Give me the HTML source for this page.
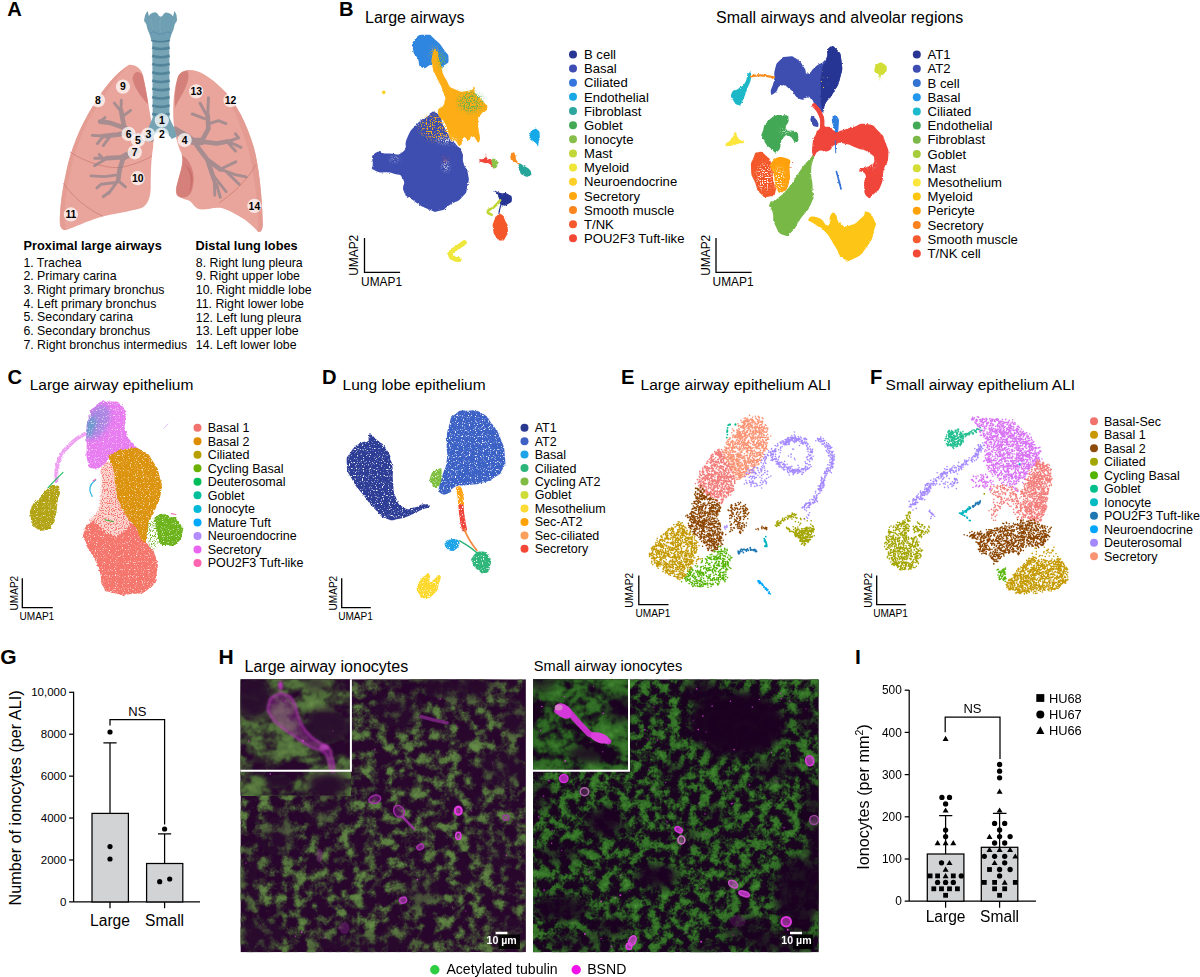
<!DOCTYPE html>
<html><head><meta charset="utf-8"><title>Figure</title>
<style>
html,body{margin:0;padding:0;background:#fff;}
body{width:1200px;height:977px;overflow:hidden;font-family:"Liberation Sans",sans-serif;}
svg{display:block;position:absolute;left:0;top:0;}
text{font-family:"Liberation Sans",sans-serif;fill:#000;}
.b{font-weight:bold;}
</style></head><body>
<svg width="1200" height="977" viewBox="0 0 1200 977">
<defs>

<filter id="roughB" x="350" y="20" width="570" height="265" filterUnits="userSpaceOnUse">
<feTurbulence type="fractalNoise" baseFrequency="0.45" numOctaves="2" seed="7" result="n"/>
<feDisplacementMap in="SourceGraphic" in2="n" scale="2.4" xChannelSelector="R" yChannelSelector="G"/>
</filter>
<filter id="roughS" x="350" y="20" width="570" height="265" filterUnits="userSpaceOnUse">
<feTurbulence type="fractalNoise" baseFrequency="0.45" numOctaves="2" seed="17" result="n"/>
<feDisplacementMap in="SourceGraphic" in2="n" scale="1.4" xChannelSelector="R" yChannelSelector="G"/>
</filter>
<filter id="speckA" x="350" y="20" width="570" height="265" filterUnits="userSpaceOnUse">
<feTurbulence type="fractalNoise" baseFrequency="0.75" numOctaves="1" seed="11" result="n"/>
<feColorMatrix in="n" type="matrix" values="0 0 0 0 0 0 0 0 0 0 0 0 0 0 0 0 0 0 12 -5.8" result="m"/>
<feGaussianBlur in="SourceGraphic" stdDeviation="2" result="b"/>
<feComposite in="b" in2="m" operator="in"/>
</filter>
<filter id="speckB" x="350" y="20" width="570" height="265" filterUnits="userSpaceOnUse">
<feTurbulence type="fractalNoise" baseFrequency="0.8" numOctaves="1" seed="23" result="n"/>
<feColorMatrix in="n" type="matrix" values="0 0 0 0 0 0 0 0 0 0 0 0 0 0 0 0 0 0 12 -6.4" result="m"/>
<feGaussianBlur in="SourceGraphic" stdDeviation="2.5" result="b"/>
<feComposite in="b" in2="m" operator="in"/>
</filter>
<filter id="blurT" x="-50%" y="-50%" width="200%" height="200%"><feGaussianBlur stdDeviation="12"/></filter>
<filter id="speckC" x="350" y="20" width="570" height="265" filterUnits="userSpaceOnUse">
<feTurbulence type="fractalNoise" baseFrequency="0.8" numOctaves="1" seed="41" result="n"/>
<feColorMatrix in="n" type="matrix" values="0 0 0 0 0 0 0 0 0 0 0 0 0 0 0 0 0 0 12 -8.2" result="m"/>
<feComposite in="SourceGraphic" in2="m" operator="in"/>
</filter>
<filter id="grainC" x="0" y="380" width="330" height="260" filterUnits="userSpaceOnUse">
<feTurbulence type="fractalNoise" baseFrequency="0.4" numOctaves="2" seed="5" result="n0"/>
<feDisplacementMap in="SourceGraphic" in2="n0" scale="3.2" xChannelSelector="R" yChannelSelector="G" result="d"/>
<feTurbulence type="fractalNoise" baseFrequency="0.85" numOctaves="1" seed="3" result="n"/>
<feColorMatrix in="n" type="matrix" values="0 0 0 0 0 0 0 0 0 0 0 0 0 0 0 0 0 0 -4.5 3.65" result="m"/>
<feComposite in="d" in2="m" operator="in"/>
</filter>
<filter id="sparseC" x="0" y="380" width="330" height="260" filterUnits="userSpaceOnUse">
<feTurbulence type="fractalNoise" baseFrequency="0.85" numOctaves="1" seed="13" result="n"/>
<feColorMatrix in="n" type="matrix" values="0 0 0 0 0 0 0 0 0 0 0 0 0 0 0 0 0 0 9 -4.6" result="m"/>
<feGaussianBlur in="SourceGraphic" stdDeviation="1.6" result="b"/>
<feComposite in="b" in2="m" operator="in"/>
</filter>
<filter id="grainD" x="320" y="380" width="300" height="260" filterUnits="userSpaceOnUse">
<feTurbulence type="fractalNoise" baseFrequency="0.4" numOctaves="2" seed="9" result="n0"/>
<feDisplacementMap in="SourceGraphic" in2="n0" scale="2.5" xChannelSelector="R" yChannelSelector="G" result="d"/>
<feTurbulence type="fractalNoise" baseFrequency="0.85" numOctaves="1" seed="8" result="n"/>
<feColorMatrix in="n" type="matrix" values="0 0 0 0 0 0 0 0 0 0 0 0 0 0 0 0 0 0 -6 4.5" result="m"/>
<feComposite in="d" in2="m" operator="in"/>
</filter>

<clipPath id="clipL"><rect x="240.5" y="679.3" width="285.4" height="272.9"/></clipPath>
<clipPath id="clipR"><rect x="533" y="679.3" width="285.8" height="272.9"/></clipPath>
<filter id="blur07"><feGaussianBlur stdDeviation="0.6"/></filter>
<filter id="blur1" x="-20%" y="-20%" width="140%" height="140%"><feGaussianBlur stdDeviation="0.9"/></filter>
<filter id="blur2" x="-50%" y="-50%" width="200%" height="200%"><feGaussianBlur stdDeviation="3.5"/></filter>
<filter id="blur3" x="-50%" y="-50%" width="200%" height="200%"><feGaussianBlur stdDeviation="4.5"/></filter>
<filter id="blur4" x="-50%" y="-50%" width="200%" height="200%"><feGaussianBlur stdDeviation="7"/></filter>
<filter id="micL" x="0" y="0" width="100%" height="100%" color-interpolation-filters="sRGB">
<feTurbulence type="fractalNoise" baseFrequency="0.085" numOctaves="2" seed="2" result="n1"/>
<feTurbulence type="fractalNoise" baseFrequency="0.4" numOctaves="2" seed="5" result="n2"/>
<feComposite in="n1" in2="n2" operator="arithmetic" k1="0" k2="1" k3="0.25" k4="-0.125" result="n"/>
<feColorMatrix in="n" type="matrix" values="0 0 0 0.4 0.06  0 0 0 0.55 0.08  0 0 0 0.25 0.07  0 0 0 3.8 -1.58"/>
</filter>
<filter id="micLi" x="0" y="0" width="100%" height="100%" color-interpolation-filters="sRGB">
<feTurbulence type="fractalNoise" baseFrequency="0.03 0.05" numOctaves="3" seed="14" result="n1"/>
<feTurbulence type="fractalNoise" baseFrequency="0.15" numOctaves="2" seed="5" result="n2"/>
<feComposite in="n1" in2="n2" operator="arithmetic" k1="0" k2="1" k3="0.3" k4="-0.15" result="n"/>
<feColorMatrix in="n" type="matrix" values="0 0 0 0.4 0.06  0 0 0 0.55 0.08  0 0 0 0.25 0.07  0 0 0 3.6 -1.2"/>
</filter>
<filter id="micR" x="0" y="0" width="100%" height="100%" color-interpolation-filters="sRGB">
<feTurbulence type="fractalNoise" baseFrequency="0.1" numOctaves="3" seed="31" result="n1"/>
<feTurbulence type="fractalNoise" baseFrequency="0.45" numOctaves="2" seed="6" result="n2"/>
<feComposite in="n1" in2="n2" operator="arithmetic" k1="0" k2="1" k3="0.28" k4="-0.14" result="n"/>
<feColorMatrix in="n" type="matrix" values="0 0 0 0.3 0.0  0 0 0 0.5 0.1  0 0 0 0.2 0.02  0 0 0 4.2 -1.6"/>
</filter>
<filter id="micRi" x="0" y="0" width="100%" height="100%" color-interpolation-filters="sRGB">
<feTurbulence type="fractalNoise" baseFrequency="0.035 0.05" numOctaves="3" seed="37" result="n1"/>
<feTurbulence type="fractalNoise" baseFrequency="0.18" numOctaves="2" seed="6" result="n2"/>
<feComposite in="n1" in2="n2" operator="arithmetic" k1="0" k2="1" k3="0.35" k4="-0.175" result="n"/>
<feColorMatrix in="n" type="matrix" values="0 0 0 0.3 0.0  0 0 0 0.5 0.1  0 0 0 0.2 0.02  0 0 0 4 -1.25"/>
</filter>
</defs>
<text x="7.3" y="15.7" font-size="20.2" class="b">A</text>
<text x="339" y="15.7" font-size="20.2" class="b">B</text>
<text x="7.5" y="384.3" font-size="20.2" class="b">C</text>
<text x="322" y="384.3" font-size="20.2" class="b">D</text>
<text x="621" y="384.3" font-size="20.2" class="b">E</text>
<text x="870" y="384.3" font-size="20.2" class="b">F</text>
<text x="0.3" y="664" font-size="21" class="b">G</text>
<text x="218.6" y="664" font-size="21" class="b">H</text>
<text x="855" y="664" font-size="21" class="b">I</text>
<text x="23.6" y="250" font-size="12.75" class="b">Proximal large airways</text>
<text x="23.4" y="266.5" font-size="12.33">1. Trachea</text>
<text x="23.4" y="280.23" font-size="12.33">2. Primary carina</text>
<text x="23.4" y="293.96" font-size="12.33">3. Right primary bronchus</text>
<text x="23.4" y="307.69" font-size="12.33">4. Left primary bronchus</text>
<text x="23.4" y="321.42" font-size="12.33">5. Secondary carina</text>
<text x="23.4" y="335.15" font-size="12.33">6. Secondary bronchus</text>
<text x="23.4" y="348.88" font-size="12.33">7. Right bronchus intermedius</text>
<text x="195.6" y="250" font-size="12.75" class="b">Distal lung lobes</text>
<text x="195.8" y="266.6" font-size="12.33">8. Right lung pleura</text>
<text x="195.8" y="280.33" font-size="12.33">9. Right upper lobe</text>
<text x="195.8" y="294.06" font-size="12.33">10. Right middle lobe</text>
<text x="195.8" y="307.79" font-size="12.33">11. Right lower lobe</text>
<text x="195.8" y="321.52" font-size="12.33">12. Left lung pleura</text>
<text x="195.8" y="335.25" font-size="12.33">13. Left upper lobe</text>
<text x="195.8" y="348.98" font-size="12.33">14. Left lower lobe</text>
<g transform="translate(50 0) scale(0.24565)">
<path d="M322 264 C350 262 372 280 380 310 C392 370 402 430 410 480 C416 520 424 560 420 600 C412 640 410 700 410 760 C410 800 400 835 370 848 C320 862 260 870 200 885 C150 900 100 925 66 936 C48 940 40 925 40 900 C40 850 48 780 66 700 C84 610 120 520 175 430 C215 365 265 300 322 264Z" fill="#E9A59B"/>
<path d="M322 264 C265 300 215 365 175 430 C120 520 84 610 66 700 C48 780 40 850 40 900 C40 925 48 940 66 936 C55 900 58 820 78 720 C98 620 135 520 190 435 C230 372 275 310 322 264Z" fill="#E39A90" opacity="0.8"/>
<path d="M336 322 C338 292 362 284 376 306 C388 345 394 385 400 425 C378 404 345 365 336 322Z" fill="#D5807A"/>
<path d="M82 619 C150 665 250 692 300 679 C350 668 390 650 415 635" fill="none" stroke="#CF8078" stroke-width="3.5"/>
<path d="M55 745 C90 800 150 850 215 880" fill="none" stroke="#CF8078" stroke-width="3.5"/>
<path d="M560 285 C600 280 650 310 700 360 C760 420 800 500 830 600 C850 680 862 780 866 900 C868 935 858 950 846 942 C825 920 800 896 780 886 C750 870 720 850 692 846 C660 842 630 860 602 850 C585 840 580 824 565 816 C548 810 530 806 520 798 C508 785 512 765 520 740 C530 700 545 660 535 625 C520 590 505 540 502 480 C500 420 505 360 520 315 C528 295 545 287 560 285Z" fill="#E9A59B"/>
<path d="M700 360 C760 420 800 500 830 600 C850 680 862 780 866 900 C868 935 858 950 846 942 C850 880 840 760 815 640 C790 540 750 440 700 360Z" fill="#E39A90" opacity="0.85"/>
<path d="M520 315 C528 295 545 287 560 290 C570 310 560 340 545 370 C530 400 515 420 510 440 C505 400 510 350 520 315Z" fill="#D5817B"/>
<path d="M538 632 C578 655 596 720 578 775 C568 800 548 808 530 803 C512 798 510 775 520 740 C530 700 545 670 538 632Z" fill="#D5807A"/>
<path d="M548 670 C575 700 580 745 565 790 C585 750 592 700 548 670Z" fill="#C96E6A"/>
<path d="M690 825 C740 790 800 740 838 670" fill="none" stroke="#CF8078" stroke-width="3.5"/>
<g stroke="#8A828C" opacity="0.68" fill="none" stroke-linecap="round" stroke-linejoin="round"><path d="M410 565 L373 561 L335 554M350 614 L298 640" stroke-width="27"/><path d="M335 554 L301 513 L289 449M320 539 L275 548 L217 554M301 520 L245 500 L204 495M298 640 L232 644M299 640 L284 689 L277 735" stroke-width="19"/><path d="M289 449 L290 408M289 453 L262 420M295 475 L328 449M217 554 L172 551M217 554 L193 585M245 554 L217 593M204 495 L224 479M232 644 L182 644M232 644 L181 675M212 642 L200 629M277 735 L238 788M277 735 L307 761M283 711 L223 719 L167 716M268 743 L208 750 L191 765M245 779 L217 801" stroke-width="12"/></g>
<g stroke="#8A828C" opacity="0.68" fill="none" stroke-linecap="round" stroke-linejoin="round"><path d="M509 530 L551 554 L581 575 L618 576" stroke-width="30"/><path d="M618 573 L645 524 L642 471M618 576 L678 584 L723 576M596 591 L641 651 L693 689M641 651 L669 734" stroke-width="19"/><path d="M642 471 L645 398M639 471 L611 420M629 483 L579 464M648 503 L686 491 L716 503M723 576 L768 561 L755 545M723 579 L755 615M727 576 L777 600M693 689 L753 711 L798 720M693 689 L756 659M723 704 L770 750M669 734 L671 795M662 711 L717 780M678 749 L693 803" stroke-width="12"/></g>
<path d="M416 150 L486 150 L486 478 C494 500 510 522 516 556 L496 566 C482 545 466 534 452 534 C438 534 424 548 410 572 L388 560 C398 520 410 500 418 478Z" fill="#76A4B4"/>
<path d="M416 193.5 C435 201.5 467 201.5 487 193.5" fill="none" stroke="#52849A" stroke-width="10.5"/>
<path d="M416 227.0 C435 235.0 467 235.0 487 227.0" fill="none" stroke="#52849A" stroke-width="10.5"/>
<path d="M416 260.0 C435 268.0 467 268.0 487 260.0" fill="none" stroke="#52849A" stroke-width="10.5"/>
<path d="M416 294.0 C435 302.0 467 302.0 487 294.0" fill="none" stroke="#52849A" stroke-width="10.5"/>
<path d="M416 327.5 C435 335.5 467 335.5 487 327.5" fill="none" stroke="#52849A" stroke-width="10.5"/>
<path d="M416 361.0 C435 369.0 467 369.0 487 361.0" fill="none" stroke="#52849A" stroke-width="10.5"/>
<path d="M416 395.0 C435 403.0 467 403.0 487 395.0" fill="none" stroke="#52849A" stroke-width="10.5"/>
<path d="M416 429.0 C435 437.0 467 437.0 487 429.0" fill="none" stroke="#52849A" stroke-width="10.5"/>
<path d="M416 463.0 C435 471.0 467 471.0 487 463.0" fill="none" stroke="#52849A" stroke-width="10.5"/>
<path d="M397 45 C400 52 402 60 402 66 C405 60 412 52 428 50 C436 52 440 58 442 62 C445 68 454 70 458 64 C462 56 468 50 474 51 C486 52 496 58 501 67 C503 60 504 52 506 45 C512 52 517 62 516 72 C518 80 517 88 512 92 C508 98 506 105 505 112 C503 122 498 132 494 140 C492 148 490 155 488 161 C470 168 430 168 412 161 C410 155 408 148 406 140 C402 132 397 122 395 112 C394 105 392 98 388 92 C382 88 382 80 385 72 C386 62 392 52 397 45Z" fill="#6F9FB2"/>
<path d="M406 140 C414 128 424 128 432 134 C442 141 458 141 468 134 C476 128 486 128 494 140" fill="none" stroke="#4F7FA8" stroke-width="2.2"/>
<path d="M411 160 C430 168 470 168 489 160 L488 168 C470 175 430 175 412 168Z" fill="#4F8098"/>
<path d="M450 72 C447 90 446 110 450 130" fill="none" stroke="#7FAABA" stroke-width="3"/>
<path d="M412 75 C408 90 412 105 420 118" fill="none" stroke="#7CA9B9" stroke-width="4" opacity="0.8"/>
<circle cx="455" cy="490" r="29" fill="#fff" fill-opacity="0.72"/><circle cx="455" cy="548" r="29" fill="#fff" fill-opacity="0.72"/><circle cx="400" cy="548" r="29" fill="#fff" fill-opacity="0.72"/><circle cx="548" cy="570" r="29" fill="#fff" fill-opacity="0.72"/><circle cx="358" cy="570" r="29" fill="#fff" fill-opacity="0.72"/><circle cx="320" cy="545" r="29" fill="#fff" fill-opacity="0.72"/><circle cx="345" cy="620" r="29" fill="#fff" fill-opacity="0.72"/><circle cx="195" cy="408" r="29" fill="#fff" fill-opacity="0.72"/><circle cx="297" cy="353" r="29" fill="#fff" fill-opacity="0.72"/><circle cx="357" cy="725" r="29" fill="#fff" fill-opacity="0.72"/><circle cx="85" cy="873" r="29" fill="#fff" fill-opacity="0.72"/><circle cx="735" cy="408" r="29" fill="#fff" fill-opacity="0.72"/><circle cx="595" cy="372" r="29" fill="#fff" fill-opacity="0.72"/><circle cx="832" cy="838" r="29" fill="#fff" fill-opacity="0.72"/></g>
<text x="161.8" y="124.1" font-size="10.4" class="b" text-anchor="middle">1</text><text x="161.8" y="138.3" font-size="10.4" class="b" text-anchor="middle">2</text><text x="148.3" y="138.3" font-size="10.4" class="b" text-anchor="middle">3</text><text x="184.6" y="143.7" font-size="10.4" class="b" text-anchor="middle">4</text><text x="137.9" y="143.7" font-size="10.4" class="b" text-anchor="middle">5</text><text x="128.6" y="137.6" font-size="10.4" class="b" text-anchor="middle">6</text><text x="134.7" y="156.0" font-size="10.4" class="b" text-anchor="middle">7</text><text x="97.9" y="103.9" font-size="10.4" class="b" text-anchor="middle">8</text><text x="123.0" y="90.4" font-size="10.4" class="b" text-anchor="middle">9</text><text x="137.7" y="181.8" font-size="10.4" class="b" text-anchor="middle">10</text><text x="70.9" y="218.2" font-size="10.4" class="b" text-anchor="middle">11</text><text x="230.6" y="103.9" font-size="10.4" class="b" text-anchor="middle">12</text><text x="196.2" y="95.1" font-size="10.4" class="b" text-anchor="middle">13</text><text x="254.4" y="209.6" font-size="10.4" class="b" text-anchor="middle">14</text>
<text x="365" y="23.1" font-size="16">Large airways</text>
<text x="716" y="23.1" font-size="16">Small airways and alveolar regions</text>
<circle cx="573" cy="54.40" r="4.0" fill="#283593"/><text x="584" y="59.05" font-size="13.1">B cell</text>
<circle cx="573" cy="68.55" r="4.0" fill="#3F4DB3"/><text x="584" y="73.2" font-size="13.1">Basal</text>
<circle cx="573" cy="82.70" r="4.0" fill="#3576DE"/><text x="584" y="87.35" font-size="13.1">Ciliated</text>
<circle cx="573" cy="96.85" r="4.0" fill="#18A8E6"/><text x="584" y="101.5" font-size="13.1">Endothelial</text>
<circle cx="573" cy="111.00" r="4.0" fill="#2EA6A0"/><text x="584" y="115.65" font-size="13.1">Fibroblast</text>
<circle cx="573" cy="125.15" r="4.0" fill="#43A955"/><text x="584" y="129.8" font-size="13.1">Goblet</text>
<circle cx="573" cy="139.30" r="4.0" fill="#88BE4B"/><text x="584" y="143.95" font-size="13.1">Ionocyte</text>
<circle cx="573" cy="153.45" r="4.0" fill="#C2D738"/><text x="584" y="158.1" font-size="13.1">Mast</text>
<circle cx="573" cy="167.60" r="4.0" fill="#F0E637"/><text x="584" y="172.25" font-size="13.1">Myeloid</text>
<circle cx="573" cy="181.75" r="4.0" fill="#FDD029"/><text x="584" y="186.4" font-size="13.1">Neuroendocrine</text>
<circle cx="573" cy="195.90" r="4.0" fill="#FFA70C"/><text x="584" y="200.55" font-size="13.1">Secretory</text>
<circle cx="573" cy="210.05" r="4.0" fill="#FB8620"/><text x="584" y="214.7" font-size="13.1">Smooth muscle</text>
<circle cx="573" cy="224.20" r="4.0" fill="#F5592E"/><text x="584" y="228.85" font-size="13.1">T/NK</text>
<circle cx="573" cy="238.35" r="4.0" fill="#F44837"/><text x="584" y="243.0" font-size="13.1">POU2F3 Tuft-like</text>
<circle cx="916.8" cy="54.60" r="4.0" fill="#283593"/><text x="927.6" y="59.25" font-size="13.1">AT1</text>
<circle cx="916.8" cy="68.80" r="4.0" fill="#3F4DB3"/><text x="927.6" y="73.45" font-size="13.1">AT2</text>
<circle cx="916.8" cy="83.00" r="4.0" fill="#3373D2"/><text x="927.6" y="87.65" font-size="13.1">B cell</text>
<circle cx="916.8" cy="97.20" r="4.0" fill="#2297EC"/><text x="927.6" y="101.85" font-size="13.1">Basal</text>
<circle cx="916.8" cy="111.40" r="4.0" fill="#1DB9CD"/><text x="927.6" y="116.05" font-size="13.1">Ciliated</text>
<circle cx="916.8" cy="125.60" r="4.0" fill="#43A955"/><text x="927.6" y="130.25" font-size="13.1">Endothelial</text>
<circle cx="916.8" cy="139.80" r="4.0" fill="#7CB74A"/><text x="927.6" y="144.45" font-size="13.1">Fibroblast</text>
<circle cx="916.8" cy="154.00" r="4.0" fill="#A6CC3B"/><text x="927.6" y="158.65" font-size="13.1">Goblet</text>
<circle cx="916.8" cy="168.20" r="4.0" fill="#D3DD36"/><text x="927.6" y="172.85" font-size="13.1">Mast</text>
<circle cx="916.8" cy="182.40" r="4.0" fill="#FCE63D"/><text x="927.6" y="187.05" font-size="13.1">Mesothelium</text>
<circle cx="916.8" cy="196.60" r="4.0" fill="#FEC611"/><text x="927.6" y="201.25" font-size="13.1">Myeloid</text>
<circle cx="916.8" cy="210.80" r="4.0" fill="#FFA20A"/><text x="927.6" y="215.45" font-size="13.1">Pericyte</text>
<circle cx="916.8" cy="225.00" r="4.0" fill="#FB811F"/><text x="927.6" y="229.65" font-size="13.1">Secretory</text>
<circle cx="916.8" cy="239.20" r="4.0" fill="#F5592E"/><text x="927.6" y="243.85" font-size="13.1">Smooth muscle</text>
<circle cx="916.8" cy="253.40" r="4.0" fill="#F44837"/><text x="927.6" y="258.05" font-size="13.1">T/NK cell</text>
<path d="M364.5 238V272.35H400.1" fill="none" stroke="#000" stroke-width="1.3"/>
<text x="381.55" y="286.2" font-size="11.9" text-anchor="middle">UMAP1</text>
<text x="358.2" y="255.28" font-size="11.9" text-anchor="middle" transform="rotate(-90 358.2 255.28)">UMAP2</text>
<path d="M716 238V272.35H751.6" fill="none" stroke="#000" stroke-width="1.3"/>
<text x="733.05" y="286.2" font-size="11.9" text-anchor="middle">UMAP1</text>
<text x="709.7" y="255.28" font-size="11.9" text-anchor="middle" transform="rotate(-90 709.7 255.28)">UMAP2</text>
<g filter="url(#roughB)"><g transform="translate(360 20) scale(0.25575)">
<path d="M300.0 365.0C325.0 381.7 311.0 391.0 335.0 430.0C359.0 469.0 351.0 453.7 372.0 482.0C393.0 510.3 387.0 489.0 398.0 515.0C409.0 541.0 397.0 531.7 405.0 560.0C413.0 588.3 417.0 570.0 422.0 600.0C427.0 630.0 427.3 619.3 420.0 650.0C412.7 680.7 422.7 668.0 400.0 692.0C377.3 716.0 381.3 704.0 352.0 722.0C322.7 740.0 340.0 740.0 312.0 746.0C284.0 752.0 303.7 754.3 268.0 740.0C232.3 725.7 237.0 725.7 205.0 703.0C173.0 680.3 184.3 699.0 172.0 672.0C159.7 645.0 182.0 646.0 168.0 622.0C154.0 598.0 165.3 610.7 130.0 600.0C94.7 589.3 88.7 603.3 62.0 590.0C35.3 576.7 50.7 583.3 50.0 560.0C49.3 536.7 40.0 532.7 60.0 520.0C80.0 507.3 74.0 523.7 110.0 522.0C146.0 520.3 143.0 535.7 168.0 515.0C193.0 494.3 167.7 495.0 185.0 460.0C202.3 425.0 195.0 436.7 220.0 410.0C245.0 383.3 233.3 395.0 260.0 380.0C286.7 365.0 275.0 348.3 300.0 365.0Z" fill="#3D4DB0"/>
<path d="M215.0 75.0C231.7 55.0 232.3 58.0 258.0 58.0C283.7 58.0 268.0 55.0 292.0 75.0C316.0 95.0 312.0 93.0 330.0 118.0C348.0 143.0 345.3 130.7 346.0 150.0C346.7 169.3 346.7 165.3 332.0 176.0C317.3 186.7 319.3 182.0 302.0 182.0C284.7 182.0 300.0 174.7 280.0 176.0C260.0 177.3 260.3 194.7 242.0 186.0C223.7 177.3 236.3 172.7 225.0 150.0C213.7 127.3 211.3 143.0 208.0 118.0C204.7 93.0 198.3 95.0 215.0 75.0Z" fill="#2D86E0"/>
<path d="M284.0 135.0C289.3 112.7 290.0 106.3 300.0 118.0C310.0 129.7 302.0 132.0 314.0 170.0C326.0 208.0 316.7 198.0 336.0 232.0C355.3 266.0 341.3 257.3 372.0 272.0C402.7 286.7 403.3 279.3 428.0 276.0C452.7 272.7 438.0 257.3 446.0 262.0C454.0 266.7 440.0 270.7 452.0 290.0C464.0 309.3 467.0 301.3 482.0 320.0C497.0 338.7 500.3 329.3 497.0 346.0C493.7 362.7 483.7 352.0 472.0 370.0C460.3 388.0 463.7 365.3 462.0 400.0C460.3 434.7 474.3 455.7 467.0 474.0C459.7 492.3 454.0 456.3 440.0 455.0C426.0 453.7 436.7 468.3 425.0 470.0C413.3 471.7 416.0 452.7 405.0 460.0C394.0 467.3 403.0 488.0 392.0 492.0C381.0 496.0 384.3 479.3 372.0 472.0C359.7 464.7 367.3 490.7 355.0 470.0C342.7 449.3 351.7 446.0 335.0 410.0C318.3 374.0 306.7 390.3 305.0 362.0C303.3 333.7 323.3 352.3 330.0 325.0C336.7 297.7 335.0 313.3 325.0 280.0C315.0 246.7 313.7 256.7 300.0 225.0C286.3 193.3 289.3 215.0 284.0 185.0C278.7 155.0 278.7 157.3 284.0 135.0Z" fill="#FDAE12"/>
</g></g>
<g filter="url(#speckA)"><g transform="translate(360 20) scale(0.25575)">
<ellipse cx="432" cy="322" rx="50" ry="40" fill="#6FB045"/>
<ellipse cx="318" cy="160" rx="12" ry="34" fill="#6FB045"/>
</g></g>
<g filter="url(#speckB)"><g transform="translate(360 20) scale(0.25575)">
<ellipse cx="300" cy="420" rx="65" ry="50" fill="#FDAE12"/>
<ellipse cx="292" cy="140" rx="14" ry="36" fill="#FDAE12"/>
</g></g>
<g filter="url(#speckA)"><g transform="translate(360 20) scale(0.25575)">
<ellipse cx="336" cy="574" rx="10" ry="16" fill="#fff"/>
<ellipse cx="135" cy="543" rx="18" ry="6" fill="#fff"/>
<ellipse cx="340" cy="470" rx="40" ry="10" fill="#fff"/>
<ellipse cx="332" cy="548" rx="8" ry="12" fill="#E0503A"/>
</g></g>
<g filter="url(#roughB)"><g transform="translate(360 20) scale(0.25575)">
<circle cx="93" cy="283" r="7" fill="#FDD227"/>
<path d="M665.0 445.0C669.0 435.0 665.0 435.0 675.0 430.0C685.0 425.0 685.7 421.7 695.0 430.0C704.3 438.3 702.0 438.3 703.0 455.0C704.0 471.7 700.3 467.0 698.0 480.0C695.7 493.0 699.3 493.3 696.0 494.0C692.7 494.7 696.0 489.3 688.0 482.0C680.0 474.7 680.3 479.3 672.0 472.0C663.7 464.7 665.3 469.0 663.0 460.0C660.7 451.0 661.0 455.0 665.0 445.0Z" fill="#19A9E8"/>
<path d="M465.0 548.0C466.0 542.0 479.0 548.7 488.0 540.0C497.0 531.3 488.7 521.3 492.0 522.0C495.3 522.7 490.3 533.3 498.0 542.0C505.7 550.7 507.7 537.0 515.0 548.0C522.3 559.0 523.3 570.3 520.0 575.0C516.7 579.7 516.7 567.7 505.0 562.0C493.3 556.3 498.3 562.7 485.0 558.0C471.7 553.3 464.0 554.0 465.0 548.0Z" fill="#F04438"/>
<path d="M515.0 548.0C519.0 539.0 522.3 540.3 530.0 545.0C537.7 549.7 538.7 550.3 538.0 562.0C537.3 573.7 534.7 576.7 528.0 580.0C521.3 583.3 522.3 582.7 518.0 572.0C513.7 561.3 511.0 557.0 515.0 548.0Z" fill="#8BC34A"/>
<path d="M588.0 540.0C587.3 528.7 591.3 521.3 598.0 518.0C604.7 514.7 603.3 520.0 608.0 530.0C612.7 540.0 605.3 536.3 612.0 548.0C618.7 559.7 627.0 560.3 628.0 565.0C629.0 569.7 624.3 566.3 615.0 562.0C605.7 557.7 609.0 559.3 600.0 552.0C591.0 544.7 588.7 551.3 588.0 540.0Z" fill="#FB8C1E"/>
<path d="M622.0 565.0C627.0 557.7 624.7 561.0 640.0 570.0C655.3 579.0 661.3 578.7 668.0 592.0C674.7 605.3 669.3 604.7 660.0 610.0C650.7 615.3 651.7 614.0 640.0 608.0C628.3 602.0 631.0 606.3 625.0 592.0C619.0 577.7 617.0 572.3 622.0 565.0Z" fill="#26A69A"/>
<path d="M526.0 668.0C530.0 666.0 532.7 672.0 550.0 676.0C567.3 680.0 563.3 672.0 578.0 680.0C592.7 688.0 594.0 686.7 594.0 700.0C594.0 713.3 592.0 712.7 578.0 720.0C564.0 727.3 563.3 728.7 552.0 722.0C540.7 715.3 548.7 713.3 544.0 700.0C539.3 686.7 544.0 692.7 538.0 682.0C532.0 671.3 522.0 670.0 526.0 668.0Z" fill="#283593"/>
<path d="M548.0 705.0C540.3 713.3 541.0 715.7 525.0 730.0C509.0 744.3 503.3 737.3 500.0 748.0C496.7 758.7 510.0 757.3 515.0 762.0" fill="none" stroke="#C0D636" stroke-width="10" stroke-linecap="round"/>
<path d="M552.0 720.0C549.7 728.3 548.3 730.0 545.0 745.0C541.7 760.0 543.0 758.3 542.0 765.0" fill="none" stroke="#283593" stroke-width="5" stroke-linecap="round"/>
<path d="M535.0 765.0C544.3 756.7 541.0 753.3 552.0 760.0C563.0 766.7 559.3 766.7 568.0 785.0C576.7 803.3 577.3 794.0 578.0 815.0C578.7 836.0 578.7 832.3 570.0 848.0C561.3 863.7 564.7 862.0 552.0 862.0C539.3 862.0 542.7 863.7 532.0 848.0C521.3 832.3 522.7 836.0 520.0 815.0C517.3 794.0 519.0 801.7 524.0 785.0C529.0 768.3 525.7 773.3 535.0 765.0Z" fill="#F4592B"/>
<path d="M408.0 870.0C400.0 876.0 400.0 876.7 384.0 888.0C368.0 899.3 370.0 893.3 360.0 904.0C350.0 914.7 351.3 910.3 354.0 920.0C356.7 929.7 356.7 927.3 368.0 933.0C379.3 938.7 381.3 935.7 388.0 937.0" fill="none" stroke="#EFE73A" stroke-width="19" stroke-linecap="round"/>
</g></g>
<g filter="url(#roughB)"><g transform="translate(715 35) scale(0.24051)">
<path d="M232.0 238.0C230.3 221.3 239.0 222.7 245.0 190.0C251.0 157.3 241.7 168.3 250.0 140.0C258.3 111.7 253.3 121.7 270.0 105.0C286.7 88.3 276.7 91.7 300.0 90.0C323.3 88.3 316.7 85.0 340.0 100.0C363.3 115.0 354.7 115.0 370.0 135.0C385.3 155.0 369.3 161.7 386.0 160.0C402.7 158.3 395.3 150.0 420.0 130.0C444.7 110.0 442.0 125.0 460.0 100.0C478.0 75.0 458.7 68.3 474.0 55.0C489.3 41.7 488.7 41.7 506.0 60.0C523.3 78.3 521.3 70.0 526.0 110.0C530.7 150.0 531.3 136.7 520.0 180.0C508.7 223.3 511.3 206.7 492.0 240.0C472.7 273.3 477.3 252.7 462.0 280.0C446.7 307.3 460.0 317.0 446.0 322.0C432.0 327.0 438.0 315.0 420.0 295.0C402.0 275.0 414.7 271.7 392.0 262.0C369.3 252.3 378.7 278.0 352.0 266.0C325.3 254.0 337.3 244.7 312.0 226.0C286.7 207.3 296.7 205.3 276.0 210.0C255.3 214.7 264.7 230.7 250.0 240.0C235.3 249.3 233.7 254.7 232.0 238.0Z" fill="#3D4DB0"/>
<path d="M472.0 55.0C486.0 41.7 488.0 41.7 506.0 60.0C524.0 78.3 521.3 70.0 526.0 110.0C530.7 150.0 531.3 136.7 520.0 180.0C508.7 223.3 511.3 206.7 492.0 240.0C472.7 273.3 477.3 258.3 462.0 280.0C446.7 301.7 453.3 321.7 446.0 305.0C438.7 288.3 440.7 281.7 440.0 230.0C439.3 178.3 436.0 193.3 444.0 150.0C452.0 106.7 454.7 131.7 464.0 100.0C473.3 68.3 458.0 68.3 472.0 55.0Z" fill="#283593"/>
<path d="M430.0 395.0C446.7 385.0 446.7 380.3 470.0 382.0C493.3 383.7 480.0 395.3 500.0 400.0C520.0 404.7 506.7 401.3 530.0 396.0C553.3 390.7 536.7 392.7 570.0 384.0C603.3 375.3 593.3 364.7 630.0 370.0C666.7 375.3 653.3 373.3 680.0 400.0C706.7 426.7 696.7 413.3 710.0 450.0C723.3 486.7 722.7 473.3 720.0 510.0C717.3 546.7 711.3 523.3 702.0 560.0C692.7 596.7 705.3 586.7 692.0 620.0C678.7 653.3 682.0 642.7 662.0 660.0C642.0 677.3 646.0 684.7 632.0 672.0C618.0 659.3 622.0 652.0 620.0 622.0C618.0 592.0 632.7 602.7 626.0 582.0C619.3 561.3 595.3 572.3 600.0 560.0C604.7 547.7 619.3 558.3 640.0 545.0C660.7 531.7 662.0 538.3 662.0 520.0C662.0 501.7 664.0 506.7 640.0 490.0C616.0 473.3 623.3 482.7 590.0 470.0C556.7 457.3 570.0 456.7 540.0 452.0C510.0 447.3 523.3 446.0 500.0 456.0C476.7 466.0 492.7 473.3 470.0 482.0C447.3 490.7 452.0 475.3 432.0 482.0C412.0 488.7 418.7 512.7 410.0 502.0C401.3 491.3 402.7 480.0 406.0 450.0C409.3 420.0 412.0 430.3 420.0 412.0C428.0 393.7 413.3 405.0 430.0 395.0Z" fill="#F0443A"/>
<path d="M412.0 292.0C420.7 304.0 426.7 301.3 438.0 328.0C449.3 354.7 445.3 348.0 446.0 372.0C446.7 396.0 442.0 390.7 440.0 400.0" fill="none" stroke="#F0443A" stroke-width="18" stroke-linecap="round"/>
<path d="M415.0 492.0C407.3 504.7 407.7 506.7 392.0 530.0C376.3 553.3 376.0 551.3 368.0 562.0" fill="none" stroke="#F0443A" stroke-width="8" stroke-linecap="round"/>
<path d="M488.0 345.0C493.3 330.7 501.3 330.3 510.0 342.0C518.7 353.7 515.3 359.0 514.0 380.0C512.7 401.0 512.7 403.3 506.0 405.0C499.3 406.7 500.0 405.0 494.0 385.0C488.0 365.0 482.7 359.3 488.0 345.0Z" fill="#2F7FE0"/>
<path d="M398.0 345.0C400.7 336.7 399.3 331.0 410.0 340.0C420.7 349.0 428.3 358.7 430.0 372.0C431.7 385.3 424.3 382.3 415.0 380.0C405.7 377.7 407.7 376.7 402.0 365.0C396.3 353.3 395.3 353.3 398.0 345.0Z" fill="#3D4DB0"/>
<path d="M505.0 568.0C508.3 580.3 508.7 581.0 515.0 605.0C521.3 629.0 521.0 628.3 524.0 640.0" fill="none" stroke="#2F6FD8" stroke-width="7" stroke-linecap="round"/>
<path d="M500.0 440.0 L502.0 490.0" fill="none" stroke="#2F6FD8" stroke-width="4" stroke-linecap="round"/>
<path d="M70.0 240.0C77.3 223.3 80.0 235.3 98.0 222.0C116.0 208.7 110.7 220.7 124.0 200.0C137.3 179.3 129.3 168.0 138.0 160.0C146.7 152.0 152.0 152.7 150.0 176.0C148.0 199.3 144.7 195.3 132.0 230.0C119.3 264.7 122.7 259.3 112.0 280.0C101.3 300.7 112.0 294.7 100.0 292.0C88.0 289.3 86.0 289.3 76.0 272.0C66.0 254.7 62.7 256.7 70.0 240.0Z" fill="#1FB8C8"/>
<path d="M150.0 172.0C163.3 170.7 158.3 166.7 190.0 168.0C221.7 169.3 226.7 173.3 245.0 176.0" fill="none" stroke="#FB8C1E" stroke-width="9" stroke-linecap="round"/>
<path d="M664.0 138.0C667.3 124.7 664.7 123.3 678.0 118.0C691.3 112.7 692.0 113.0 704.0 122.0C716.0 131.0 715.3 131.0 714.0 145.0C712.7 159.0 708.0 156.3 700.0 164.0C692.0 171.7 694.7 159.3 690.0 168.0C685.3 176.7 689.0 190.7 686.0 190.0C683.0 189.3 687.0 176.7 681.0 166.0C675.0 155.3 673.7 167.3 668.0 158.0C662.3 148.7 660.7 151.3 664.0 138.0Z" fill="#D2DE36"/>
<path d="M44.0 456.0C44.0 446.0 56.7 447.3 70.0 430.0C83.3 412.7 74.7 404.0 84.0 404.0C93.3 404.0 85.3 416.0 98.0 430.0C110.7 444.0 122.7 438.7 122.0 446.0C121.3 453.3 113.3 447.3 96.0 452.0C78.7 456.7 87.3 458.7 70.0 460.0C52.7 461.3 44.0 466.0 44.0 456.0Z" fill="#FCE63D"/>
<path d="M198.0 402.0C207.3 375.3 199.0 372.7 228.0 350.0C257.0 327.3 259.0 334.0 285.0 334.0C311.0 334.0 302.3 331.3 306.0 350.0C309.7 368.7 288.0 373.3 296.0 390.0C304.0 406.7 313.3 390.0 330.0 400.0C346.7 410.0 344.0 404.7 346.0 420.0C348.0 435.3 348.0 445.3 336.0 446.0C324.0 446.7 328.0 427.3 310.0 422.0C292.0 416.7 298.0 410.0 282.0 430.0C266.0 450.0 279.3 468.7 262.0 482.0C244.7 495.3 250.7 487.3 230.0 470.0C209.3 452.7 210.7 452.7 200.0 430.0C189.3 407.3 188.7 428.7 198.0 402.0Z" fill="#43A854"/>
<path d="M180.0 488.0C196.7 484.7 191.3 482.7 210.0 500.0C228.7 517.3 225.3 506.7 236.0 540.0C246.7 573.3 236.7 563.3 242.0 600.0C247.3 636.7 257.3 626.0 252.0 650.0C246.7 674.0 246.7 668.7 226.0 672.0C205.3 675.3 210.3 680.7 190.0 660.0C169.7 639.3 178.3 643.3 165.0 610.0C151.7 576.7 151.7 593.3 150.0 560.0C148.3 526.7 150.0 534.0 160.0 510.0C170.0 486.0 163.3 491.3 180.0 488.0Z" fill="#F4592B"/>
<path d="M236.0 528.0C254.0 502.7 275.3 503.3 300.0 514.0C324.7 524.7 308.0 524.7 310.0 560.0C312.0 595.3 315.3 589.3 306.0 620.0C296.7 650.7 298.7 645.3 282.0 652.0C265.3 658.7 268.0 660.7 256.0 640.0C244.0 619.3 252.7 627.3 246.0 590.0C239.3 552.7 218.0 553.3 236.0 528.0Z" fill="#FFA010"/>
<path d="M412.0 508.0C415.3 521.3 402.0 516.0 400.0 560.0C398.0 604.0 406.0 593.3 406.0 640.0C406.0 686.7 418.0 656.7 400.0 700.0C382.0 743.3 378.0 731.7 352.0 770.0C326.0 808.3 344.0 794.3 322.0 815.0C300.0 835.7 310.0 840.3 286.0 832.0C262.0 823.7 265.3 820.7 250.0 790.0C234.7 759.3 247.3 770.0 240.0 740.0C232.7 710.0 221.3 720.0 228.0 700.0C234.7 680.0 232.7 703.3 260.0 680.0C287.3 656.7 280.0 666.7 310.0 630.0C340.0 593.3 323.3 606.7 350.0 570.0C376.7 533.3 369.3 540.7 390.0 520.0C410.7 499.3 408.7 494.7 412.0 508.0Z" fill="#78B847"/>
<path d="M388.0 765.0C391.3 755.0 402.7 751.0 430.0 760.0C457.3 769.0 453.3 795.3 470.0 792.0C486.7 788.7 470.0 765.7 480.0 750.0C490.0 734.3 486.7 734.3 500.0 745.0C513.3 755.7 500.0 766.3 520.0 782.0C540.0 797.7 530.0 799.3 560.0 792.0C590.0 784.7 586.7 779.0 610.0 760.0C633.3 741.0 612.7 731.7 630.0 735.0C647.3 738.3 651.3 745.0 662.0 770.0C672.7 795.0 672.0 773.3 662.0 810.0C652.0 846.7 662.0 839.3 632.0 880.0C602.0 920.7 606.0 916.7 572.0 932.0C538.0 947.3 554.0 943.3 530.0 926.0C506.0 908.7 523.3 915.3 500.0 880.0C476.7 844.7 486.7 850.0 460.0 820.0C433.3 790.0 444.0 808.3 420.0 790.0C396.0 771.7 384.7 775.0 388.0 765.0Z" fill="#FDC512"/>
</g></g>
<g filter="url(#speckB)"><g transform="translate(715 35) scale(0.24051)">
<ellipse cx="205" cy="590" rx="30" ry="55" fill="#fff"/>
<ellipse cx="268" cy="600" rx="18" ry="50" fill="#fff"/>
<ellipse cx="295" cy="400" rx="22" ry="12" fill="#fff"/>
<ellipse cx="650" cy="540" rx="20" ry="10" fill="#fff"/>
</g></g>
<g filter="url(#speckC)"><g transform="translate(715 35) scale(0.24051)">
<ellipse cx="460" cy="190" rx="20" ry="50" fill="#E8C030"/>
<ellipse cx="300" cy="560" rx="18" ry="80" fill="#F4592B" transform="rotate(30 300 560)"/>
</g></g>
<text x="29.7" y="389.9" font-size="15.5">Large airway epithelium</text>
<text x="342.6" y="389.9" font-size="15.5">Lung lobe epithelium</text>
<text x="640.6" y="389.9" font-size="15.5">Large airway epithelium ALI</text>
<text x="885.6" y="389.9" font-size="15.5">Small airway epithelium ALI</text>
<circle cx="197.5" cy="427.70" r="4.0" fill="#F2736D"/><text x="207.7" y="432.14" font-size="12.5">Basal 1</text>
<circle cx="197.5" cy="441.23" r="4.0" fill="#DE8C00"/><text x="207.7" y="445.67" font-size="12.5">Basal 2</text>
<circle cx="197.5" cy="454.76" r="4.0" fill="#B79F00"/><text x="207.7" y="459.2" font-size="12.5">Ciliated</text>
<circle cx="197.5" cy="468.29" r="4.0" fill="#6BB100"/><text x="207.7" y="472.73" font-size="12.5">Cycling Basal</text>
<circle cx="197.5" cy="481.82" r="4.0" fill="#00BC59"/><text x="207.7" y="486.26" font-size="12.5">Deuterosomal</text>
<circle cx="197.5" cy="495.35" r="4.0" fill="#00BF9A"/><text x="207.7" y="499.79" font-size="12.5">Goblet</text>
<circle cx="197.5" cy="508.88" r="4.0" fill="#00B9D8"/><text x="207.7" y="513.32" font-size="12.5">Ionocyte</text>
<circle cx="197.5" cy="522.41" r="4.0" fill="#00A8FF"/><text x="207.7" y="526.85" font-size="12.5">Mature Tuft</text>
<circle cx="197.5" cy="535.94" r="4.0" fill="#B28BFF"/><text x="207.7" y="540.38" font-size="12.5">Neuroendocrine</text>
<circle cx="197.5" cy="549.47" r="4.0" fill="#EA66F0"/><text x="207.7" y="553.91" font-size="12.5">Secretory</text>
<circle cx="197.5" cy="563.00" r="4.0" fill="#FF64B0"/><text x="207.7" y="567.44" font-size="12.5">POU2F3 Tuft-like</text>
<circle cx="524.5" cy="427.70" r="4.0" fill="#2A3990"/><text x="534.7" y="432.14" font-size="12.5">AT1</text>
<circle cx="524.5" cy="441.16" r="4.0" fill="#3F61C4"/><text x="534.7" y="445.6" font-size="12.5">AT2</text>
<circle cx="524.5" cy="454.62" r="4.0" fill="#1FA3E8"/><text x="534.7" y="459.06" font-size="12.5">Basal</text>
<circle cx="524.5" cy="468.08" r="4.0" fill="#2DB57A"/><text x="534.7" y="472.52" font-size="12.5">Ciliated</text>
<circle cx="524.5" cy="481.54" r="4.0" fill="#80BC43"/><text x="534.7" y="485.98" font-size="12.5">Cycling AT2</text>
<circle cx="524.5" cy="495.00" r="4.0" fill="#CDDC39"/><text x="534.7" y="499.44" font-size="12.5">Goblet</text>
<circle cx="524.5" cy="508.46" r="4.0" fill="#FDDB35"/><text x="534.7" y="512.9" font-size="12.5">Mesothelium</text>
<circle cx="524.5" cy="521.92" r="4.0" fill="#FFA20A"/><text x="534.7" y="526.36" font-size="12.5">Sec-AT2</text>
<circle cx="524.5" cy="535.38" r="4.0" fill="#FB9F5A"/><text x="534.7" y="539.82" font-size="12.5">Sec-ciliated</text>
<circle cx="524.5" cy="548.84" r="4.0" fill="#F44837"/><text x="534.7" y="553.28" font-size="12.5">Secretory</text>
<circle cx="1094" cy="421.20" r="4.0" fill="#F2736D"/><text x="1104" y="425.64" font-size="12.5">Basal-Sec</text>
<circle cx="1094" cy="434.70" r="4.0" fill="#C99800"/><text x="1104" y="439.14" font-size="12.5">Basal 1</text>
<circle cx="1094" cy="448.20" r="4.0" fill="#8C4A0C"/><text x="1104" y="452.64" font-size="12.5">Basal 2</text>
<circle cx="1094" cy="461.70" r="4.0" fill="#A3A500"/><text x="1104" y="466.14" font-size="12.5">Ciliated</text>
<circle cx="1094" cy="475.20" r="4.0" fill="#53B400"/><text x="1104" y="479.64" font-size="12.5">Cycling Basal</text>
<circle cx="1094" cy="488.70" r="4.0" fill="#00BF8B"/><text x="1104" y="493.14" font-size="12.5">Goblet</text>
<circle cx="1094" cy="502.20" r="4.0" fill="#00BBC4"/><text x="1104" y="506.64" font-size="12.5">Ionocyte</text>
<circle cx="1094" cy="515.70" r="4.0" fill="#1F78B4"/><text x="1104" y="520.14" font-size="12.5">POU2F3 Tuft-like</text>
<circle cx="1094" cy="529.20" r="4.0" fill="#00A5FF"/><text x="1104" y="533.64" font-size="12.5">Neuroendocrine</text>
<circle cx="1094" cy="542.70" r="4.0" fill="#A58AFF"/><text x="1104" y="547.14" font-size="12.5">Deuterosomal</text>
<circle cx="1094" cy="556.20" r="4.0" fill="#FA9474"/><text x="1104" y="560.64" font-size="12.5">Secretory</text>
<path d="M22.3 578.3V607.6H52.8" fill="none" stroke="#000" stroke-width="1.3"/>
<text x="36.85" y="619.6" font-size="10.1" text-anchor="middle">UMAP1</text>
<text x="18.2" y="593.15" font-size="10.1" text-anchor="middle" transform="rotate(-90 18.2 593.15)">UMAP2</text>
<path d="M341.7 578.3V607.6H370.8" fill="none" stroke="#000" stroke-width="1.3"/>
<text x="355.55" y="619.6" font-size="10.1" text-anchor="middle">UMAP1</text>
<text x="336.7" y="593.15" font-size="10.1" text-anchor="middle" transform="rotate(-90 336.7 593.15)">UMAP2</text>
<path d="M638.8 575.5V604.7H668.5" fill="none" stroke="#000" stroke-width="1.3"/>
<text x="652.95" y="616.9" font-size="10.1" text-anchor="middle">UMAP1</text>
<text x="633.3" y="590.3" font-size="10.1" text-anchor="middle" transform="rotate(-90 633.3 590.3)">UMAP2</text>
<path d="M876.7 575.5V604.7H905.8" fill="none" stroke="#000" stroke-width="1.3"/>
<text x="890.55" y="616.9" font-size="10.1" text-anchor="middle">UMAP1</text>
<text x="871.7" y="590.3" font-size="10.1" text-anchor="middle" transform="rotate(-90 871.7 590.3)">UMAP2</text>
<g filter="url(#grainC)"><g transform="translate(20 395) scale(0.21492)">
<path d="M300.0 182.0C277.3 198.7 272.0 190.0 232.0 232.0C192.0 274.0 200.7 252.0 180.0 308.0C159.3 364.0 173.3 369.3 170.0 400.0" fill="none" stroke="#EFA0F2" stroke-width="18" stroke-linecap="round"/>
<path d="M320.0 110.0C333.3 73.3 316.7 76.7 350.0 50.0C383.3 23.3 378.3 30.0 420.0 30.0C461.7 30.0 451.0 26.7 475.0 50.0C499.0 73.3 486.3 60.0 492.0 100.0C497.7 140.0 479.3 126.7 492.0 170.0C504.7 213.3 506.7 199.3 530.0 230.0C553.3 260.7 572.0 251.3 562.0 262.0C552.0 272.7 540.7 258.7 500.0 262.0C459.3 265.3 470.0 259.3 440.0 272.0C410.0 284.7 430.0 280.0 410.0 300.0C390.0 320.0 403.3 318.0 380.0 332.0C356.7 346.0 361.7 349.3 340.0 342.0C318.3 334.7 325.0 347.3 315.0 310.0C305.0 272.7 311.7 280.0 310.0 230.0C308.3 180.0 306.7 200.0 310.0 160.0C313.3 120.0 306.7 146.7 320.0 110.0Z" fill="#E87CF1"/>
<clipPath id="secclip"><path d="M320.0 110.0C333.3 73.3 316.7 76.7 350.0 50.0C383.3 23.3 378.3 30.0 420.0 30.0C461.7 30.0 451.0 26.7 475.0 50.0C499.0 73.3 486.3 60.0 492.0 100.0C497.7 140.0 479.3 126.7 492.0 170.0C504.7 213.3 506.7 199.3 530.0 230.0C553.3 260.7 572.0 251.3 562.0 262.0C552.0 272.7 540.7 258.7 500.0 262.0C459.3 265.3 470.0 259.3 440.0 272.0C410.0 284.7 430.0 280.0 410.0 300.0C390.0 320.0 403.3 318.0 380.0 332.0C356.7 346.0 361.7 349.3 340.0 342.0C318.3 334.7 325.0 347.3 315.0 310.0C305.0 272.7 311.7 280.0 310.0 230.0C308.3 180.0 306.7 200.0 310.0 160.0C313.3 120.0 306.7 146.7 320.0 110.0Z"/></clipPath><g clip-path="url(#secclip)"><ellipse cx="360" cy="125" rx="50" ry="85" fill="#9B8BE0" opacity="0.8" transform="rotate(25 360 125)" filter="url(#blurT)"/><ellipse cx="326" cy="150" rx="16" ry="55" fill="#3FA8C0" opacity="0.75" transform="rotate(20 326 150)" filter="url(#blurT)"/></g>
<path d="M380.0 340.0C395.0 315.0 403.3 298.3 425.0 325.0C446.7 351.7 430.7 358.3 445.0 420.0C459.3 481.7 445.7 456.7 468.0 510.0C490.3 563.3 488.0 536.7 512.0 580.0C536.0 623.3 570.7 613.3 540.0 640.0C509.3 666.7 490.0 673.3 420.0 660.0C350.0 646.7 349.3 640.0 330.0 600.0C310.7 560.0 346.7 583.3 362.0 540.0C377.3 496.7 370.0 516.7 376.0 470.0C382.0 423.3 378.7 443.3 380.0 400.0C381.3 356.7 365.0 365.0 380.0 340.0Z" fill="#FBD3CF"/>
<path d="M300.0 630.0C308.0 597.3 310.0 602.0 330.0 592.0C350.0 582.0 330.0 580.7 360.0 600.0C390.0 619.3 380.0 636.7 420.0 650.0C460.0 663.3 446.7 656.7 480.0 640.0C513.3 623.3 493.3 596.7 520.0 600.0C546.7 603.3 533.3 616.7 560.0 650.0C586.7 683.3 576.7 666.7 600.0 700.0C623.3 733.3 618.0 706.7 630.0 750.0C642.0 793.3 646.0 780.0 636.0 830.0C626.0 880.0 638.7 868.0 600.0 900.0C561.3 932.0 576.7 919.3 520.0 926.0C463.3 932.7 474.7 932.0 430.0 920.0C385.3 908.0 406.0 923.3 386.0 890.0C366.0 856.7 385.3 866.7 370.0 820.0C354.7 773.3 361.3 793.3 340.0 750.0C318.7 706.7 319.3 730.0 306.0 690.0C292.7 650.0 292.0 662.7 300.0 630.0Z" fill="#F5766D"/>
<path d="M640.0 560.0C663.3 548.3 664.7 551.7 700.0 565.0C735.3 578.3 727.3 575.0 746.0 600.0C764.7 625.0 761.3 610.0 756.0 640.0C750.7 670.0 752.0 669.3 730.0 690.0C708.0 710.7 716.7 702.0 690.0 702.0C663.3 702.0 666.7 710.7 650.0 690.0C633.3 669.3 646.7 670.0 640.0 640.0C633.3 610.0 630.0 626.7 630.0 600.0C630.0 573.3 616.7 571.7 640.0 560.0Z" fill="#6DB31B"/>
<path d="M430.0 272.0C458.3 255.3 453.3 254.0 500.0 250.0C546.7 246.0 530.0 240.0 570.0 260.0C610.0 280.0 593.3 270.0 620.0 310.0C646.7 350.0 638.0 333.3 650.0 380.0C662.0 426.7 662.7 400.0 656.0 450.0C649.3 500.0 648.0 483.3 630.0 530.0C612.0 576.7 614.7 550.0 602.0 590.0C589.3 630.0 602.0 619.3 592.0 650.0C582.0 680.7 589.3 692.0 572.0 682.0C554.7 672.0 564.0 657.3 540.0 620.0C516.0 582.7 525.0 606.7 500.0 570.0C475.0 533.3 483.3 556.7 465.0 510.0C446.7 463.3 455.0 483.3 445.0 430.0C435.0 376.7 445.0 393.3 435.0 350.0C425.0 306.7 416.7 326.0 415.0 300.0C413.3 274.0 401.7 288.7 430.0 272.0Z" fill="#DC9308"/>
<path d="M165.0 420.0C185.0 423.3 181.3 426.7 185.0 450.0C188.7 473.3 182.3 453.3 176.0 490.0C169.7 526.7 174.7 521.7 166.0 560.0C157.3 598.3 168.7 581.7 150.0 605.0C131.3 628.3 136.7 626.3 110.0 630.0C83.3 633.7 90.0 636.0 70.0 616.0C50.0 596.0 55.0 602.0 50.0 570.0C45.0 538.0 41.7 549.3 55.0 520.0C68.3 490.7 66.7 508.7 90.0 482.0C113.3 455.3 100.0 460.7 125.0 440.0C150.0 419.3 145.0 416.7 165.0 420.0Z" fill="#B3A412"/>
</g></g>
<g filter="url(#sparseC)"><g transform="translate(20 395) scale(0.21492)">
<path d="M380.0 340.0C395.0 315.0 403.3 298.3 425.0 325.0C446.7 351.7 430.7 358.3 445.0 420.0C459.3 481.7 445.7 456.7 468.0 510.0C490.3 563.3 488.0 536.7 512.0 580.0C536.0 623.3 570.7 613.3 540.0 640.0C509.3 666.7 490.0 673.3 420.0 660.0C350.0 646.7 349.3 640.0 330.0 600.0C310.7 560.0 346.7 583.3 362.0 540.0C377.3 496.7 370.0 516.7 376.0 470.0C382.0 423.3 378.7 443.3 380.0 400.0C381.3 356.7 365.0 365.0 380.0 340.0Z" fill="#F5766D"/>
<ellipse cx="620" cy="645" rx="26" ry="70" fill="#6DB31B"/>
</g></g>
<g><g transform="translate(20 395) scale(0.21492)">
<path d="M200.0 360.0C188.3 371.7 188.3 371.0 165.0 395.0C141.7 419.0 141.7 419.7 130.0 432.0" fill="none" stroke="#1FB860" stroke-width="5" stroke-linecap="round"/>
<path d="M352.0 395.0C343.3 406.7 331.3 404.3 326.0 430.0C320.7 455.7 332.7 458.0 336.0 472.0" fill="none" stroke="#30B8E0" stroke-width="6" stroke-linecap="round"/>
<path d="M340.0 400.0 L352.0 392.0" fill="none" stroke="#F070B0" stroke-width="6" stroke-linecap="round"/>
<path d="M395.0 580.0 L435.0 590.0" fill="none" stroke="#3FAE3F" stroke-width="5" stroke-linecap="round"/>
<path d="M670.0 155.0 L688.0 135.0" fill="none" stroke="#C79BF2" stroke-width="3" stroke-linecap="round"/>
<path d="M705.0 552.0 L725.0 556.0" fill="none" stroke="#F070B0" stroke-width="5" stroke-linecap="round"/>
</g></g>
<g filter="url(#grainD)"><g transform="translate(335 400) scale(0.21505)">
<path d="M160.0 160.0C176.0 159.3 173.3 166.7 200.0 190.0C226.7 213.3 218.3 193.3 240.0 230.0C261.7 266.7 255.0 250.0 265.0 300.0C275.0 350.0 264.3 330.0 270.0 380.0C275.7 430.0 265.3 410.0 282.0 450.0C298.7 490.0 290.7 483.3 320.0 500.0C349.3 516.7 340.0 505.0 370.0 500.0C400.0 495.0 386.7 486.7 410.0 485.0C433.3 483.3 443.3 486.0 440.0 495.0C436.7 504.0 430.0 498.3 400.0 512.0C370.0 525.7 383.3 522.7 350.0 536.0C316.7 549.3 336.7 546.7 300.0 552.0C263.3 557.3 276.7 565.3 240.0 552.0C203.3 538.7 226.7 549.3 190.0 512.0C153.3 474.7 166.7 487.3 130.0 440.0C93.3 392.7 105.0 416.7 80.0 370.0C55.0 323.3 56.7 343.3 55.0 300.0C53.3 256.7 53.3 273.3 75.0 240.0C96.7 206.7 94.3 216.0 120.0 200.0C145.7 184.0 138.7 205.3 152.0 192.0C165.3 178.7 144.0 160.7 160.0 160.0Z" fill="#2E3C96"/>
<path d="M560.0 65.0C590.0 41.7 580.0 51.7 620.0 50.0C660.0 48.3 643.3 40.0 680.0 60.0C716.7 80.0 700.0 70.0 730.0 110.0C760.0 150.0 750.0 130.0 770.0 180.0C790.0 230.0 786.7 213.3 790.0 260.0C793.3 306.7 796.7 286.0 780.0 320.0C763.3 354.0 773.3 340.0 740.0 362.0C706.7 384.0 723.3 374.7 680.0 386.0C636.7 397.3 650.0 390.7 610.0 396.0C570.0 401.3 586.7 390.0 560.0 402.0C533.3 414.0 553.3 422.0 530.0 432.0C506.7 442.0 505.0 442.7 490.0 432.0C475.0 421.3 481.7 427.3 485.0 400.0C488.3 372.7 488.3 390.0 500.0 350.0C511.7 310.0 513.3 330.0 520.0 280.0C526.7 230.0 516.7 253.3 520.0 200.0C523.3 146.7 516.7 165.0 530.0 120.0C543.3 75.0 530.0 88.3 560.0 65.0Z" fill="#3C62C6"/>
<path d="M445.0 352.0C454.3 328.0 463.0 324.0 480.0 320.0C497.0 316.0 495.3 313.3 496.0 340.0C496.7 366.7 496.7 382.7 482.0 400.0C467.3 417.3 464.3 408.0 452.0 392.0C439.7 376.0 435.7 376.0 445.0 352.0Z" fill="#7FBF3F"/>
<path d="M385.0 860.0C395.0 831.7 401.7 831.7 420.0 815.0C438.3 798.3 431.3 801.0 440.0 810.0C448.7 819.0 430.7 840.3 446.0 842.0C461.3 843.7 474.0 809.0 486.0 815.0C498.0 821.0 490.0 831.7 482.0 860.0C474.0 888.3 482.7 879.3 462.0 900.0C441.3 920.7 444.0 922.0 420.0 922.0C396.0 922.0 401.7 920.7 390.0 900.0C378.3 879.3 375.0 888.3 385.0 860.0Z" fill="#FCD92E"/>
<path d="M640.0 730.0C652.7 711.7 654.7 705.0 680.0 705.0C705.3 705.0 702.0 708.3 716.0 730.0C730.0 751.7 727.3 744.7 722.0 770.0C716.7 795.3 718.7 798.7 700.0 806.0C681.3 813.3 685.3 807.3 666.0 792.0C646.7 776.7 650.7 780.7 642.0 760.0C633.3 739.3 627.3 748.3 640.0 730.0Z" fill="#2DB57A"/>
<path d="M512.0 660.0C522.0 644.3 564.7 641.0 576.0 655.0C587.3 669.0 567.3 700.3 546.0 702.0C524.7 703.7 502.0 675.7 512.0 660.0Z" fill="#1FA3E8"/>
<path d="M576.0 415.0C578.7 426.7 580.7 426.7 584.0 450.0C587.3 473.3 585.3 473.3 586.0 485.0" fill="none" stroke="#FFA412" stroke-width="28" stroke-linecap="round"/>
<path d="M586.0 495.0C588.0 513.3 586.7 514.3 592.0 550.0C597.3 585.7 598.7 584.7 602.0 602.0" fill="none" stroke="#F0443A" stroke-width="24" stroke-linecap="round"/>
</g></g>
<g><g transform="translate(335 400) scale(0.21505)">
<path d="M602.0 602.0C609.7 618.0 605.7 617.3 625.0 650.0C644.3 682.7 648.3 683.3 660.0 700.0" fill="none" stroke="#F58A40" stroke-width="8" stroke-linecap="round"/>
<path d="M580.0 655.0C593.3 663.3 592.7 661.0 620.0 680.0C647.3 699.0 648.0 701.3 662.0 712.0" fill="none" stroke="#2DB57A" stroke-width="7" stroke-linecap="round"/>
</g></g>
<path transform="translate(640 405) scale(0.2)" d="M413 231h0m0 8h0m2-7h0m0 26h0m6-19h0m1-14h0m0 13h0m0 29h0m1-17h0m1-40h0m0 52h0m2-8h0m1-28h0m0 9h0m1-19h0m1 49h0m1-48h0m0 20h0m0 32h0m1-80h0m0 33h0m0 14h0m0 5h0m0 1h0m2-29h0m0 15h0m0 10h0m1-42h0m0 66h0m0 11h0m0 11h0m1-66h0m0 44h0m1-82h0m0 93h0m2-74h0m0 60h0m0 41h0m1-102h0m0 49h0m1-61h0m0 32h0m0 15h0m0 25h0m0 2h0m0 16h0m0 44h0m1-146h0m0 21h0m0 83h0m0 5h0m1-68h0m0 56h0m1-88h0m0 56h0m0 7h0m0 6h0m0 5h0m0 35h0m1-52h0m1-46h0m0 8h0m0 91h0m1-82h0m0 9h0m0 46h0m0 19h0m1-120h0m0 8h0m1 77h0m0 14h0m1-35h0m0 41h0m0 28h0m1-130h0m0 36h0m1-9h0m0 2h0m0 41h0m0 8h0m0 63h0m1-144h0m0 64h0m0 34h0m0 34h0m0 19h0m1-45h0m0 24h0m1-108h0m0 70h0m0 13h0m1-58h0m0 16h0m0 21h0m0 16h0m0 11h0m0 7h0m0 28h0m1-98h0m0 39h0m0 4h0m0 71h0m1-145h0m0 72h0m0 4h0m0 38h0m1-28h0m0 27h0m0 5h0m1-161h0m0 78h0m0 33h0m0 56h0m0 16h0m0 2h0m1-100h0m0 40h0m0 44h0m0 7h0m1-128h0m0 48h0m0 1h0m0 44h0m0 2h0m0 42h0m1-204h0m0 71h0m0 33h0m0 40h0m0 32h0m1-118h0m0 10h0m0 11h0m0 15h0m0 5h0m0 15h0m0 2h0m0 13h0m0 9h0m0 3h0m0 36h0m0 17h0m1-160h0m0 8h0m0 44h0m0 6h0m0 60h0m0 9h0m0 17h0m0 39h0m1-109h0m0 57h0m0 53h0m0 4h0m1-158h0m0 17h0m0 3h0m0 10h0m0 19h0m0 46h0m0 19h0m0 9h0m1-77h0m0 18h0m0 44h0m0 4h0m0 10h0m1-180h0m0 23h0m0 107h0m0 55h0m0 21h0m1-202h0m0 54h0m0 50h0m0 121h0m1-225h0m0 65h0m0 15h0m0 5h0m0 36h0m0 18h0m0 3h0m0 15h0m0 2h0m0 31h0m1-8h0m0 26h0m1-181h0m0 103h0m0 1h0m0 31h0m1 4h0m0 18h0m1-152h0m0 54h0m0 20h0m0 38h0m0 43h0m0 7h0m0 46h0m1-171h0m0 105h0m1-71h0m0 90h0m0 15h0m0 12h0m1-197h0m0 34h0m0 6h0m0 16h0m0 64h0m0 52h0m0 2h0m1-164h0m0 69h0m0 81h0m1-157h0m0 166h0m1-171h0m0 96h0m0 34h0m0 62h0m0 19h0m1-168h0m0 78h0m0 18h0m1-131h0m0 19h0m0 98h0m0 40h0m0 13h0m1-123h0m1-81h0m0 86h0m0 47h0m0 10h0m0 61h0m0 20h0m0 23h0m1-235h0m0 10h0m0 26h0m0 78h0m0 30h0m0 17h0m0 38h0m1-68h0m0 26h0m1-165h0m0 21h0m0 9h0m0 6h0m0 21h0m0 32h0m0 24h0m0 62h0m0 1h0m0 65h0m1-244h0m0 16h0m0 7h0m0 40h0m0 60h0m0 30h0m0 12h0m0 34h0m1-128h0m0 57h0m0 20h0m0 7h0m0 2h0m0 21h0m0 4h0m0 37h0m1-251h0m0 58h0m0 99h0m0 47h0m0 43h0m1-190h0m0 34h0m0 74h0m0 60h0m0 42h0m1-258h0m0 3h0m0 34h0m0 13h0m0 3h0m0 2h0m0 18h0m0 65h0m0 82h0m0 6h0m1-198h0m0 3h0m0 20h0m0 40h0m0 63h0m0 25h0m0 11h0m0 1h0m0 5h0m0 2h0m0 52h0m1-235h0m0 46h0m0 22h0m0 2h0m0 66h0m0 8h0m0 13h0m0 50h0m0 19h0m0 10h0m1-219h0m0 8h0m0 1h0m0 6h0m0 65h0m0 6h0m0 27h0m0 17h0m0 18h0m0 66h0m0 9h0m0 13h0m1-221h0m0 8h0m0 4h0m0 32h0m0 21h0m0 13h0m0 26h0m0 35h0m0 22h0m0 20h0m0 9h0m1-216h0m0 31h0m0 29h0m0 26h0m0 92h0m0 16h0m0 35h0m0 6h0m1-193h0m0 14h0m0 1h0m0 41h0m0 113h0m0 9h0m0 18h0m1-228h0m0 19h0m0 46h0m0 57h0m0 72h0m0 19h0m1-244h0m0 54h0m0 8h0m0 6h0m0 51h0m0 19h0m0 14h0m0 18h0m0 17h0m0 17h0m0 29h0m1-196h0m0 5h0m0 28h0m0 50h0m0 26h0m0 81h0m0 32h0m0 6h0m1-216h0m0 6h0m0 78h0m0 109h0m0 4h0m0 13h0m1-251h0m0 24h0m0 21h0m0 60h0m0 32h0m0 14h0m0 43h0m0 31h0m0 20h0m1-183h0m0 20h0m0 119h0m1-235h0m0 78h0m0 11h0m0 121h0m0 12h0m1-186h0m0 36h0m0 61h0m0 110h0m0 42h0m1-253h0m0 39h0m0 6h0m0 12h0m0 18h0m0 23h0m0 24h0m0 22h0m1-106h0m0 42h0m0 43h0m0 19h0m0 52h0m0 15h0m0 4h0m0 23h0m0 9h0m1-268h0m0 20h0m0 96h0m0 35h0m0 24h0m0 77h0m1-177h0m0 66h0m0 40h0m0 54h0m1-180h0m0 17h0m0 6h0m0 129h0m0 9h0m0 36h0m1-230h0m0 24h0m0 26h0m0 19h0m0 42h0m0 105h0m1-211h0m0 49h0m0 105h0m1-166h0m0 2h0m0 11h0m0 17h0m0 8h0m0 48h0m0 10h0m0 72h0m0 68h0m0 11h0m0 11h0m1-189h0m0 96h0m0 34h0m0 5h0m1-217h0m0 15h0m0 153h0m0 67h0m1-242h0m0 103h0m0 95h0m0 39h0m0 4h0m1-231h0m0 15h0m0 6h0m0 3h0m0 1h0m0 2h0m0 84h0m0 5h0m0 6h0m0 47h0m0 74h0m1-232h0m0 7h0m0 5h0m0 14h0m0 30h0m0 66h0m1-81h0m0 49h0m0 146h0m1-271h0m0 15h0m0 15h0m0 49h0m0 50h0m0 5h0m0 133h0m0 23h0m1-244h0m0 21h0m0 13h0m0 4h0m0 26h0m0 23h0m0 17h0m0 27h0m0 21h0m0 11h0m0 6h0m0 7h0m0 63h0m0 5h0m1-272h0m0 2h0m0 29h0m0 29h0m0 25h0m0 7h0m0 8h0m0 76h0m0 3h0m0 12h0m0 20h0m0 16h0m0 22h0m0 4h0m1-238h0m0 13h0m0 35h0m0 9h0m0 15h0m0 112h0m0 13h0m0 59h0m1-263h0m0 30h0m0 47h0m0 84h0m0 16h0m0 8h0m0 23h0m0 38h0m1-263h0m0 62h0m0 21h0m0 30h0m0 155h0m1-249h0m0 47h0m0 12h0m0 1h0m0 21h0m0 19h0m0 16h0m0 78h0m1-224h0m0 78h0m0 135h0m0 40h0m1-237h0m0 80h0m0 40h0m0 82h0m0 23h0m0 8h0m0 9h0m1-215h0m0 42h0m0 17h0m0 53h0m1-136h0m0 24h0m0 1h0m0 27h0m0 1h0m0 61h0m0 18h0m0 84h0m0 26h0m0 6h0m1-258h0m0 60h0m0 1h0m0 30h0m0 37h0m0 12h0m0 17h0m0 5h0m0 57h0m0 1h0m0 15h0m0 41h0m1-246h0m0 58h0m0 30h0m0 60h0m0 52h0m0 10h0m0 2h0m1-244h0m0 249h0m0 24h0m1-267h0m0 51h0m0 73h0m0 28h0m0 59h0m0 21h0m1-173h0m0 80h0m0 10h0m0 6h0m1-166h0m0 10h0m0 6h0m0 12h0m0 22h0m0 35h0m0 46h0m0 54h0m0 32h0m1-184h0m0 29h0m0 56h0m0 30h0m0 6h0m0 7h0m0 34h0m0 2h0m0 53h0m1-235h0m0 77h0m0 70h0m0 11h0m0 24h0m0 4h0m0 1h0m0 2h0m0 13h0m1-188h0m0 7h0m0 2h0m0 85h0m0 78h0m0 43h0m0 19h0m1-245h0m0 9h0m0 107h0m0 10h0m0 57h0m0 9h0m0 3h0m0 24h0m0 43h0m1-272h0m0 20h0m0 4h0m0 19h0m0 63h0m0 5h0m0 84h0m1-190h0m0 97h0m0 38h0m0 100h0m1-205h0m0 3h0m0 34h0m0 43h0m0 90h0m0 4h0m1-187h0m0 28h0m0 81h0m0 21h0m0 41h0m0 16h0m0 4h0m0 4h0m1-212h0m0 37h0m0 169h0m1-134h0m0 34h0m0 23h0m0 75h0m0 53h0m1-285h0m0 27h0m0 13h0m0 167h0m0 6h0m0 64h0m1-186h0m0 13h0m0 55h0m0 34h0m0 6h0m0 9h0m0 64h0m0 1h0m1-230h0m0 12h0m0 27h0m0 150h0m1-213h0m0 187h0m0 16h0m1-183h0m0 117h0m0 9h0m0 9h0m0 25h0m0 31h0m0 6h0m0 16h0m1-209h0m0 7h0m0 23h0m0 8h0m0 29h0m0 31h0m0 17h0m0 32h0m0 38h0m1-210h0m0 28h0m0 12h0m0 15h0m0 7h0m0 104h0m0 103h0m1-234h0m0 129h0m1-161h0m0 14h0m0 13h0m0 4h0m0 41h0m0 22h0m0 7h0m0 45h0m0 72h0m0 33h0m1-159h0m0 12h0m0 51h0m1-64h0m0 111h0m0 5h0m0 47h0m1-255h0m0 155h0m0 23h0m0 48h0m0 30h0m1-250h0m0 65h0m0 72h0m0 19h0m0 45h0m0 17h0m0 12h0m1-236h0m0 33h0m0 8h0m0 41h0m0 7h0m0 23h0m0 33h0m0 61h0m0 5h0m0 21h0m0 19h0m0 1h0m0 14h0m1-258h0m0 21h0m0 15h0m0 23h0m0 123h0m1-201h0m0 103h0m0 19h0m0 16h0m0 43h0m0 3h0m1-157h0m0 2h0m0 43h0m0 38h0m0 27h0m0 82h0m0 7h0m0 38h0m1-212h0m0 13h0m0 61h0m0 27h0m0 17h0m0 99h0m1-246h0m0 51h0m0 52h0m0 81h0m0 10h0m0 8h0m1-209h0m0 72h0m0 39h0m0 66h0m0 52h0m1-167h0m0 12h0m0 9h0m0 122h0m0 2h0m0 15h0m0 13h0m0 4h0m1-185h0m0 35h0m0 25h0m0 78h0m0 16h0m0 27h0m0 17h0m1-245h0m0 64h0m0 31h0m0 5h0m0 18h0m0 40h0m0 14h0m1-113h0m0 41h0m0 86h0m0 3h0m1-46h0m0 16h0m0 35h0m0 12h0m1-206h0m0 1h0m0 10h0m0 16h0m0 4h0m0 136h0m0 56h0m1-109h0m0 78h0m0 20h0m0 2h0m0 1h0m1-193h0m0 108h0m1-119h0m0 23h0m0 3h0m0 5h0m0 34h0m0 1h0m0 2h0m0 8h0m0 42h0m0 21h0m0 26h0m0 44h0m1-248h0m0 69h0m0 12h0m0 74h0m1-104h0m0 25h0m0 79h0m1-146h0m0 25h0m0 28h0m0 25h0m0 16h0m0 41h0m0 5h0m1-70h0m0 7h0m0 4h0m0 68h0m0 45h0m0 17h0m0 3h0m0 10h0m1-178h0m0 18h0m0 66h0m0 95h0m1-220h0m0 56h0m0 5h0m0 107h0m0 2h0m0 9h0m1-136h0m0 53h0m0 74h0m0 37h0m0 6h0m1-186h0m0 90h0m0 56h0m0 72h0m1-219h0m0 72h0m0 20h0m0 4h0m0 27h0m0 27h0m0 4h0m0 39h0m0 10h0m1-194h0m0 101h0m0 5h0m0 4h0m0 41h0m0 15h0m0 17h0m1-194h0m0 37h0m0 109h0m0 40h0m0 5h0m1-211h0m0 10h0m0 28h0m0 24h0m0 26h0m0 118h0m1-105h0m1-97h0m0 15h0m0 62h0m0 28h0m1-127h0m0 122h0m0 28h0m0 31h0m0 46h0m1-192h0m0 86h0m0 15h0m0 7h0m0 9h0m1-122h0m0 67h0m0 99h0m0 22h0m1-210h0m0 52h0m0 5h0m0 16h0m0 26h0m0 1h0m0 54h0m0 75h0m0 4h0m1-212h0m0 26h0m0 17h0m0 62h0m1-125h0m0 51h0m0 18h0m0 16h0m0 39h0m0 14h0m0 45h0m1-186h0m0 13h0m0 66h0m0 19h0m0 82h0m1-141h0m0 2h0m0 8h0m0 87h0m0 19h0m0 51h0m1-148h0m0 56h0m0 16h0m0 3h0m0 23h0m0 17h0m0 5h0m0 2h0m0 9h0m0 26h0m1-191h0m0 43h0m0 2h0m0 4h0m0 10h0m0 96h0m1-125h0m0 20h0m0 9h0m0 24h0m1-84h0m0 164h0m0 30h0m1-180h0m0 62h0m0 1h0m0 1h0m0 64h0m0 35h0m1-163h0m0 14h0m0 70h0m0 9h0m0 48h0m0 8h0m0 2h0m0 1h0m1-112h0m0 64h0m1-121h0m0 54h0m0 10h0m0 9h0m0 32h0m0 10h0m0 58h0m1-143h0m0 13h0m0 149h0m1-176h0m0 88h0m1-64h0m0 33h0m0 2h0m0 2h0m0 2h0m0 24h0m1-98h0m0 19h0m0 37h0m0 1h0m0 69h0m0 2h0m1-151h0m0 27h0m0 50h0m0 63h0m0 3h0m1-118h0m0 35h0m0 7h0m0 109h0m1-159h0m0 82h0m0 15h0m0 60h0m0 2h0m0 19h0m1-86h0m0 2h0m1-107h0m0 44h0m1 17h0m0 1h0m0 68h0m0 10h0m0 39h0m1-59h0m0 27h0m0 11h0m1-111h0m0 3h0m0 28h0m0 4h0m0 11h0m0 37h0m0 33h0m1-106h0m0 24h0m0 33h0m0 23h0m0 60h0m1-129h0m0 84h0m1-67h0m1-45h0m0 8h0m0 74h0m0 34h0m1-90h0m1 29h0m0 54h0m0 11h0m1-42h0m0 3h0m1-90h0m0 36h0m3-34h0m0 18h0m0 57h0m0 21h0m0 14h0m1-110h0m0 62h0m0 11h0m1 4h0m0 30h0m0 8h0m0 3h0m1-105h0m0 22h0m0 18h0m1 36h0m0 12h0m1-72h0m1 1h0m1 90h0m1-50h0m0 19h0m1-68h0m0 25h0m1-32h0m0 49h0m2-3h0m2 10h0m11-16h0" stroke="#FA9474" stroke-width="8.2" stroke-linecap="round" fill="none"/>
<path transform="translate(640 405) scale(0.2)" d="M277 393h0m10-20h0m2 0h0m1 17h0m3 14h0m1-19h0m2-26h0m0 22h0m2-21h0m0 40h0m1-69h0m0 4h0m0 39h0m0 7h0m0 4h0m0 25h0m1-79h0m0 13h0m0 6h0m0 14h0m0 19h0m1-36h0m0 38h0m0 13h0m1-48h0m1 47h0m0 12h0m1-2h0m1-15h0m0 2h0m1-43h0m0 29h0m0 29h0m1 14h0m1-70h0m0 50h0m1-2h0m0 1h0m0 20h0m1-87h0m0 32h0m1 7h0m1 12h0m0 24h0m1-95h0m0 17h0m1-4h0m0 1h0m0 17h0m0 54h0m1-80h0m0 16h0m0 3h0m0 1h0m1 21h0m0 8h0m0 51h0m0 19h0m1-56h0m1-46h0m0 2h0m0 55h0m0 16h0m1-76h0m0 52h0m0 4h0m1 4h0m0 9h0m1-95h0m0 40h0m0 2h0m0 45h0m0 41h0m1-71h0m0 10h0m0 16h0m0 2h0m0 36h0m2-114h0m0 90h0m1-100h0m0 53h0m0 2h0m0 2h0m0 29h0m0 16h0m1-50h0m0 19h0m0 2h0m0 49h0m1-121h0m0 59h0m0 4h0m0 5h0m0 51h0m1-112h0m0 116h0m1-123h0m0 89h0m1-44h0m0 15h0m0 44h0m0 30h0m1-113h0m0 39h0m0 28h0m0 20h0m0 18h0m1-114h0m0 5h0m0 88h0m0 10h0m1-129h0m0 61h0m0 14h0m0 43h0m1-90h0m0 41h0m0 4h0m0 61h0m0 5h0m1-139h0m0 37h0m0 7h0m0 16h0m0 85h0m0 12h0m1-168h0m0 28h0m0 22h0m1 101h0m0 7h0m0 4h0m1-161h0m0 31h0m0 50h0m0 5h0m0 5h0m0 2h0m1-46h0m0 11h0m0 16h0m0 7h0m1-79h0m0 60h0m0 3h0m0 16h0m0 72h0m1-117h0m0 10h0m0 16h0m0 6h0m0 2h0m0 19h0m0 25h0m0 23h0m1-95h0m0 63h0m0 3h0m1 18h0m0 32h0m0 10h0m1-106h0m0 9h0m0 51h0m1-90h0m0 77h0m0 6h0m0 16h0m1-140h0m0 77h0m0 24h0m0 65h0m1-71h0m0 20h0m0 1h0m1-57h0m0 12h0m0 6h0m0 93h0m1-125h0m0 62h0m1-93h0m0 59h0m0 91h0m0 25h0m1-196h0m0 52h0m0 31h0m0 66h0m1-130h0m0 6h0m0 107h0m0 56h0m1-164h0m0 141h0m0 6h0m0 3h0m0 8h0m0 9h0m1-171h0m0 74h0m0 5h0m0 68h0m1-173h0m0 17h0m0 115h0m0 12h0m1-151h0m0 56h0m0 58h0m0 13h0m0 40h0m0 35h0m1-193h0m0 13h0m0 14h0m0 13h0m0 52h0m0 25h0m0 31h0m0 27h0m1-185h0m0 15h0m0 5h0m0 29h0m0 16h0m0 24h0m0 7h0m0 1h0m0 12h0m0 17h0m0 44h0m1-138h0m0 47h0m0 16h0m1-72h0m0 36h0m0 18h0m0 37h0m0 34h0m0 23h0m0 1h0m0 18h0m1-158h0m0 45h0m0 43h0m0 19h0m1-145h0m0 13h0m0 18h0m0 48h0m0 6h0m0 17h0m0 8h0m0 27h0m0 13h0m0 53h0m1-148h0m0 23h0m0 63h0m0 42h0m0 20h0m0 13h0m1-205h0m0 70h0m0 51h0m0 45h0m1-177h0m0 32h0m0 26h0m0 13h0m0 35h0m0 69h0m0 25h0m0 2h0m0 16h0m1-207h0m0 17h0m0 74h0m0 67h0m0 33h0m1-165h0m0 12h0m0 81h0m0 43h0m0 24h0m1-170h0m0 47h0m0 37h0m0 26h0m0 15h0m0 12h0m1-3h0m0 20h0m0 9h0m1-153h0m0 47h0m0 47h0m1-107h0m0 24h0m0 122h0m0 3h0m0 21h0m1-144h0m0 3h0m0 4h0m0 72h0m0 70h0m0 8h0m1-144h0m0 28h0m0 2h0m0 7h0m0 25h0m1-138h0m0 97h0m0 8h0m0 5h0m0 48h0m0 45h0m0 22h0m0 2h0m1-161h0m0 33h0m0 29h0m0 42h0m0 5h0m0 24h0m1-193h0m0 46h0m0 54h0m0 11h0m0 27h0m0 36h0m0 21h0m0 37h0m1-231h0m0 62h0m0 74h0m0 7h0m1-140h0m0 4h0m0 17h0m0 17h0m0 17h0m0 132h0m0 28h0m0 15h0m1-186h0m0 1h0m0 104h0m1-87h0m0 14h0m0 19h0m0 63h0m0 31h0m1-88h0m0 60h0m0 43h0m1-159h0m0 97h0m0 75h0m1-225h0m0 6h0m0 95h0m0 54h0m0 71h0m0 14h0m0 2h0m1-196h0m0 33h0m1-68h0m0 50h0m0 49h0m0 33h0m0 26h0m0 8h0m0 45h0m0 4h0m1-211h0m0 136h0m0 47h0m0 8h0m0 42h0m1-179h0m0 1h0m0 51h0m0 14h0m0 14h0m0 2h0m0 10h0m0 6h0m0 9h0m0 17h0m1-203h0m0 49h0m0 88h0m0 2h0m0 11h0m0 33h0m0 10h0m0 46h0m0 12h0m1-237h0m0 49h0m0 50h0m0 120h0m0 6h0m1-193h0m0 104h0m0 3h0m0 16h0m0 40h0m0 11h0m1-204h0m0 30h0m0 53h0m0 51h0m0 73h0m0 6h0m1-224h0m0 6h0m0 11h0m0 2h0m0 34h0m0 26h0m0 40h0m0 15h0m0 20h0m1-131h0m0 20h0m0 72h0m0 12h0m0 59h0m0 46h0m1-174h0m0 39h0m0 42h0m0 20h0m1-167h0m0 18h0m0 12h0m0 106h0m0 24h0m0 78h0m0 29h0m1-258h0m0 121h0m0 29h0m0 20h0m1-169h0m0 27h0m0 1h0m0 33h0m0 15h0m0 11h0m0 58h0m0 26h0m0 29h0m1-183h0m0 2h0m0 15h0m0 51h0m0 21h0m0 10h0m0 6h0m0 53h0m0 29h0m0 5h0m1-208h0m0 174h0m0 38h0m1-206h0m0 2h0m0 71h0m0 22h0m0 38h0m0 78h0m1-198h0m0 111h0m0 66h0m1-189h0m0 8h0m0 4h0m0 64h0m0 15h0m0 27h0m0 12h0m0 60h0m0 24h0m1-204h0m0 8h0m0 4h0m0 2h0m0 18h0m0 22h0m0 10h0m0 129h0m1-199h0m0 32h0m0 10h0m0 148h0m0 8h0m1-206h0m0 8h0m0 29h0m0 31h0m0 11h0m0 63h0m0 17h0m0 26h0m0 6h0m0 17h0m0 3h0m0 4h0m0 23h0m1-226h0m0 58h0m0 37h0m0 18h0m0 4h0m0 11h0m0 1h0m0 11h0m0 26h0m0 79h0m1-222h0m0 7h0m0 11h0m0 47h0m0 41h0m0 67h0m0 43h0m1-264h0m0 28h0m0 7h0m0 15h0m0 11h0m0 61h0m0 4h0m0 6h0m0 2h0m0 43h0m0 48h0m0 8h0m1-209h0m0 27h0m0 40h0m0 2h0m0 21h0m0 12h0m0 2h0m0 44h0m0 78h0m1-62h0m0 15h0m0 6h0m0 34h0m1-196h0m0 18h0m0 33h0m0 77h0m0 17h0m0 14h0m0 45h0m0 14h0m1-181h0m0 86h0m0 81h0m0 8h0m1 1h0m1-121h0m0 44h0m0 29h0m0 38h0m1-217h0m0 30h0m0 70h0m0 22h0m0 14h0m0 83h0m1-209h0m0 56h0m0 4h0m0 69h0m0 40h0m1-177h0m0 8h0m0 4h0m0 41h0m0 11h0m0 34h0m0 10h0m0 12h0m0 6h0m0 9h0m0 25h0m0 2h0m0 21h0m0 11h0m0 20h0m1-205h0m0 11h0m0 31h0m0 25h0m0 11h0m0 1h0m0 45h0m1-106h0m0 49h0m0 62h0m0 63h0m0 2h0m1-215h0m0 48h0m0 2h0m0 31h0m0 29h0m0 19h0m0 47h0m0 34h0m1-120h0m0 7h0m0 76h0m0 4h0m0 33h0m1-69h0m1-127h0m0 35h0m0 4h0m0 49h0m0 16h0m0 46h0m0 40h0m1-160h0m0 78h0m0 67h0m1-107h0m0 22h0m0 9h0m0 25h0m0 47h0m0 20h0m1-155h0m0 47h0m0 34h0m0 6h0m1 20h0m0 3h0m1-113h0m0 24h0m0 66h0m0 71h0m1-132h0m0 10h0m1-6h0m0 30h0m0 54h0m0 10h0m0 43h0m1-104h0m0 41h0m1-112h0m0 14h0m0 66h0m0 23h0m0 46h0m1-120h0m0 34h0m0 27h0m0 4h0m0 9h0m0 68h0m1-156h0m0 78h0m0 55h0m0 6h0m1-127h0m0 23h0m0 17h0m0 6h0m0 4h0m0 52h0m1-108h0m0 74h0m0 11h0m0 21h0m1-19h0m1-39h0m0 67h0m1-78h0m0 16h0m0 76h0m1-133h0m0 2h0m0 38h0m0 37h0m1-78h0m0 22h0m0 16h0m0 24h0m0 41h0m0 15h0m0 11h0m0 12h0m1-145h0m0 72h0m0 51h0m0 15h0m0 6h0m0 7h0m0 2h0m1-126h0m0 34h0m0 23h0m0 47h0m0 17h0m1-114h0m0 64h0m0 19h0m0 2h0m1-13h0m1-112h0m0 62h0m0 56h0m1-105h0m0 31h0m0 40h0m1 38h0m1-101h0m0 43h0m0 5h0m0 63h0m1-64h0m0 23h0m0 35h0m0 17h0m1-116h0m0 95h0m0 19h0m1-86h0m0 33h0m1-58h0m0 36h0m0 42h0m1-76h0m0 88h0m0 1h0m0 35h0m1-98h0m0 13h0m0 26h0m1-56h0m0 45h0m0 16h0m0 19h0m0 17h0m1-74h0m0 4h0m0 20h0m1 34h0m0 3h0m0 9h0m0 4h0m1-61h0m0 22h0m0 10h0m1 30h0m2-63h0m0 47h0m1-46h0m1-36h0m0 22h0m0 45h0m0 25h0m2-20h0m1-55h0m0 15h0m0 52h0m2 6h0m1-68h0m1 10h0m2 13h0m0 3h0m1-7h0m0 10h0m0 6h0" stroke="#F27D7A" stroke-width="8.2" stroke-linecap="round" fill="none"/>
<path transform="translate(640 405) scale(0.2)" d="M229 555h0m7-5h0m2 2h0m0 10h0m2 1h0m2 29h0m1 9h0m1-40h0m1 50h0m3-34h0m0 32h0m1-64h0m0 14h0m1 11h0m0 34h0m0 2h0m1-35h0m0 3h0m0 30h0m1 13h0m1-56h0m1-21h0m0 33h0m0 37h0m0 24h0m1-90h0m0 23h0m1 3h0m0 13h0m0 24h0m1-67h0m0 6h0m0 40h0m1-53h0m0 64h0m0 7h0m1-52h0m0 4h0m0 50h0m0 14h0m1-126h0m0 27h0m0 18h0m2 12h0m0 7h0m0 50h0m1-88h0m0 14h0m0 39h0m0 2h0m0 14h0m1-71h0m0 41h0m0 5h0m0 37h0m0 33h0m1-78h0m1 77h0m1-128h0m0 13h0m0 129h0m1-111h0m0 4h0m0 15h0m0 26h0m0 6h0m1-52h0m0 16h0m0 14h0m0 26h0m0 32h0m1-140h0m0 9h0m0 23h0m0 2h0m0 22h0m0 17h0m0 13h0m0 40h0m0 34h0m1-69h0m0 61h0m1-119h0m0 46h0m0 21h0m1-137h0m0 37h0m0 7h0m0 21h0m0 1h0m0 28h0m1-1h0m0 38h0m0 41h0m0 7h0m0 6h0m0 9h0m1-149h0m0 23h0m0 27h0m0 25h0m0 16h0m0 3h0m0 3h0m1-61h0m0 120h0m1-194h0m0 121h0m1-157h0m0 17h0m0 6h0m0 164h0m1-189h0m0 1h0m0 97h0m0 32h0m0 14h0m0 58h0m0 13h0m1-170h0m0 6h0m0 15h0m0 15h0m0 21h0m0 73h0m0 14h0m0 43h0m1-168h0m0 37h0m0 63h0m0 42h0m1-104h0m0 9h0m0 72h0m1-133h0m1-4h0m0 34h0m0 1h0m0 10h0m0 103h0m0 7h0m1-198h0m0 41h0m0 3h0m1-14h0m0 23h0m0 76h0m0 1h0m0 10h0m0 26h0m0 9h0m0 18h0m0 40h0m0 1h0m1-234h0m0 25h0m0 126h0m0 24h0m0 61h0m1-192h0m0 5h0m0 14h0m0 2h0m0 157h0m1-194h0m0 64h0m0 111h0m1-200h0m0 6h0m0 16h0m0 37h0m0 7h0m0 16h0m0 93h0m0 2h0m1-34h0m0 20h0m1-162h0m0 45h0m0 25h0m0 31h0m0 55h0m0 2h0m0 10h0m1-65h0m0 7h0m0 8h0m0 53h0m0 47h0m1-163h0m0 11h0m0 51h0m0 6h0m0 51h0m1-176h0m0 45h0m0 45h0m0 7h0m0 48h0m0 18h0m0 20h0m0 58h0m1-83h0m1-27h0m0 29h0m0 36h0m0 4h0m1-175h0m0 14h0m0 25h0m0 25h0m0 6h0m0 6h0m0 4h0m0 33h0m0 13h0m0 13h0m0 48h0m1-180h0m0 91h0m0 59h0m0 45h0m1-219h0m0 3h0m0 1h0m0 38h0m0 115h0m0 23h0m0 64h0m1-236h0m0 48h0m0 76h0m0 91h0m1-143h0m0 11h0m0 18h0m0 72h0m0 47h0m0 1h0m1-243h0m0 73h0m0 70h0m0 31h0m0 10h0m0 62h0m1-256h0m0 32h0m0 101h0m0 20h0m0 48h0m1-154h0m0 5h0m0 3h0m0 10h0m0 29h0m0 22h0m0 10h0m0 34h0m0 18h0m0 18h0m0 67h0m1-237h0m0 43h0m0 34h0m0 102h0m0 25h0m0 32h0m1-208h0m0 87h0m0 43h0m0 43h0m0 1h0m1-196h0m0 11h0m0 64h0m0 54h0m0 52h0m0 20h0m0 5h0m0 6h0m0 34h0m1-246h0m0 121h0m0 48h0m0 36h0m0 16h0m0 5h0m1-195h0m0 58h0m1-11h0m0 2h0m0 12h0m0 30h0m0 22h0m0 13h0m0 9h0m0 42h0m1-194h0m0 16h0m0 54h0m0 72h0m0 49h0m1-186h0m0 18h0m0 32h0m0 33h0m0 2h0m0 69h0m0 18h0m0 79h0m1-288h0m0 5h0m0 20h0m0 10h0m0 88h0m0 36h0m0 3h0m0 7h0m0 35h0m1-170h0m0 17h0m0 26h0m0 14h0m0 66h0m0 39h0m0 17h0m1-129h0m0 53h0m0 46h0m1-93h0m0 45h0m0 35h0m0 7h0m0 24h0m0 2h0m0 57h0m1-216h0m0 30h0m0 133h0m0 4h0m0 38h0m0 21h0m1-158h0m0 56h0m0 9h0m0 12h0m0 5h0m0 19h0m0 18h0m0 10h0m0 5h0m0 1h0m0 15h0m1-248h0m0 123h0m0 13h0m0 9h0m0 21h0m0 6h0m0 2h0m0 13h0m1-193h0m0 27h0m0 133h0m0 4h0m0 10h0m0 28h0m0 35h0m0 20h0m1-221h0m0 5h0m0 78h0m0 24h0m0 1h0m0 78h0m0 22h0m1-212h0m0 41h0m0 38h0m0 3h0m0 46h0m0 49h0m0 23h0m0 1h0m0 31h0m1-233h0m0 16h0m0 17h0m0 10h0m0 74h0m0 117h0m1-220h0m0 49h0m0 58h0m0 5h0m0 52h0m1-100h0m0 17h0m0 44h0m0 13h0m1-146h0m0 39h0m0 30h0m0 11h0m1-27h0m0 62h0m0 97h0m0 10h0m1-172h0m1-55h0m0 52h0m0 141h0m0 11h0m1-161h0m0 73h0m0 8h0m0 9h0m0 19h0m0 1h0m0 73h0m0 18h0m1-137h0m0 42h0m0 46h0m0 35h0m1-230h0m0 7h0m0 111h0m0 74h0m1-110h0m0 69h0m0 11h0m0 83h0m1-167h0m0 2h0m0 25h0m0 71h0m0 50h0m0 5h0m1-239h0m1 23h0m0 183h0m0 41h0m0 19h0m1-244h0m0 1h0m0 26h0m0 37h0m0 2h0m0 140h0m1-126h0m0 28h0m0 63h0m0 32h0m0 2h0m1-227h0m0 121h0m0 26h0m0 17h0m0 65h0m1-187h0m0 54h0m0 12h0m0 30h0m0 13h0m0 48h0m0 10h0m0 62h0m0 6h0m1-170h0m0 29h0m0 42h0m0 16h0m0 11h0m1-170h0m0 57h0m0 83h0m0 49h0m0 6h0m0 18h0m1-230h0m0 145h0m1-142h0m0 47h0m0 145h0m0 47h0m0 9h0m1-200h0m0 56h0m0 66h0m0 7h0m0 18h0m0 45h0m1-265h0m0 83h0m0 1h0m0 7h0m0 11h0m0 19h0m0 25h0m0 7h0m0 16h0m0 12h0m0 43h0m1-179h0m0 11h0m0 17h0m0 93h0m0 18h0m0 13h0m0 1h0m0 33h0m0 8h0m0 11h0m1-230h0m0 11h0m0 99h0m0 79h0m0 48h0m1-231h0m0 41h0m0 17h0m0 10h0m0 1h0m0 24h0m0 29h0m0 47h0m0 42h0m1-211h0m0 50h0m0 37h0m0 35h0m0 54h0m0 17h0m1-151h0m0 70h0m0 32h0m0 61h0m0 4h0m1-164h0m0 83h0m0 28h0m0 25h0m0 51h0m1-240h0m0 27h0m0 58h0m0 51h0m0 84h0m1-166h0m0 13h0m0 9h0m0 44h0m0 33h0m0 58h0m0 41h0m1-248h0m0 43h0m0 63h0m0 23h0m0 28h0m0 25h0m0 52h0m1-174h0m0 64h0m0 28h0m0 36h0m0 10h0m0 20h0m0 15h0m0 26h0m1-220h0m0 144h0m0 18h0m0 41h0m1-211h0m0 11h0m0 8h0m0 11h0m0 148h0m1-190h0m0 24h0m0 1h0m0 57h0m0 28h0m0 16h0m1-140h0m0 43h0m0 12h0m0 5h0m0 29h0m0 1h0m0 67h0m0 1h0m0 38h0m0 13h0m0 10h0m1-179h0m0 113h0m0 9h0m0 46h0m0 1h0m0 48h0m1-190h0m0 9h0m0 36h0m0 10h0m0 34h0m1-144h0m0 14h0m0 85h0m0 60h0m0 85h0m1-225h0m0 66h0m0 23h0m0 34h0m0 19h0m0 52h0m0 6h0m0 21h0m1-220h0m0 23h0m0 124h0m0 30h0m0 18h0m0 1h0m1-190h0m0 30h0m0 61h0m0 8h0m0 39h0m0 10h0m0 15h0m0 9h0m0 17h0m1-228h0m0 35h0m0 24h0m0 35h0m0 106h0m0 20h0m1-175h0m1 31h0m0 86h0m0 17h0m0 19h0m0 31h0m0 23h0m1-225h0m0 15h0m0 35h0m0 21h0m0 9h0m0 3h0m0 60h0m0 26h0m0 3h0m0 34h0m0 9h0m1-228h0m0 96h0m0 12h0m0 10h0m0 6h0m0 73h0m0 16h0m0 9h0m0 1h0m0 25h0m1-247h0m0 94h0m0 1h0m0 30h0m0 58h0m0 46h0m1-229h0m0 45h0m0 76h0m0 7h0m0 22h0m0 7h0m0 28h0m0 19h0m1-193h0m0 42h0m0 13h0m0 13h0m0 69h0m0 39h0m1-174h0m0 80h0m0 12h0m0 34h0m0 3h0m0 10h0m0 34h0m0 34h0m1-187h0m0 168h0m1-213h0m0 26h0m0 11h0m0 123h0m0 77h0m0 10h0m1-246h0m0 41h0m0 3h0m0 61h0m0 69h0m1-41h0m0 75h0m1-96h0m0 108h0m1-162h0m0 3h0m0 6h0m0 4h0m0 135h0m0 5h0m1-137h0m0 9h0m0 23h0m1-105h0m0 17h0m0 3h0m0 2h0m0 30h0m0 82h0m0 41h0m0 13h0m0 2h0m0 11h0m0 22h0m0 14h0m1-209h0m0 139h0m0 23h0m0 33h0m0 22h0m1-230h0m0 48h0m0 30h0m0 25h0m0 27h0m0 24h0m0 4h0m0 6h0m1-38h0m1-112h0m0 119h0m0 38h0m0 50h0m0 8h0m1-201h0m0 7h0m0 5h0m0 8h0m0 10h0m0 58h0m0 11h0m0 16h0m0 60h0m0 10h0m1-207h0m0 51h0m0 97h0m1-66h0m0 26h0m0 86h0m1-162h0m0 62h0m0 41h0m0 37h0m1-92h0m0 18h0m0 76h0m0 6h0m0 16h0m0 3h0m1-183h0m0 81h0m0 40h0m0 11h0m1-146h0m0 30h0m0 87h0m0 34h0m1-148h0m0 24h0m0 63h0m0 92h0m1-192h0m0 14h0m0 17h0m0 122h0m0 14h0m0 8h0m2-133h0m0 67h0m0 20h0m0 47h0m0 6h0m1-163h0m0 82h0m0 7h0m0 60h0m0 3h0m1-52h0m0 15h0m0 13h0m0 41h0m1-162h0m0 87h0m1-91h0m0 112h0m1 80h0m1-47h0m0 11h0m0 11h0m0 7h0m1-23h0m0 31h0m2-50h0m1 1h0m0 20h0m1-29h0m1 1h0m0 59h0m1-50h0m0 1h0m1 2h0m0 48h0m2-57h0m1 36h0m13-28h0" stroke="#8B4500" stroke-width="8.2" stroke-linecap="round" fill="none"/>
<path transform="translate(640 405) scale(0.2)" d="M440 525h0m4 3h0m1 0h0m4 25h0m0 14h0m0 67h0m1-50h0m2 17h0m0 31h0m1-82h0m1-37h0m0 38h0m1-23h0m0 2h0m0 83h0m0 8h0m1-118h0m0 5h0m0 86h0m1-95h0m0 29h0m0 37h0m1-11h0m0 44h0m1-86h0m1-11h0m0 34h0m0 4h0m1-21h0m0 2h0m0 25h0m0 12h0m1 70h0m3-104h0m1 17h0m0 6h0m1 68h0m3-25h0m0 24h0m2-57h0m0 60h0m1-102h0m0 12h0m0 45h0m1 11h0m3-88h0m0 8h0m0 18h0m0 58h0m2 21h0m1-82h0m0 58h0m1 4h0m1-32h0m1-45h0m0 38h0m0 24h0m1 19h0m1-68h0m1 52h0m0 43h0m1-75h0m0 34h0m0 28h0m1-80h0m1 6h0m0 12h0m0 62h0m0 7h0m1-49h0m0 38h0m0 25h0m1-130h0m0 97h0m0 4h0m2 26h0m1-117h0m0 89h0m0 5h0m1-45h0m0 12h0m1 48h0m2-113h0m0 27h0m0 45h0m0 12h0m0 58h0m1-37h0m0 33h0m1-15h0m1-78h0m0 50h0m1-71h0m0 46h0m0 8h0m0 70h0m1-155h0m0 81h0m1-60h0m0 26h0m0 25h0m0 77h0m1-26h0m0 14h0m3-6h0m1-14h0m0 7h0m2-19h0m1-73h0m0 86h0m1-88h0m1 109h0m1-119h0m0 122h0m1-98h0m0 26h0m0 33h0m1-47h0m1-25h0m0 8h0m0 46h0m1-68h0m0 30h0m2 64h0m0 6h0m0 8h0m2-84h0m0 15h0m0 11h0m0 9h0m1-57h0m0 37h0m2-16h0m0 10h0m0 19h0m1-58h0m0 24h0m1-2h0m1-6h0m1 27h0m0 15h0m1 48h0m1-75h0m0 61h0m3-72h0m2 30h0m1-25h0m1 46h0m1-25h0m4-6h0" stroke="#8B4500" stroke-width="8.2" stroke-linecap="round" fill="none"/>
<path transform="translate(640 405) scale(0.2)" d="M580 621h0m10-3h0m2 6h0m16-10h0m2-8h0m0 13h0m7-6h0m5 5h0m4-3h0m2 4h0m1-7h0m4 11h0m1-9h0m0 1h0" stroke="#8B4500" stroke-width="8.2" stroke-linecap="round" fill="none"/>
<path transform="translate(640 405) scale(0.2)" d="M47 749h0m1-7h0m0 15h0m3-8h0m1-4h0m3 1h0m2-30h0m1 37h0m0 14h0m1-43h0m0 16h0m0 3h0m0 39h0m0 8h0m2-37h0m1-41h0m0 26h0m1-27h0m0 22h0m0 6h0m0 28h0m1-50h0m0 82h0m1-82h0m0 1h0m0 9h0m0 35h0m1-17h0m2-38h0m0 14h0m0 36h0m1 12h0m2-49h0m0 27h0m0 17h0m0 13h0m1-54h0m1-17h0m0 9h0m0 70h0m0 5h0m1-18h0m0 6h0m1-70h0m0 57h0m0 21h0m1-65h0m2-16h0m1-16h0m0 8h0m0 36h0m0 2h0m1-14h0m0 3h0m0 2h0m0 40h0m1-60h0m0 40h0m0 45h0m1-90h0m0 7h0m0 41h0m0 3h0m0 12h0m1-62h0m0 17h0m0 26h0m0 51h0m0 9h0m1-99h0m0 34h0m0 38h0m1-102h0m0 24h0m0 2h0m0 45h0m0 53h0m1-134h0m0 93h0m0 27h0m0 5h0m1-105h0m0 41h0m0 82h0m1-77h0m0 29h0m0 46h0m1-69h0m0 45h0m0 21h0m1-7h0m1-13h0m0 7h0m0 13h0m0 12h0m1-114h0m0 35h0m1-44h0m0 12h0m0 22h0m0 4h0m0 10h0m0 56h0m1-102h0m0 8h0m0 31h0m1 13h0m0 43h0m1-107h0m0 80h0m1-59h0m0 35h0m0 8h0m0 2h0m0 34h0m1-96h0m0 46h0m1-58h0m0 13h0m0 68h0m0 18h0m1-96h0m0 21h0m0 94h0m0 4h0m0 8h0m2-97h0m0 17h0m0 49h0m1-81h0m0 30h0m0 36h0m0 34h0m1-121h0m0 24h0m0 2h0m0 69h0m0 1h0m1-110h0m0 18h0m0 28h0m0 6h0m0 1h0m0 21h0m0 35h0m0 11h0m0 9h0m1-133h0m0 50h0m0 37h0m0 7h0m0 17h0m1-70h0m0 18h0m0 28h0m0 24h0m1-107h0m0 90h0m0 50h0m1-101h0m0 12h0m0 29h0m0 34h0m1-111h0m0 2h0m1 42h0m0 20h0m0 14h0m1-66h0m0 8h0m1-8h0m0 28h0m0 27h0m0 33h0m1-52h0m1-2h0m0 6h0m0 18h0m0 24h0m0 35h0m0 29h0m0 14h0m1-184h0m0 28h0m0 29h0m0 60h0m0 36h0m1-95h0m0 31h0m0 18h0m0 67h0m1-130h0m0 17h0m0 8h0m0 61h0m0 34h0m1-168h0m0 109h0m0 11h0m1-28h0m0 9h0m0 64h0m1-27h0m0 32h0m1-118h0m0 48h0m0 12h0m0 1h0m0 37h0m0 1h0m1-115h0m0 62h0m1-77h0m0 13h0m0 21h0m0 85h0m1-117h0m0 3h0m0 81h0m0 47h0m0 9h0m1-42h0m0 28h0m0 32h0m1-184h0m0 7h0m0 87h0m0 18h0m0 4h0m0 30h0m0 13h0m0 39h0m1-121h0m0 8h0m0 59h0m0 11h0m0 2h0m0 3h0m0 26h0m1-190h0m0 32h0m0 61h0m1-89h0m0 23h0m0 36h0m0 32h0m0 26h0m0 45h0m0 10h0m0 20h0m1-179h0m0 54h0m0 33h0m0 32h0m0 42h0m1-161h0m0 11h0m0 23h0m1-56h0m0 23h0m0 3h0m0 8h0m0 36h0m0 113h0m0 2h0m1-168h0m0 16h0m0 126h0m0 7h0m0 9h0m0 2h0m0 17h0m1-175h0m0 7h0m0 81h0m0 3h0m0 56h0m0 40h0m1-178h0m0 91h0m0 59h0m1-63h0m0 45h0m0 38h0m1-191h0m0 3h0m0 43h0m0 2h0m0 30h0m0 106h0m1-194h0m0 22h0m0 35h0m0 44h0m0 20h0m0 74h0m0 16h0m1-187h0m0 12h0m0 79h0m0 7h0m1-132h0m0 7h0m0 46h0m0 33h0m0 7h0m0 17h0m0 12h0m0 57h0m0 25h0m1-136h0m0 44h0m0 21h0m0 68h0m1-196h0m0 41h0m0 76h0m0 15h0m0 42h0m0 10h0m1-139h0m0 158h0m0 20h0m1-122h0m0 21h0m1-23h0m0 67h0m0 13h0m1-185h0m0 106h0m0 59h0m0 17h0m0 4h0m0 38h0m1-128h0m0 5h0m0 39h0m1-115h0m0 116h0m0 54h0m1-169h0m0 64h0m0 12h0m0 29h0m0 30h0m0 4h0m0 49h0m0 10h0m1-154h0m0 118h0m0 18h0m1-198h0m0 44h0m0 21h0m0 122h0m0 38h0m1-116h0m1 27h0m0 19h0m0 14h0m1-154h0m0 22h0m0 63h0m0 49h0m0 65h0m1-223h0m0 5h0m0 28h0m0 3h0m0 38h0m0 22h0m0 98h0m0 22h0m1-141h0m1 27h0m1-107h0m0 25h0m0 48h0m0 40h0m0 14h0m0 2h0m0 89h0m1-188h0m0 49h0m0 106h0m0 5h0m1-182h0m0 11h0m0 33h0m0 32h0m0 66h0m0 26h0m0 46h0m1-192h0m0 79h0m0 37h0m0 26h0m0 26h0m0 15h0m0 17h0m1-225h0m0 95h0m0 62h0m0 7h0m0 13h0m1-166h0m0 36h0m0 9h0m0 15h0m0 10h0m0 73h0m1-148h0m0 34h0m0 24h0m0 46h0m0 76h0m0 28h0m1-215h0m0 38h0m0 38h0m0 92h0m0 32h0m0 12h0m0 4h0m1-209h0m0 92h0m0 43h0m0 22h0m0 28h0m1-107h0m0 42h0m0 52h0m0 44h0m1-241h0m0 35h0m0 22h0m0 4h0m0 32h0m0 32h0m0 38h0m0 94h0m1-216h0m0 2h0m0 19h0m0 3h0m0 92h0m0 5h0m0 2h0m0 78h0m1-124h0m0 34h0m0 45h0m1-149h0m0 5h0m0 65h0m0 37h0m0 29h0m1-45h0m0 92h0m1-84h0m0 11h0m0 7h0m0 18h0m0 4h0m0 2h0m0 44h0m0 17h0m0 7h0m1-246h0m0 79h0m0 22h0m0 8h0m0 37h0m0 36h0m0 3h0m1-116h0m0 5h0m0 85h0m0 26h0m0 2h0m1-143h0m0 20h0m0 60h0m0 15h0m0 33h0m0 40h0m1-161h0m0 35h0m0 8h0m0 5h0m0 90h0m0 14h0m1-204h0m0 42h0m0 23h0m0 13h0m0 37h0m0 9h0m0 24h0m1-112h0m0 22h0m0 3h0m0 91h0m1-56h0m0 23h0m0 36h0m0 34h0m0 61h0m1-261h0m0 54h0m0 73h0m0 44h0m0 4h0m1-134h0m0 71h0m0 2h0m0 13h0m0 42h0m0 9h0m0 4h0m0 23h0m0 28h0m1-233h0m0 46h0m0 66h0m0 18h0m0 75h0m1-126h0m0 140h0m0 4h0m0 2h0m0 1h0m0 23h0m0 14h0m1-263h0m0 4h0m0 65h0m0 21h0m0 89h0m0 34h0m0 54h0m1-218h0m0 57h0m0 16h0m0 25h0m0 16h0m1-137h0m0 10h0m0 28h0m0 125h0m0 26h0m0 50h0m1-182h0m0 16h0m0 24h0m0 13h0m0 2h0m0 18h0m0 55h0m0 48h0m1-227h0m0 5h0m0 3h0m0 47h0m0 50h0m0 2h0m0 17h0m0 35h0m0 4h0m0 15h0m0 62h0m1-286h0m0 9h0m0 77h0m0 29h0m0 8h0m0 40h0m0 76h0m0 42h0m1-198h0m0 21h0m0 29h0m0 129h0m0 19h0m1-264h0m0 51h0m0 23h0m0 79h0m0 5h0m1-128h0m0 9h0m0 9h0m0 86h0m0 35h0m0 24h0m0 26h0m0 34h0m1-232h0m0 54h0m0 25h0m0 23h0m0 35h0m1-149h0m0 22h0m0 131h0m0 4h0m0 16h0m0 13h0m0 15h0m0 22h0m0 10h0m1-258h0m0 86h0m0 121h0m0 19h0m1-206h0m0 161h0m0 37h0m0 12h0m1-217h0m0 16h0m0 79h0m0 50h0m0 131h0m1-253h0m0 79h0m0 3h0m0 53h0m0 7h0m0 7h0m0 71h0m0 21h0m0 2h0m1-234h0m0 26h0m0 173h0m0 18h0m1-229h0m0 47h0m0 30h0m0 39h0m0 3h0m0 49h0m0 61h0m1-186h0m0 16h0m0 2h0m0 23h0m0 39h0m0 52h0m0 15h0m0 13h0m1-229h0m0 48h0m0 57h0m0 13h0m0 24h0m0 64h0m1-145h0m0 32h0m0 9h0m0 97h0m0 46h0m1-235h0m0 14h0m0 133h0m0 1h0m0 28h0m0 86h0m1-225h0m0 4h0m0 75h0m0 7h0m0 2h0m0 3h0m1-65h0m0 24h0m0 1h0m0 2h0m0 43h0m0 63h0m1-105h0m0 23h0m0 31h0m0 8h0m0 26h0m0 7h0m0 30h0m0 7h0m1-213h0m0 5h0m0 33h0m0 105h0m0 1h0m0 52h0m0 33h0m0 10h0m0 9h0m1-271h0m0 34h0m0 175h0m0 41h0m0 8h0m1-240h0m0 20h0m0 6h0m0 15h0m0 26h0m0 141h0m0 12h0m0 40h0m1-251h0m0 25h0m0 12h0m0 8h0m0 20h0m0 84h0m0 82h0m0 7h0m1-113h0m0 63h0m0 37h0m0 19h0m1-213h0m0 86h0m0 5h0m0 104h0m1-240h0m0 48h0m0 56h0m0 91h0m0 12h0m1-186h0m0 5h0m0 12h0m0 174h0m1-169h0m0 8h0m0 35h0m0 86h0m0 36h0m0 22h0m1-197h0m0 169h0m1-197h0m0 13h0m0 19h0m0 142h0m0 33h0m0 9h0m0 28h0m0 6h0m1-236h0m0 65h0m0 21h0m0 26h0m0 32h0m0 42h0m1-56h0m0 19h0m0 35h0m0 16h0m0 30h0m1-225h0m0 4h0m0 23h0m0 19h0m0 82h0m0 15h0m0 44h0m0 32h0m0 13h0m1-169h0m0 67h0m1-122h0m0 107h0m0 46h0m0 29h0m0 30h0m1-235h0m0 47h0m0 30h0m0 93h0m1-139h0m0 28h0m0 9h0m0 70h0m1-12h0m0 10h0m0 7h0m0 5h0m0 39h0m1-131h0m0 32h0m0 27h0m0 45h0m0 1h0m0 10h0m1-167h0m0 22h0m0 30h0m0 20h0m0 40h0m0 24h0m0 20h0m0 27h0m0 49h0m0 5h0m1-187h0m0 13h0m0 68h0m0 42h0m0 17h0m1-144h0m0 19h0m0 95h0m0 13h0m0 12h0m1-164h0m0 12h0m0 109h0m1-113h0m0 51h0m0 25h0m0 10h0m0 11h0m0 28h0m0 28h0m1-171h0m0 125h0m0 22h0m1-144h0m0 64h0m0 22h0m0 51h0m0 17h0m1-117h0m0 10h0m0 138h0m0 18h0m1-131h0m0 12h0m0 17h0m0 4h0m0 42h0m1-131h0m0 52h0m0 34h0m0 12h0m0 40h0m0 13h0m0 16h0m0 3h0m1-153h0m0 6h0m0 36h0m0 5h0m0 25h0m0 41h0m1-114h0m0 24h0m0 19h0m0 22h0m0 19h0m0 28h0m1 30h0m1-10h0m0 59h0m1-179h0m1-2h0m0 24h0m0 57h0m0 46h0m0 33h0m1-181h0m0 36h0m0 56h0m0 19h0m0 37h0m1-154h0m0 6h0m0 16h0m0 17h0m0 76h0m0 15h0m0 58h0m1-196h0m0 6h0m0 64h0m0 116h0m0 5h0m1-164h0m0 24h0m0 91h0m0 4h0m1-146h0m0 151h0m1-152h0m0 57h0m0 60h0m1-126h0m0 21h0m0 39h0m0 6h0m0 62h0m0 17h0m0 53h0m1-28h0m0 17h0m1-152h0m0 9h0m0 138h0m1-125h0m0 8h0m0 3h0m0 1h0m0 4h0m0 41h0m0 7h0m1-74h0m0 18h0m0 28h0m0 2h0m0 6h0m0 5h0m0 29h0m0 27h0m1-78h0m0 72h0m1-110h0m0 1h0m0 62h0m0 46h0m1-115h0m0 90h0m0 2h0m0 33h0m1-101h0m0 5h0m0 22h0m0 56h0m1-116h0m0 27h0m0 16h0m0 7h0m0 75h0m1-107h0m0 25h0m0 10h0m0 22h0m0 10h0m1-78h0m0 85h0m1-58h0m0 58h0m0 36h0m1-138h0m0 55h0m2 76h0m1-129h0m0 64h0m0 42h0m1-28h0m2-36h0m0 28h0m1-54h0m0 48h0m0 26h0m1-64h0m0 22h0m0 37h0m1-78h0m0 85h0m0 23h0m1-75h0m0 4h0m0 12h0m0 12h0m0 24h0m1-2h0m2-47h0m2-14h0m0 37h0m0 19h0m0 5h0m1-47h0m1 11h0m2-18h0m0 27h0m0 10h0m5-36h0m6 17h0" stroke="#C49A00" stroke-width="8.2" stroke-linecap="round" fill="none"/>
<path transform="translate(640 405) scale(0.2)" d="M249 813h0m1-23h0m1-7h0m2 4h0m3-23h0m1 22h0m1-39h0m1 67h0m2-35h0m3 16h0m1-44h0m0 1h0m5 12h0m1-28h0m1-14h0m1-10h0m9 16h0m0 53h0m0 12h0m3-19h0m5-2h0m1-14h0m2 10h0m8 2h0m10-2h0" stroke="#C49A00" stroke-width="8.2" stroke-linecap="round" fill="none"/>
<path transform="translate(640 405) scale(0.2)" d="M208 884h0m16-17h0m4-6h0m1-1h0m0 15h0m1-5h0m1 11h0m2-21h0m4-16h0m0 14h0m0 11h0m1-12h0m0 20h0m1-52h0m0 48h0m3-25h0m0 11h0m2-24h0m0 39h0m2 19h0m1-39h0m1-22h0m1 6h0m0 4h0m0 32h0m0 7h0m1-8h0m1-32h0m0 25h0m1-21h0m0 2h0m0 2h0m1 1h0m1-15h0m1 3h0m0 49h0m3-52h0m1-12h0m0 66h0m0 10h0m1-43h0m1 33h0m1-64h0m1-3h0m0 28h0m0 6h0m1-29h0m0 31h0m0 34h0m0 15h0m1-28h0m3-29h0m0 14h0m2-22h0m0 62h0m2-21h0m0 14h0m2-40h0m1 10h0m0 4h0m1 20h0m1-25h0m1-37h0m1 76h0m1-44h0m0 18h0m0 2h0m2-45h0m2 37h0m0 11h0m0 9h0m2-59h0m1 60h0m1-66h0m0 4h0m0 12h0m0 48h0m0 12h0m1-75h0m0 20h0m0 40h0m0 18h0m1-75h0m0 1h0m0 46h0m1 0h0m1-22h0m1 0h0m1-19h0m1-1h0m1 19h0m1 52h0m1-65h0m1 34h0m0 5h0m0 12h0m0 5h0m1-67h0m0 17h0m0 33h0m0 12h0m0 11h0m1-66h0m0 1h0m0 9h0m1-21h0m0 14h0m0 23h0m0 11h0m1-55h0m0 19h0m1 42h0m0 1h0m1-3h0m0 23h0m0 6h0m1-70h0m0 12h0m1 21h0m1 13h0m0 13h0m1-63h0m0 25h0m2-21h0m1 5h0m0 41h0m1 21h0m1-67h0m0 50h0m1-44h0m0 5h0m1 45h0m1-56h0m0 13h0m0 53h0m1-86h0m0 48h0m0 29h0m1-80h0m0 35h0m1-6h0m0 34h0m2-65h0m0 79h0m3 4h0m1-83h0m0 67h0m0 11h0m1-57h0m2 6h0m0 56h0m1-59h0m1-16h0m1 32h0m1-37h0m1 9h0m0 32h0m1 34h0m1-62h0m0 61h0m1-65h0m2-11h0m0 14h0m0 40h0m0 10h0m0 13h0m0 8h0m1-40h0m0 51h0m2-51h0m0 5h0m1-68h0m1 21h0m0 7h0m1 25h0m1-23h0m1-14h0m0 50h0m1-42h0m1-28h0m0 63h0m1 36h0m1-36h0m0 13h0m1-43h0m1 22h0m0 29h0m2-66h0m0 86h0m0 11h0m3-33h0m2-50h0m0 73h0m1-68h0m0 42h0m2-51h0m1 2h0m0 11h0m0 34h0m0 10h0m1-41h0m0 54h0m1-51h0m0 57h0m1-31h0m1-65h0m0 16h0m1-48h0m0 39h0m0 1h0m1 42h0m1-48h0m0 7h0m0 54h0m1 8h0m1-99h0m0 52h0m0 3h0m0 47h0m1-110h0m1-33h0m0 24h0m0 35h0m0 4h0m0 18h0m3 17h0m0 15h0m0 41h0m1-112h0m0 59h0m1-70h0m0 23h0m0 87h0m1-114h0m0 30h0m0 25h0m0 34h0m1-64h0m0 36h0m1-50h0m0 31h0m0 72h0m2-122h0m0 21h0m0 2h0m0 90h0m0 1h0m1-131h0m0 34h0m0 49h0m0 76h0m1-129h0m0 39h0m1-2h0m1 99h0m1-161h0m0 23h0m0 4h0m0 29h0m1-50h0m0 55h0m0 73h0m0 5h0m1-110h0m0 65h0m0 19h0m0 19h0m1-139h0m0 29h0m0 22h0m0 12h0m0 40h0m0 29h0m0 7h0m0 24h0m1-113h0m0 23h0m0 46h0m0 43h0m1-186h0m0 83h0m0 93h0m2-150h0m0 34h0m0 16h0m0 17h0m0 84h0m1-129h0m0 70h0m0 2h0m1-83h0m0 60h0m0 22h0m0 14h0m0 6h0m1-114h0m0 126h0m0 2h0m1-107h0m0 14h0m0 81h0m0 6h0m0 6h0m1-101h0m0 7h0m0 71h0m0 23h0m1-152h0m0 43h0m0 71h0m0 13h0m0 38h0m1-133h0m0 114h0m1-123h0m0 39h0m1-49h0m1 71h0m2-63h0m0 88h0m0 49h0m1-135h0m0 74h0m1-62h0m0 94h0m1-52h0m0 1h0m1-37h0m0 102h0m0 12h0m1-97h0m0 11h0m0 4h0m0 28h0m0 52h0m0 6h0m1-91h0m0 22h0m1-68h0m0 39h0m0 34h0m0 3h0m0 31h0m0 16h0m0 9h0m0 10h0m1-81h0m0 5h0m0 41h0m1-29h0m0 7h0m1-61h0m0 14h0m0 39h0m0 44h0m0 10h0m0 6h0m1-114h0m0 28h0m0 19h0m0 34h0m1-96h0m0 107h0m1 30h0m1-159h0m1 7h0m0 47h0m1-50h0m0 10h0m0 23h0m0 43h0m0 87h0m2-125h0m0 34h0m0 5h0m0 2h0m0 7h0m0 3h0m0 25h0m1-51h0m0 89h0m1-130h0m0 47h0m0 15h0m0 17h0m0 26h0m0 10h0m1-32h0m0 9h0m2-99h0m0 84h0m1-77h0m0 74h0m2-96h0m1 6h0m0 55h0m0 17h0m1-5h0m1-32h0m0 27h0m0 34h0m0 40h0m3-69h0m0 12h0m1-20h0m0 14h0m1-50h0m0 21h0m4 42h0m2-41h0m1 7h0m1-24h0m2 10h0m1 52h0m5-54h0" stroke="#53B400" stroke-width="8.2" stroke-linecap="round" fill="none"/>
<path transform="translate(640 405) scale(0.2)" d="M255 817h0m22-13h0m8 6h0m3-5h0m15 6h0m2 0h0m1-22h0m1 20h0m3-24h0m1-8h0m0 4h0m5 25h0m11-37h0m0 35h0m2-13h0m2-20h0m2 14h0m1-10h0m1 2h0m1-19h0m0 18h0m3 14h0m1-25h0m6-4h0m1 6h0m3 34h0m1-52h0m1 18h0m0 4h0m1-4h0m1 3h0m2-10h0m3-13h0m0 26h0m0 13h0m8-29h0m1 12h0m2-41h0m0 43h0m1-11h0" stroke="#53B400" stroke-width="8.2" stroke-linecap="round" fill="none"/>
<path transform="translate(640 405) scale(0.2)" d="M643 229h0m8 7h0m2 17h0m2-8h0m0 31h0m1-34h0m0 33h0m2-57h0m0 2h0m0 25h0m2 2h0m1-16h0m0 32h0m1 8h0m0 7h0m1-49h0m0 41h0m1-13h0m1-24h0m1 8h0m1 7h0m0 1h0m2-17h0m0 42h0m3-5h0m1-41h0m1 3h0m1-9h0m0 13h0m1-32h0m1 69h0m1-47h0m1-6h0m1 12h0m0 52h0m2 12h0m2-12h0m1-77h0m2 85h0m1-97h0m0 88h0m1 13h0m1-93h0m1 72h0m0 24h0m1-9h0m1-65h0m1 66h0m1 7h0m0 11h0m3-21h0m1 1h0m0 8h0m1 5h0m0 9h0m1-123h0m0 52h0m2-28h0m0 4h0m0 1h0m0 10h0m2-41h0m0 8h0m0 95h0m1 20h0m3-21h0m1 28h0m1-107h0m3 90h0m2-111h0m0 9h0m0 116h0m2-130h0m0 111h0m1 5h0m1 1h0m1-106h0m0 102h0m2-13h0m1-90h0m0 119h0m0 12h0m1-134h0m1 112h0m1-104h0m0 2h0m3-15h0m2 2h0m1-10h0m2 2h0m1 118h0m0 27h0m1-6h0m4-151h0m3 17h0m0 5h0m1 4h0m1-17h0m0 11h0m2 141h0m1-145h0m2-20h0m1 17h0m0 131h0m1 8h0m3-155h0m0 167h0m1-159h0m2 4h0m0 132h0m0 23h0m1-165h0m0 164h0m2-8h0m0 6h0m1-150h0m0 154h0m1-163h0m2 180h0m1-166h0m0 155h0m2-13h0m0 18h0m1-176h0m0 15h0m1 144h0m1-176h0m1 22h0m2 159h0m0 8h0m1-183h0m0 14h0m1-7h0m0 3h0m0 13h0m1 0h0m0 4h0m0 151h0m3-166h0m2 160h0m1-154h0m2 1h0m2-5h0m0 173h0m1-12h0m1-153h0m2 2h0m1-8h0m2 167h0m1-171h0m1 36h0m2-31h0m0 11h0m3 150h0m3-158h0m0 16h0m1-26h0m0 159h0m3 0h0m1 22h0m1-168h0m1 141h0m2-132h0m2 8h0m2-26h0m0 150h0m0 5h0m5-135h0m1-23h0m0 15h0m1-9h0m0 146h0m1-34h0m0 28h0m2-118h0m1-3h0m0 101h0m0 15h0m0 17h0m3-137h0m0 136h0m1-151h0m0 31h0m0 59h0m1-55h0m1 109h0m1-95h0m0 73h0m1-23h0m0 3h0m0 37h0m0 10h0m1-1h0m1-127h0m0 2h0m0 2h0m0 17h0m0 44h0m1-26h0m2-13h0m0 100h0m1-72h0m1 52h0m1-24h0m2 39h0m1-106h0m0 45h0m0 30h0m2-47h0m0 16h0m1-30h0m0 46h0m0 31h0m2-79h0m0 2h0m1 10h0m0 18h0m0 18h0m1 40h0m1-72h0m0 26h0m3-23h0m0 28h0m1-38h0m1 9h0m1-5h0m0 41h0m1-52h0m3 34h0" stroke="#A58AFF" stroke-width="8.2" stroke-linecap="round" fill="none"/>
<path transform="translate(640 405) scale(0.2)" d="M709 186h0m3-7h0m10 20h0m4-26h0m0 15h0m1-7h0m1 14h0m2 0h0m2-24h0m0 19h0m2-8h0m1-12h0m0 29h0m2-13h0m1-3h0m1-11h0m0 15h0m1-24h0m1 13h0m1-11h0m0 11h0m1-7h0m0 26h0m1-15h0m1-6h0m1 23h0m5-26h0m3 4h0m3-1h0m1-9h0m0 5h0m1-16h0m3 9h0m0 10h0m4-11h0m0 4h0m6-31h0m0 53h0m3-28h0m0 18h0m2 0h0m0 3h0m1 2h0m3-1h0m2-6h0m3-1h0m4-1h0m1-16h0m2 9h0m3 3h0m7-10h0m4 21h0m1 9h0m1-11h0m4 6h0m1 9h0m2 0h0m2-3h0m10-25h0m3 22h0" stroke="#A58AFF" stroke-width="8.2" stroke-linecap="round" fill="none"/>
<path transform="translate(640 405) scale(0.2)" d="M717 320h0m1 2h0m2 3h0m2-18h0m3-8h0m6 11h0m5 2h0m2 4h0m0 15h0m0 4h0m1-12h0m3-7h0m1-4h0m1 27h0m2-28h0m0 39h0m1-40h0m1 10h0m1 10h0m3 4h0m3-1h0m4-5h0m4 11h0m3-11h0m2 2h0m3-6h0m1 13h0m3-15h0m0 6h0m3 1h0m7-7h0m1 13h0m2-13h0m0 6h0m0 2h0m2-2h0m1-7h0m4-8h0m0 18h0m1-4h0m2-1h0m0 2h0m2 3h0m9-12h0m1 16h0m1 11h0m6-22h0m0 14h0m10-8h0" stroke="#A58AFF" stroke-width="8.2" stroke-linecap="round" fill="none"/>
<path transform="translate(640 405) scale(0.2)" d="M605 320h0m1-32h0m3-11h0m1 48h0m3-11h0m4-21h0m1-25h0m3 39h0m1 8h0m2-67h0m0 12h0m0 18h0m0 7h0m1 0h0m1-27h0m0 14h0m3 20h0m1-34h0m1 5h0m0 5h0m6-21h0m2 5h0m3 1h0m11-19h0m2 17h0" stroke="#A58AFF" stroke-width="8.2" stroke-linecap="round" fill="none"/>
<path transform="translate(640 405) scale(0.2)" d="M742 255h0m13-7h0m0 12h0m1-15h0m7-25h0m5 1h0m4 45h0m3 8h0m14 53h0m1-25h0" stroke="#A58AFF" stroke-width="8.2" stroke-linecap="round" fill="none"/>
<path transform="translate(640 405) scale(0.2)" d="M811 513h0m0 2h0m2-5h0m8-2h0m2-6h0m0 11h0m1 10h0m1-24h0m1 5h0m2-4h0m1-8h0m1 6h0m3 17h0m2-23h0m5 19h0m1-6h0m1-15h0m1-2h0m3 14h0m1-8h0m0 19h0m1-22h0m0 9h0m1-25h0m0 21h0m0 7h0m1-17h0m0 13h0m4-9h0m0 7h0m6-26h0m1 2h0m3 14h0m1 1h0m1-14h0m0 18h0m3-32h0m1-6h0m1 3h0m0 8h0m0 23h0m2-10h0m0 3h0m0 3h0m1-20h0m1 22h0m2-21h0m1-34h0m0 9h0m0 32h0m1-293h0m2 276h0m0 12h0m1 11h0m1-10h0m1-18h0m0 10h0m0 2h0m0 1h0m2-13h0m1 33h0m1-316h0m1 4h0m1-2h0m0 251h0m1-250h0m0 235h0m1-228h0m0 2h0m0 241h0m1-245h0m0 244h0m0 24h0m1-19h0m1-243h0m3-12h0m0 3h0m0 232h0m0 14h0m1-9h0m0 7h0m0 14h0m1-23h0m0 33h0m1-35h0m0 16h0m1-236h0m0 223h0m0 6h0m1-240h0m0 224h0m1-238h0m0 6h0m0 225h0m0 12h0m0 17h0m0 9h0m1-256h0m0 204h0m0 38h0m1-240h0m1 187h0m0 1h0m0 30h0m1-211h0m0 244h0m0 3h0m1-234h0m0 171h0m0 6h0m0 15h0m0 29h0m1-233h0m0 201h0m1 0h0m0 21h0m1-39h0m0 21h0m0 27h0m1-234h0m0 15h0m0 188h0m1-2h0m0 13h0m1 7h0m0 12h0m1-245h0m0 13h0m0 213h0m1-216h0m0 18h0m1 188h0m0 26h0m1-32h0m0 12h0m0 6h0m1-26h0m0 8h0m0 25h0m1-60h0m0 58h0m1-212h0m0 3h0m1 13h0m1-27h0m0 155h0m0 3h0m0 2h0m0 3h0m0 14h0m0 6h0m0 15h0m1-172h0m0 160h0m1-28h0m0 3h0m0 23h0m1-27h0m0 3h0m1-127h0m0 133h0m1-2h0m2-144h0m0 30h0m0 92h0m0 33h0m1-25h0m1-139h0m0 141h0m0 14h0m2-140h0m0 4h0m0 24h0m0 100h0m1-15h0m0 26h0m1-9h0m1-133h0m0 18h0m0 2h0m1-10h0m0 88h0m0 34h0m1-125h0m0 10h0m0 21h0m0 75h0m2-120h0m0 128h0m1-69h0m0 75h0m1-100h0m1-28h0m0 41h0m2-32h0m0 21h0m0 3h0m0 22h0m0 46h0m1-96h0m0 14h0m0 16h0m1 40h0m0 12h0m1 27h0m0 13h0m1-122h0m0 26h0m0 103h0m1-123h0m0 36h0m1-30h0m0 44h0m0 49h0m0 8h0m1-102h0m1 71h0m0 12h0m1-29h0m0 15h0m0 6h0m1-40h0m0 88h0m1-87h0m0 34h0m1-75h0m0 25h0m0 3h0m0 57h0m0 12h0m1-75h0m0 8h0m0 32h0m0 29h0m1-52h0m0 11h0m0 6h0m0 30h0m0 18h0m1-79h0m0 44h0m1-7h0m0 15h0m0 1h0m0 6h0m0 18h0m1-54h0m1-26h0m0 20h0m0 12h0m0 14h0m0 30h0m1-49h0m2 34h0m2-18h0m1-6h0m1-21h0m0 10h0" stroke="#A58AFF" stroke-width="8.2" stroke-linecap="round" fill="none"/>
<path transform="translate(640 405) scale(0.2)" d="M522 395h0m4-36h0m3 17h0m2-32h0m1 42h0m3-47h0m0 53h0m5-70h0m4 22h0m2-15h0m0 13h0m0 20h0m1 17h0m1 7h0m1-56h0m3 27h0m1 30h0m1 9h0m1-40h0m0 50h0m1-7h0m1-29h0m1-44h0m0 12h0m1 51h0m2-8h0m1-17h0m1-43h0m0 37h0m2-2h0m0 24h0m1-50h0m0 9h0m0 46h0m0 7h0m1-67h0m3-12h0m0 44h0m1-21h0m1 32h0m2-56h0m0 95h0m1-69h0m0 26h0m0 27h0m1-53h0m0 7h0m5-2h0m0 19h0m0 31h0m3 11h0m2-4h0m1 2h0m1-88h0m1 3h0m0 2h0m1 32h0m1-22h0m5 9h0m2 1h0m2 22h0m0 42h0m2-15h0m1-68h0m2 8h0m1 48h0m1-43h0m1-25h0m0 44h0m0 63h0m2-49h0m0 31h0m5-96h0m0 80h0m0 7h0m1-42h0m8-8h0m0 37h0m1-48h0m0 12h0m1 42h0m3 0h0m2 13h0m1-6h0m1-21h0m3-20h0m1-15h0m1 0h0m6 29h0m10-6h0" stroke="#A58AFF" stroke-width="8.2" stroke-linecap="round" fill="none"/>
<path transform="translate(640 405) scale(0.2)" d="M821 514h0m1 58h0m10-43h0m1 31h0m5 6h0m3-18h0m3 4h0m4-13h0" stroke="#A58AFF" stroke-width="8.2" stroke-linecap="round" fill="none"/>
<path transform="translate(640 405) scale(0.2)" d="M422 614h0m1-8h0m1 2h0m3 12h0m2-10h0m3 1h0m2-8h0m2 7h0" stroke="#A58AFF" stroke-width="8.2" stroke-linecap="round" fill="none"/>
<path transform="translate(640 405) scale(0.2)" d="M644 236h0m13 7h0m0 18h0m13-30h0m7 27h0m1-11h0m3 20h0m2 3h0m11-7h0m2-6h0" stroke="#A58AFF" stroke-width="8.2" stroke-linecap="round" fill="none"/>
<path transform="translate(640 405) scale(0.2)" d="M769 623h0m7 7h0m0 17h0m1-29h0m1 19h0m0 20h0m2-23h0m0 11h0m1-20h0m0 9h0m0 6h0m1-14h0m0 6h0m0 2h0m1-7h0m1-3h0m1 4h0m1 20h0m1-28h0m0 34h0m1-33h0m0 21h0m0 8h0m1-25h0m0 23h0m1-28h0m1 20h0m0 23h0m1-7h0m0 4h0m1-9h0m1-29h0m0 19h0m0 22h0m1-27h0m1 16h0m0 3h0m0 3h0m1 4h0m1-30h0m0 9h0m0 17h0m1-9h0m0 31h0m1-52h0m0 49h0m1-41h0m0 29h0m0 4h0m1 11h0m1-9h0m0 7h0m0 3h0m1-27h0m0 6h0m1-25h0m0 14h0m0 15h0m0 9h0m0 7h0m1-43h0m0 9h0m1-14h0m0 64h0m1-77h0m0 10h0m0 42h0m0 12h0m1-51h0m0 19h0m0 30h0m0 1h0m1-55h0m1 13h0m0 3h0m0 4h0m0 15h0m1 14h0m0 16h0m1-59h0m0 33h0m0 4h0m0 8h0m1-46h0m0 7h0m0 2h0m0 4h0m0 8h0m1-34h0m0 34h0m0 6h0m0 3h0m0 22h0m1-32h0m0 11h0m1-35h0m0 56h0m1-46h0m0 1h0m1-2h0m1 29h0m0 10h0m0 24h0m1-39h0m0 24h0m1-43h0m0 1h0m0 2h0m0 20h0m0 27h0m0 10h0m1-22h0m0 13h0m1-63h0m0 3h0m0 12h0m0 48h0m1-68h0m0 1h0m0 43h0m1-43h0m0 5h0m0 48h0m1-48h0m0 28h0m0 18h0m1-61h0m0 2h0m0 7h0m0 3h0m0 67h0m1-62h0m0 9h0m0 13h0m0 11h0m0 17h0m2-71h0m0 18h0m1-15h0m0 8h0m0 33h0m0 16h0m0 6h0m1-34h0m0 17h0m1-44h0m0 4h0m0 5h0m0 32h0m0 22h0m1-52h0m0 19h0m0 29h0m0 5h0m1-40h0m0 30h0m0 8h0m1-52h0m0 20h0m0 11h0m1-23h0m0 42h0m1-51h0m0 35h0m1-18h0m0 14h0m0 5h0m0 25h0m1-71h0m0 20h0m0 18h0m0 19h0m0 3h0m1-37h0m0 12h0m1-5h0m0 29h0m0 6h0m2-51h0m0 3h0m0 12h0m0 32h0m2-57h0m0 28h0m0 23h0m1-23h0m1 14h0m1-50h0m0 13h0m0 31h0m0 6h0m2-30h0m0 18h0m0 10h0m0 13h0m2-58h0m0 34h0m0 11h0m1-31h0m1 8h0m1-9h0m1 16h0m1-20h0m0 10h0m0 24h0m0 1h0m1-41h0m0 6h0m0 37h0m1-42h0m1 38h0m2-36h0m0 8h0m0 1h0m2-13h0m0 7h0m0 4h0m1-1h0m0 8h0m1-18h0m3 4h0m0 33h0" stroke="#A3A500" stroke-width="8.2" stroke-linecap="round" fill="none"/>
<path transform="translate(640 405) scale(0.2)" d="M677 602h0m6 3h0m0 2h0m2-11h0m0 9h0m5-4h0m2-7h0m6-5h0m0 1h0m2-4h0m0 5h0m1-6h0m1 0h0m2 8h0m1-3h0m1-10h0m6-7h0m0 3h0m1-10h0m3 10h0m0 2h0m2 0h0m0 2h0m4-13h0m1 6h0m3 1h0m4-12h0m8 5h0m0 4h0m2-18h0m1 4h0m2 7h0m6-11h0m0 6h0m2-1h0m3-4h0m1 9h0m2-6h0m1-7h0m3-10h0m1 5h0m4 3h0m2 0h0m1-1h0m1 3h0m1-6h0m3 5h0m6-3h0m0 3h0" stroke="#A3A500" stroke-width="8.2" stroke-linecap="round" fill="none"/>
<path transform="translate(640 405) scale(0.2)" d="M683 590h0m2-6h0m1 11h0m1-5h0m1-4h0m1 5h0m0 4h0m0 2h0m1-18h0m0 17h0m1-7h0m2 10h0m2 4h0m1-1h0" stroke="#A3A500" stroke-width="8.2" stroke-linecap="round" fill="none"/>
<path transform="translate(640 405) scale(0.2)" d="M733 612h0m2 5h0m0 1h0m5 2h0m1 1h0m1-5h0m1 2h0m4 4h0m0 3h0m1-4h0m0 6h0m0 5h0m3 1h0m7-2h0m2 1h0m6 2h0m2 2h0m1 2h0m5 2h0m1 11h0m1-4h0m4 11h0m1-5h0m1 0h0m3 0h0" stroke="#A3A500" stroke-width="8.2" stroke-linecap="round" fill="none"/>
<path transform="translate(640 405) scale(0.2)" d="M760 570h0m4-12h0m2 51h0m2-48h0m7-7h0m2 29h0m0 31h0m2-51h0m4 3h0m2-1h0m4 45h0m4-24h0m5 14h0m5-33h0m0 25h0m1-21h0m1 2h0m17-5h0m0 50h0m14-39h0m3 32h0m15-15h0m2-17h0m5 25h0m5 3h0" stroke="#A3A500" stroke-width="8.2" stroke-linecap="round" fill="none"/>
<path transform="translate(640 405) scale(0.2)" d="M441 101h0m6-4h0m3 2h0m1-2h0m25 0h0m1-1h0m1 1h0m0 2h0" stroke="#00B98F" stroke-width="9.0" stroke-linecap="round" fill="none"/>
<path transform="translate(640 405) scale(0.2)" d="M434 163h0m1-28h0m1-9h0m1 2h0m0 4h0m0 16h0m1-34h0" stroke="#00B98F" stroke-width="9.0" stroke-linecap="round" fill="none"/>
<path transform="translate(640 405) scale(0.2)" d="M491 731h0m0 8h0m2-4h0m1 9h0m1-8h0m2-2h0m1 6h0m4-11h0m0 2h0m1-7h0m2 8h0m2-11h0m6 2h0m0 6h0m4 9h0m3-17h0m5 3h0m4 1h0m2 1h0m1-1h0m0 1h0m0 4h0m5-10h0m0 2h0m5 5h0m9-14h0m0 1h0m1 5h0m1 3h0m1 4h0m5-2h0m7-1h0m1 4h0m5 0h0m1-5h0m4 11h0m2-7h0m1 2h0m3 4h0" stroke="#1F78B4" stroke-width="9.0" stroke-linecap="round" fill="none"/>
<path transform="translate(640 405) scale(0.2)" d="M621 668h0m1 11h0m1-4h0m1-1h0m0 32h0m1-22h0m1-8h0m1 6h0m0 22h0m1-16h0m0 19h0m1-49h0m1 26h0m1 13h0m0 5h0m1-11h0m0 12h0m1-1h0m0 5h0m1-8h0m0 6h0m0 2h0" stroke="#00B5C0" stroke-width="9.0" stroke-linecap="round" fill="none"/>
<path transform="translate(640 405) scale(0.2)" d="M590 879h0m2 5h0m1-4h0m4 12h0m1-10h0m0 3h0m1-3h0m2 2h0m3 4h0m0 4h0m7 3h0m0 5h0m4 0h0m4 11h0m2-3h0m5 11h0m2-3h0m1-1h0m0 4h0m2-2h0m2 6h0m2-1h0m0 5h0m1 0h0m2-3h0m0 1h0m1-2h0m4 18h0m3-6h0m5 9h0" stroke="#00A5FF" stroke-width="9.0" stroke-linecap="round" fill="none"/>
<path transform="translate(875 405) scale(0.2)" d="M483 73h0m1-1h0m0 1h0m2-5h0m2-7h0m1 8h0m1 5h0m0 1h0m6-6h0m1-5h0m2 21h0m4 6h0m1-15h0m0 14h0m1-11h0m2-7h0m0 4h0m0 1h0m1 18h0m1-21h0m0 9h0m1-10h0m0 4h0m2-18h0m0 60h0m1-17h0m0 17h0m2-22h0m1 11h0m1-47h0m0 45h0m1-44h0m2 44h0m3-12h0m0 10h0m0 27h0m1-57h0m0 49h0m1-11h0m1-29h0m0 54h0m1-2h0m0 16h0m1-78h0m1 28h0m1-19h0m0 21h0m0 26h0m2-25h0m1-7h0m0 54h0m1-77h0m1 9h0m0 43h0m1-40h0m1-18h0m0 10h0m1 28h0m1-33h0m1 57h0m0 10h0m1-47h0m0 3h0m1-26h0m0 17h0m1 60h0m0 134h0m1-176h0m0 47h0m1-22h0m0 29h0m0 1h0m1-44h0m0 27h0m0 12h0m1-46h0m1-25h0m0 41h0m0 31h0m0 46h0m0 76h0m1-206h0m0 11h0m0 31h0m0 40h0m0 33h0m0 45h0m1-42h0m2-22h0m0 56h0m0 28h0m1-102h0m0 114h0m1 4h0m1-188h0m0 24h0m0 15h0m0 68h0m1-120h0m0 11h0m0 30h0m1 58h0m0 17h0m0 1h0m1-92h0m0 68h0m0 22h0m0 10h0m0 56h0m0 28h0m1-176h0m0 3h0m0 126h0m0 73h0m1-230h0m0 15h0m0 48h0m0 7h0m0 71h0m0 29h0m0 30h0m1-108h0m0 7h0m0 29h0m0 80h0m1-186h0m0 66h0m1-19h0m0 63h0m0 5h0m0 66h0m0 3h0m0 9h0m1-139h0m0 67h0m0 32h0m0 3h0m1-157h0m0 72h0m0 4h0m0 8h0m0 138h0m1-166h0m0 114h0m0 3h0m0 6h0m0 33h0m1-65h0m0 39h0m0 42h0m1-234h0m0 87h0m0 49h0m1-23h0m0 58h0m0 13h0m0 38h0m1-194h0m0 24h0m0 34h0m0 73h0m0 2h0m0 21h0m0 4h0m0 6h0m0 7h0m1-163h0m0 65h0m0 34h0m0 109h0m1-227h0m0 57h0m0 47h0m0 50h0m1-189h0m0 66h0m0 86h0m0 17h0m0 30h0m0 46h0m1-209h0m0 144h0m0 53h0m1-185h0m0 17h0m0 13h0m0 9h0m0 31h0m0 87h0m0 6h0m0 5h0m1-156h0m0 44h0m0 77h0m0 31h0m1-203h0m1 15h0m0 7h0m0 27h0m0 19h0m0 16h0m0 12h0m0 70h0m0 3h0m0 84h0m1-252h0m0 22h0m0 41h0m0 6h0m0 36h0m0 57h0m1-162h0m0 5h0m0 36h0m0 77h0m0 77h0m1-204h0m0 49h0m0 31h0m0 37h0m0 2h0m0 17h0m0 59h0m0 21h0m0 32h0m0 21h0m1-216h0m0 49h0m0 58h0m0 1h0m0 95h0m1-234h0m0 19h0m0 75h0m0 4h0m0 111h0m1-220h0m0 58h0m0 25h0m0 49h0m0 66h0m0 10h0m0 9h0m1-217h0m0 30h0m0 20h0m0 24h0m0 14h0m0 2h0m1 60h0m0 19h0m1-124h0m0 34h0m0 167h0m0 19h0m1-274h0m0 7h0m0 23h0m0 20h0m0 37h0m0 5h0m0 71h0m1-163h0m0 23h0m0 77h0m0 86h0m1-185h0m0 206h0m0 23h0m0 5h0m0 19h0m0 30h0m1-225h0m0 77h0m0 15h0m0 90h0m1-113h0m0 95h0m0 40h0m1-235h0m0 18h0m0 1h0m0 35h0m0 6h0m0 55h0m0 58h0m0 33h0m1-172h0m0 26h0m0 15h0m0 27h0m0 74h0m0 22h0m0 21h0m0 16h0m1-202h0m0 29h0m0 18h0m0 121h0m0 18h0m1-161h0m0 33h0m0 35h0m0 101h0m1-246h0m0 75h0m0 165h0m1-246h0m0 119h0m0 146h0m1-142h0m0 15h0m0 119h0m1-195h0m0 50h0m0 69h0m0 10h0m0 12h0m0 40h0m0 23h0m1-268h0m0 10h0m0 37h0m0 6h0m0 4h0m0 22h0m0 86h0m0 79h0m0 32h0m1-193h0m0 143h0m0 9h0m0 21h0m1-222h0m0 17h0m0 17h0m0 40h0m0 86h0m0 26h0m0 39h0m1-260h0m0 57h0m0 111h0m0 9h0m0 61h0m1-139h0m0 36h0m0 71h0m1-207h0m0 109h0m0 48h0m1-95h0m0 28h0m0 42h0m0 90h0m0 1h0m1-152h0m0 16h0m0 3h0m0 127h0m0 50h0m1-262h0m0 99h0m0 26h0m0 7h0m0 21h0m0 18h0m1-122h0m0 28h0m0 13h0m0 134h0m0 16h0m0 20h0m1-267h0m0 51h0m0 8h0m0 91h0m0 69h0m1-186h0m0 35h0m0 22h0m0 46h0m0 65h0m0 91h0m1-252h0m0 47h0m0 37h0m0 23h0m0 9h0m0 27h0m0 7h0m0 61h0m0 31h0m1-255h0m0 56h0m0 49h0m0 90h0m0 20h0m0 38h0m0 3h0m1-275h0m0 118h0m0 20h0m0 43h0m0 69h0m0 29h0m1-284h0m0 75h0m0 28h0m0 5h0m0 18h0m0 40h0m1-53h0m1-64h0m0 67h0m0 166h0m1-271h0m0 10h0m0 12h0m0 60h0m0 117h0m0 14h0m1-163h0m0 78h0m0 21h0m0 62h0m0 54h0m1-260h0m0 41h0m0 3h0m0 69h0m0 10h0m0 9h0m0 4h0m0 33h0m0 39h0m0 23h0m0 29h0m1-263h0m0 25h0m0 92h0m0 6h0m0 5h0m0 32h0m0 33h0m0 28h0m0 9h0m1-178h0m0 206h0m1-250h0m0 12h0m0 10h0m0 125h0m0 1h0m0 7h0m1-167h0m0 1h0m0 46h0m0 10h0m0 36h0m0 7h0m0 24h0m0 47h0m0 22h0m1-179h0m0 15h0m0 11h0m0 76h0m0 25h0m0 1h0m1-89h0m0 66h0m0 34h0m0 5h0m0 18h0m0 33h0m0 49h0m1-258h0m0 54h0m0 139h0m1-188h0m0 77h0m0 61h0m0 27h0m0 24h0m0 28h0m1-179h0m0 9h0m0 9h0m0 4h0m0 43h0m0 61h0m0 60h0m0 19h0m1-230h0m0 32h0m0 12h0m0 4h0m0 22h0m0 16h0m0 25h0m0 37h0m0 29h0m0 56h0m0 4h0m0 15h0m1-149h0m0 23h0m0 2h0m0 110h0m1-221h0m0 32h0m0 17h0m0 32h0m0 13h0m0 3h0m0 36h0m1-144h0m0 33h0m0 128h0m0 4h0m0 20h0m0 55h0m1-263h0m0 72h0m0 41h0m0 30h0m0 44h0m0 12h0m0 22h0m1-212h0m0 84h0m0 13h0m0 37h0m0 31h0m1-184h0m0 30h0m0 3h0m0 4h0m0 94h0m0 141h0m1-203h0m0 6h0m0 7h0m0 5h0m0 23h0m0 37h0m0 3h0m0 29h0m0 3h0m1-162h0m0 11h0m0 55h0m0 112h0m0 74h0m1-218h0m0 7h0m0 23h0m0 72h0m0 30h0m0 45h0m0 8h0m1-204h0m0 21h0m0 117h0m1-145h0m0 39h0m0 6h0m0 7h0m0 19h0m0 25h0m0 55h0m0 13h0m0 33h0m0 24h0m0 3h0m1-219h0m0 11h0m0 12h0m0 112h0m0 10h0m0 66h0m0 39h0m0 4h0m0 1h0m1-276h0m0 7h0m0 23h0m0 16h0m0 24h0m0 113h0m0 37h0m0 52h0m1-183h0m0 1h0m0 10h0m0 56h0m0 68h0m0 2h0m1-186h0m0 15h0m0 21h0m0 59h0m0 4h0m0 86h0m1-219h0m0 127h0m0 33h0m0 16h0m0 6h0m0 56h0m1-193h0m0 18h0m0 32h0m0 125h0m0 67h0m1-266h0m0 34h0m0 29h0m0 13h0m0 27h0m0 69h0m1-150h0m0 2h0m0 18h0m0 7h0m0 41h0m0 61h0m0 72h0m0 16h0m1-262h0m0 21h0m0 77h0m0 31h0m0 28h0m0 23h0m0 9h0m0 57h0m0 25h0m0 2h0m1-186h0m0 104h0m1-207h0m0 67h0m0 34h0m0 108h0m0 3h0m1-55h0m0 37h0m0 39h0m0 4h0m0 61h0m1-145h0m0 107h0m0 4h0m0 2h0m0 11h0m0 11h0m0 12h0m1-191h0m0 6h0m0 25h0m0 121h0m1-246h0m0 54h0m0 30h0m0 6h0m0 197h0m1-257h0m0 10h0m0 12h0m0 4h0m0 35h0m0 20h0m0 43h0m0 69h0m0 46h0m1-219h0m0 10h0m0 2h0m0 19h0m0 14h0m0 11h0m0 6h0m0 37h0m0 57h0m1-195h0m0 81h0m0 99h0m0 23h0m0 23h0m1-227h0m0 24h0m0 46h0m0 30h0m0 42h0m0 23h0m0 31h0m0 8h0m1-212h0m0 82h0m0 15h0m0 14h0m0 22h0m0 9h0m0 86h0m0 10h0m1-211h0m0 130h0m0 8h0m0 93h0m0 1h0m1-261h0m0 34h0m0 19h0m0 4h0m0 38h0m0 6h0m0 58h0m0 60h0m0 26h0m1-176h0m0 107h0m0 3h0m0 41h0m1-168h0m0 97h0m0 9h0m0 75h0m0 8h0m0 9h0m0 28h0m1-83h0m0 12h0m0 59h0m1-270h0m0 22h0m0 8h0m0 16h0m0 14h0m0 19h0m0 34h0m0 10h0m0 12h0m0 78h0m0 20h0m0 1h0m0 14h0m0 51h0m1-292h0m0 39h0m0 117h0m0 3h0m0 50h0m0 3h0m0 5h0m0 35h0m0 39h0m1-247h0m0 21h0m0 178h0m0 40h0m1-273h0m0 1h0m0 22h0m0 9h0m0 161h0m0 70h0m1-287h0m0 50h0m0 70h0m0 46h0m0 24h0m0 37h0m0 2h0m1-194h0m0 86h0m0 30h0m0 2h0m0 17h0m0 70h0m0 33h0m1-191h0m0 93h0m0 9h0m0 92h0m1-236h0m0 1h0m0 15h0m0 18h0m0 32h0m0 24h0m1-89h0m0 14h0m0 108h0m0 141h0m0 14h0m1-298h0m0 7h0m0 1h0m0 34h0m0 101h0m1-127h0m0 1h0m0 39h0m0 12h0m0 1h0m0 22h0m0 20h0m0 74h0m0 20h0m0 7h0m1-206h0m0 25h0m0 3h0m0 147h0m0 2h0m0 78h0m1-201h0m0 84h0m0 25h0m0 80h0m1-255h0m0 51h0m0 2h0m0 10h0m0 129h0m0 24h0m0 10h0m0 35h0m1-233h0m0 148h0m0 34h0m0 84h0m1-277h0m0 95h0m0 154h0m0 10h0m0 3h0m1-216h0m0 12h0m0 16h0m0 42h0m0 41h0m0 21h0m0 38h0m0 24h0m0 22h0m1-224h0m0 10h0m0 10h0m0 62h0m0 6h0m0 33h0m0 94h0m0 1h0m1-10h0m0 5h0m0 2h0m0 10h0m1-283h0m0 110h0m0 50h0m0 12h0m0 4h0m0 16h0m0 92h0m1-295h0m0 51h0m0 56h0m0 42h0m0 6h0m0 64h0m0 67h0m1-186h0m0 33h0m0 1h0m0 49h0m0 3h0m0 29h0m1-170h0m0 30h0m0 1h0m0 4h0m0 4h0m0 73h0m0 55h0m0 20h0m0 59h0m0 28h0m1-302h0m0 3h0m0 14h0m0 95h0m0 95h0m0 20h0m1-193h0m0 42h0m0 31h0m0 85h0m0 6h0m0 4h0m0 13h0m0 39h0m1-217h0m0 174h0m0 6h0m0 3h0m0 34h0m1-66h0m0 12h0m0 51h0m1-245h0m0 14h0m0 41h0m0 3h0m0 10h0m0 17h0m0 8h0m0 8h0m0 181h0m0 1h0m1-191h0m0 56h0m1-100h0m1-18h0m0 11h0m0 4h0m0 38h0m0 2h0m0 33h0m0 14h0m0 49h0m0 13h0m0 45h0m0 61h0m1-309h0m0 83h0m0 132h0m0 54h0m0 1h0m1-186h0m0 190h0m0 19h0m0 15h0m1-232h0m0 3h0m0 99h0m0 49h0m0 10h0m1-230h0m0 73h0m0 47h0m0 63h0m0 32h0m0 1h0m0 21h0m1-151h0m0 111h0m0 12h0m0 32h0m0 16h0m0 16h0m1-194h0m0 24h0m0 80h0m0 28h0m0 15h0m0 38h0m1-236h0m0 18h0m0 34h0m0 90h0m0 1h0m0 78h0m0 48h0m1-267h0m0 81h0m0 96h0m0 39h0m1-176h0m0 10h0m0 9h0m0 20h0m0 44h0m0 22h0m0 15h0m0 25h0m0 59h0m1-235h0m0 1h0m0 22h0m0 36h0m0 29h0m0 37h0m0 41h0m0 42h0m0 15h0m0 26h0m1-265h0m0 7h0m0 4h0m0 53h0m0 22h0m0 10h0m0 26h0m0 22h0m0 9h0m0 36h0m0 86h0m1-266h0m0 56h0m0 8h0m0 56h0m0 4h0m0 1h0m0 68h0m0 58h0m1-269h0m0 19h0m0 40h0m0 113h0m0 80h0m1-252h0m0 20h0m0 59h0m0 2h0m0 34h0m0 4h0m0 71h0m0 1h0m0 10h0m1-191h0m0 65h0m0 144h0m1-159h0m0 25h0m0 8h0m0 21h0m0 2h0m1-120h0m0 30h0m0 5h0m0 8h0m0 56h0m0 23h0m0 79h0m0 22h0m1-128h0m0 11h0m0 8h0m0 26h0m0 5h0m0 11h0m0 5h0m0 9h0m0 46h0m0 51h0m1-266h0m0 179h0m1-176h0m0 14h0m0 14h0m0 82h0m0 22h0m0 94h0m0 26h0m0 11h0m1-228h0m0 14h0m0 10h0m0 6h0m0 53h0m0 53h0m0 88h0m0 14h0m1-212h0m0 44h0m0 41h0m0 11h0m0 40h0m0 32h0m0 16h0m1-209h0m0 37h0m0 57h0m0 75h0m0 22h0m0 7h0m1-230h0m0 46h0m0 25h0m0 21h0m0 53h0m0 44h0m0 48h0m1-134h0m0 13h0m0 67h0m0 65h0m1-215h0m0 60h0m0 25h0m0 22h0m0 5h0m0 17h0m1-144h0m0 19h0m0 69h0m0 24h0m0 31h0m0 93h0m1-214h0m0 5h0m0 10h0m0 1h0m0 35h0m0 64h0m0 76h0m0 8h0m1-174h0m0 11h0m0 4h0m0 34h0m0 45h0m0 30h0m0 34h0m0 1h0m0 4h0m1-166h0m0 103h0m1-146h0m0 2h0m0 33h0m0 1h0m0 82h0m0 1h0m0 25h0m0 21h0m0 56h0m1-148h0m0 26h0m0 33h0m0 4h0m0 67h0m1-195h0m0 9h0m0 4h0m0 119h0m0 5h0m0 60h0m1-217h0m0 25h0m0 85h0m0 20h0m0 16h0m0 47h0m0 49h0m1-133h0m0 76h0m0 15h0m1-150h0m0 16h0m0 3h0m0 30h0m0 19h0m0 2h0m0 43h0m1-139h0m0 24h0m0 4h0m0 18h0m0 30h0m0 27h0m0 71h0m0 17h0m0 1h0m0 29h0m1-182h0m0 59h0m0 11h0m0 38h0m1-97h0m0 9h0m0 50h0m0 12h0m0 12h0m0 4h0m0 14h0m1-159h0m0 130h0m0 2h0m0 70h0m0 50h0m1-135h0m0 11h0m1-116h0m0 12h0m0 78h0m0 18h0m0 4h0m0 57h0m0 4h0m0 18h0m0 22h0m1-218h0m0 52h0m0 22h0m0 7h0m0 140h0m1-233h0m0 116h0m0 31h0m0 14h0m0 2h0m1-120h0m0 9h0m0 9h0m0 79h0m0 62h0m0 22h0m1-201h0m0 100h0m0 53h0m0 2h0m0 18h0m1-173h0m0 94h0m1-106h0m0 2h0m0 135h0m0 21h0m0 28h0m0 14h0m0 7h0m1-100h0m0 43h0m0 8h0m0 71h0m1-223h0m0 37h0m0 67h0m1-108h0m0 47h0m0 18h0m0 44h0m0 65h0m0 48h0m1-136h0m0 5h0m0 1h0m0 123h0m1-188h0m0 19h0m0 50h0m0 97h0m1-195h0m0 30h0m0 38h0m0 61h0m0 22h0m0 57h0m1-183h0m0 16h0m0 14h0m0 45h0m0 69h0m0 37h0m1-146h0m0 3h0m0 39h0m0 9h0m0 3h0m0 2h0m0 84h0m1-157h0m0 54h0m0 7h0m0 40h0m0 23h0m0 9h0m1-138h0m0 6h0m0 6h0m0 1h0m0 23h0m0 24h0m0 101h0m0 1h0m1-161h0m0 18h0m0 18h0m1-58h0m0 115h0m1-135h0m0 59h0m0 17h0m0 17h0m0 20h0m0 31h0m0 15h0m0 6h0m0 30h0m1-184h0m0 108h0m0 39h0m0 19h0m1-163h0m0 146h0m1-115h0m0 77h0m0 17h0m0 65h0m1-113h0m0 17h0m0 61h0m1-145h0m0 2h0m0 27h0m0 58h0m0 23h0m0 58h0m2-153h0m0 74h0m0 7h0m0 61h0m0 2h0m1-165h0m0 21h0m0 15h0m0 114h0m0 7h0m1-123h0m0 16h0m0 80h0m0 3h0m0 5h0m0 2h0m1-65h0m0 70h0m0 14h0m1-87h0m0 19h0m1-81h0m0 1h0m0 30h0m0 26h0m0 15h0m0 24h0m0 39h0m1-95h0m0 6h0m0 23h0m0 29h0m0 44h0m1-116h0m0 17h0m0 11h0m0 48h0m0 48h0m1-172h0m0 33h0m0 21h0m0 51h0m0 4h0m0 3h0m0 49h0m1-92h0m0 41h0m0 8h0m0 36h0m1-98h0m0 28h0m0 13h0m0 20h0m0 13h0m0 61h0m1-129h0m0 21h0m0 45h0m2 12h0m0 10h0m1-70h0m1-63h0m0 27h0m0 5h0m0 44h0m0 62h0m0 12h0m1-141h0m0 29h0m0 7h0m1 10h0m0 47h0m1-76h0m0 19h0m0 16h0m1-8h0m1-39h0m0 67h0m1-36h0m0 46h0m0 17h0m1-74h0m0 17h0m0 10h0m0 5h0m0 51h0m0 6h0m0 20h0m1-26h0m1-92h0m0 23h0m0 71h0m1 4h0m0 9h0m0 6h0m1-81h0m0 35h0m1 2h0m1-73h0m0 59h0m0 2h0m0 52h0m1-97h0m0 78h0m0 25h0m1-54h0m2-34h0m0 57h0m0 1h0m1-73h0m1 35h0m0 46h0m0 11h0m1-65h0m0 13h0m0 45h0m0 13h0m1-79h0m0 26h0m0 13h0m0 8h0m0 2h0m0 3h0m1 10h0m0 3h0m1-72h0m0 49h0m0 2h0m2 27h0m1-26h0m0 7h0m1-30h0m0 8h0m0 33h0m1-65h0m0 38h0m0 2h0m0 7h0m0 47h0m1-41h0m0 14h0m3-32h0m0 28h0m2-12h0m1-30h0m1-23h0m0 29h0m1-28h0m0 21h0m0 30h0m1-21h0m0 17h0m1-23h0m0 3h0m0 27h0m1 4h0m3-61h0m1 16h0m0 4h0m0 52h0m4-52h0m6 38h0" stroke="#D973F5" stroke-width="8.2" stroke-linecap="round" fill="none"/>
<path transform="translate(875 405) scale(0.2)" d="M482 374h0m5-1h0m1 4h0m2 35h0m2-55h0m1-2h0m0 27h0m10 6h0m1 19h0m1-49h0m1 11h0m1-2h0m0 36h0m1-3h0m7-45h0m2 54h0m1-28h0m1 1h0m2 25h0m2-32h0m1 27h0m5-54h0m0 28h0m1-12h0m2 16h0m1-25h0m0 18h0m0 8h0m2-2h0m2-9h0m1 19h0m0 16h0m1-55h0m1 16h0m0 36h0m2-17h0m0 1h0m1-29h0m0 6h0m0 8h0m2 35h0m0 4h0m2-25h0m2-5h0m0 7h0m1 28h0m1-19h0m2-49h0m0 58h0m1-11h0m1-2h0m1-8h0m2-22h0m2 45h0m1-22h0m1-29h0m0 44h0m1-37h0m3 24h0m8-7h0m0 39h0m0 6h0m2-2h0m3-46h0m0 38h0m1-27h0m4 8h0m6-15h0m4 18h0" stroke="#D973F5" stroke-width="8.2" stroke-linecap="round" fill="none"/>
<path transform="translate(875 405) scale(0.2)" d="M621 369h0m1-1h0m0 8h0m7-7h0m0 2h0m1-4h0m3 25h0m7-6h0m2-17h0m1 17h0m2-21h0m1 35h0m13-1h0m0 5h0m4-16h0m0 1h0m10 11h0m1-8h0m3 15h0m8-9h0m5 13h0m2 1h0m2-24h0m5 31h0m2-4h0m1 7h0m5 5h0m3 2h0m3-3h0m1 6h0" stroke="#D973F5" stroke-width="8.2" stroke-linecap="round" fill="none"/>
<path transform="translate(875 405) scale(0.2)" d="M730 496h0m8-63h0m0 8h0m2-1h0m0 51h0m0 57h0m1-102h0m0 36h0m0 16h0m1-50h0m1 23h0m1-77h0m0 63h0m0 26h0m0 16h0m1-11h0m1-83h0m0 39h0m0 7h0m1-29h0m0 87h0m0 3h0m1-99h0m1 25h0m0 70h0m1-109h0m0 37h0m0 16h0m0 4h0m0 22h0m0 51h0m0 21h0m1-112h0m0 1h0m0 19h0m0 35h0m0 15h0m0 1h0m0 52h0m1-142h0m0 4h0m0 4h0m0 87h0m0 7h0m0 37h0m1-186h0m0 50h0m0 5h0m0 83h0m0 19h0m1-136h0m0 76h0m0 82h0m1-60h0m0 24h0m0 19h0m1-47h0m0 23h0m0 22h0m1-93h0m0 42h0m0 41h0m0 15h0m1-95h0m0 67h0m1-79h0m0 55h0m0 50h0m1-134h0m0 9h0m0 115h0m0 7h0m0 9h0m1-168h0m0 3h0m0 90h0m0 18h0m0 39h0m0 21h0m1-171h0m0 18h0m0 22h0m0 3h0m0 34h0m0 10h0m0 55h0m1-90h0m0 87h0m0 20h0m1-113h0m0 55h0m0 7h0m0 19h0m0 12h0m0 4h0m0 15h0m0 1h0m1-121h0m0 25h0m0 46h0m0 79h0m1-195h0m0 11h0m0 16h0m0 124h0m1-129h0m0 8h0m0 99h0m1-118h0m0 9h0m0 45h0m0 101h0m0 26h0m1-182h0m0 20h0m0 6h0m0 48h0m0 60h0m1-152h0m0 43h0m0 12h0m0 84h0m0 19h0m0 15h0m0 36h0m0 29h0m1-270h0m0 16h0m0 4h0m0 61h0m0 40h0m0 10h0m0 64h0m0 14h0m0 10h0m1-199h0m0 91h0m0 55h0m0 13h0m0 20h0m0 42h0m1-178h0m0 59h0m0 58h0m0 15h0m0 25h0m0 21h0m1-191h0m0 20h0m0 90h0m0 17h0m0 26h0m0 47h0m1-228h0m0 32h0m0 40h0m0 42h0m0 46h0m0 18h0m0 5h0m0 13h0m1-136h0m0 42h0m0 10h0m0 19h0m1-101h0m0 148h0m0 46h0m1-211h0m0 2h0m0 47h0m0 20h0m0 4h0m0 91h0m0 37h0m0 11h0m1-205h0m0 2h0m0 134h0m0 41h0m1-161h0m0 61h0m0 49h0m0 3h0m0 7h0m0 8h0m0 9h0m0 21h0m1-153h0m0 1h0m0 3h0m0 1h0m0 4h0m0 96h0m0 18h0m0 20h0m0 3h0m0 22h0m1-208h0m0 36h0m0 32h0m0 39h0m0 32h0m0 18h0m0 38h0m0 17h0m1-240h0m0 10h0m0 35h0m0 17h0m0 19h0m0 5h0m0 34h0m0 78h0m0 20h0m1-159h0m0 48h0m0 18h0m0 59h0m0 23h0m0 17h0m1-199h0m0 34h0m0 84h0m0 36h0m0 54h0m0 4h0m0 3h0m1-251h0m0 14h0m0 100h0m0 61h0m0 84h0m1-227h0m0 42h0m0 19h0m0 23h0m0 19h0m0 6h0m0 102h0m0 4h0m0 14h0m1-216h0m0 100h0m0 39h0m0 42h0m1-142h0m0 73h0m0 30h0m1-139h0m0 4h0m0 13h0m0 196h0m1-205h0m0 21h0m0 1h0m0 24h0m0 10h0m0 18h0m0 29h0m0 51h0m0 48h0m1-168h0m0 29h0m0 15h0m0 38h0m0 51h0m1-184h0m0 14h0m0 7h0m0 34h0m0 10h0m0 12h0m0 51h0m1-140h0m0 36h0m0 112h0m0 39h0m1-149h0m0 8h0m0 6h0m0 10h0m0 20h0m0 27h0m0 59h0m1-166h0m0 21h0m0 29h0m0 8h0m0 19h0m0 41h0m0 78h0m0 22h0m0 3h0m0 4h0m0 4h0m0 22h0m1-245h0m0 72h0m0 20h0m0 21h0m0 15h0m0 35h0m0 36h0m0 29h0m0 2h0m1-256h0m0 34h0m0 30h0m0 23h0m0 62h0m0 18h0m0 15h0m0 59h0m1-193h0m0 19h0m0 2h0m0 18h0m0 41h0m0 41h0m0 25h0m1-186h0m0 30h0m0 85h0m0 31h0m0 27h0m0 81h0m1-277h0m0 40h0m0 49h0m0 26h0m0 75h0m0 45h0m0 29h0m0 9h0m1-251h0m0 37h0m0 25h0m0 34h0m0 72h0m0 21h0m1-212h0m0 56h0m0 27h0m0 23h0m0 20h0m0 2h0m0 59h0m1-169h0m0 9h0m0 108h0m0 57h0m0 1h0m0 9h0m0 18h0m0 2h0m1-230h0m0 57h0m0 51h0m0 35h0m0 28h0m0 41h0m0 41h0m0 36h0m1-296h0m0 71h0m0 13h0m0 69h0m0 1h0m0 16h0m0 54h0m0 52h0m1-204h0m0 1h0m0 122h0m0 45h0m1-226h0m0 3h0m0 2h0m0 12h0m0 19h0m0 23h0m0 16h0m0 6h0m0 10h0m0 43h0m0 15h0m0 27h0m0 24h0m0 25h0m0 32h0m1-211h0m0 52h0m0 2h0m0 11h0m0 154h0m0 8h0m1-300h0m0 137h0m0 26h0m0 54h0m0 10h0m0 8h0m0 36h0m0 2h0m1-256h0m0 1h0m0 1h0m0 12h0m0 12h0m0 55h0m0 20h0m0 3h0m0 59h0m0 22h0m0 74h0m1-269h0m0 12h0m0 81h0m0 24h0m0 75h0m0 14h0m0 2h0m0 67h0m1-264h0m0 58h0m0 135h0m0 38h0m0 25h0m0 14h0m1-249h0m0 24h0m0 5h0m0 18h0m0 2h0m0 19h0m0 108h0m0 15h0m0 7h0m0 73h0m1-286h0m0 21h0m0 16h0m0 74h0m0 7h0m0 31h0m0 21h0m0 27h0m0 12h0m0 12h0m1-180h0m0 30h0m0 39h0m0 3h0m0 7h0m0 123h0m0 10h0m1-214h0m0 13h0m0 18h0m0 12h0m0 4h0m0 38h0m0 36h0m0 11h0m0 19h0m0 79h0m1-286h0m0 75h0m0 33h0m0 71h0m0 51h0m0 8h0m0 14h0m1-245h0m0 76h0m0 5h0m0 92h0m0 2h0m0 44h0m1-212h0m0 113h0m0 52h0m0 6h0m1-171h0m0 12h0m0 12h0m0 61h0m0 42h0m0 16h0m0 71h0m0 32h0m0 1h0m0 33h0m1-298h0m0 53h0m0 65h0m0 49h0m0 15h0m0 15h0m0 12h0m0 58h0m1-197h0m0 25h0m0 47h0m0 26h0m0 42h0m0 15h0m0 48h0m1-254h0m0 35h0m0 25h0m0 20h0m0 15h0m0 63h0m0 43h0m1-203h0m0 7h0m0 82h0m0 30h0m0 41h0m0 6h0m0 55h0m0 57h0m1-269h0m0 34h0m0 8h0m0 32h0m0 20h0m0 46h0m0 8h0m0 19h0m0 1h0m0 31h0m0 60h0m1-255h0m0 43h0m0 17h0m0 37h0m0 3h0m0 80h0m0 4h0m0 25h0m0 63h0m1-266h0m0 2h0m0 5h0m0 23h0m0 5h0m1-1h0m0 54h0m0 1h0m0 66h0m0 15h0m0 9h0m0 41h0m0 1h0m0 10h0m0 34h0m1-281h0m0 18h0m0 6h0m0 19h0m0 32h0m0 58h0m0 32h0m0 45h0m0 51h0m1-244h0m0 10h0m0 113h0m0 16h0m0 24h0m0 51h0m1-200h0m0 24h0m0 13h0m0 20h0m0 12h0m0 9h0m0 35h0m0 35h0m0 31h0m0 38h0m0 2h0m0 24h0m0 3h0m1-216h0m0 57h0m0 11h0m0 19h0m0 31h0m0 2h0m0 12h0m0 5h0m0 14h0m0 11h0m0 5h0m0 19h0m1-228h0m0 42h0m0 105h0m0 82h0m0 12h0m1-239h0m0 49h0m0 49h0m0 21h0m0 20h0m0 67h0m0 15h0m1-172h0m0 2h0m0 13h0m0 9h0m0 28h0m0 3h0m0 64h0m0 42h0m0 16h0m0 5h0m1-260h0m0 9h0m0 4h0m0 14h0m0 11h0m0 4h0m0 31h0m0 30h0m0 53h0m0 13h0m0 63h0m1-212h0m0 44h0m0 9h0m0 124h0m0 20h0m0 19h0m1-230h0m0 95h0m0 24h0m0 47h0m0 18h0m0 31h0m0 6h0m0 18h0m1-241h0m0 4h0m0 4h0m0 6h0m0 1h0m0 5h0m0 24h0m0 53h0m0 3h0m0 37h0m0 35h0m0 5h0m0 31h0m0 14h0m0 11h0m0 22h0m1-246h0m0 10h0m0 57h0m0 4h0m0 56h0m0 6h0m0 42h0m0 8h0m0 33h0m0 32h0m1-265h0m0 20h0m0 2h0m0 19h0m0 44h0m0 36h0m0 16h0m0 7h0m0 17h0m0 40h0m0 19h0m1-213h0m0 46h0m0 18h0m0 85h0m1-37h0m0 12h0m0 1h0m1-93h0m0 1h0m0 17h0m0 82h0m0 38h0m0 17h0m0 19h0m0 29h0m0 8h0m0 10h0m1-233h0m0 7h0m0 34h0m0 76h0m0 18h0m0 11h0m0 3h0m0 56h0m1-186h0m0 23h0m0 40h0m0 22h0m0 95h0m1-159h0m0 8h0m0 23h0m0 49h0m0 48h0m1-178h0m0 45h0m0 8h0m0 88h0m0 2h0m0 17h0m0 37h0m0 16h0m0 14h0m1-57h0m0 45h0m0 4h0m1-215h0m0 15h0m0 33h0m0 34h0m0 23h0m0 26h0m0 43h0m0 24h0m0 2h0m1-113h0m0 72h0m1-100h0m0 82h0m0 42h0m1-185h0m0 15h0m0 31h0m0 16h0m0 6h0m0 3h0m0 67h0m0 5h0m0 74h0m1-196h0m0 145h0m1-93h0m0 103h0m0 20h0m0 14h0m1-195h0m0 56h0m0 28h0m0 58h0m1-162h0m0 67h0m0 28h0m0 47h0m1-135h0m0 22h0m0 151h0m0 29h0m1-208h0m0 26h0m0 25h0m0 20h0m0 35h0m0 28h0m0 38h0m1-160h0m0 48h0m0 4h0m0 12h0m1 43h0m0 27h0m1-136h0m0 5h0m0 13h0m0 1h0m0 36h0m0 50h0m0 51h0m1-151h0m0 15h0m0 4h0m0 42h0m0 4h0m0 7h0m1-92h0m0 49h0m0 86h0m0 4h0m0 8h0m1-105h0m0 15h0m1-18h0m0 87h0m0 5h0m1-83h0m0 29h0m0 45h0m1-105h0m0 11h0m2 55h0m0 4h0m1-82h0m0 67h0m0 3h0m0 5h0m0 25h0m0 1h0m0 3h0m1-52h0m0 12h0m0 14h0m0 5h0m1-17h0m1-26h0m0 8h0m0 6h0m0 2h0m1 14h0m0 15h0m1-57h0m0 50h0m1-58h0m1 20h0m0 16h0m2-35h0m0 52h0m0 21h0m1 7h0m3-35h0" stroke="#F27D7A" stroke-width="8.2" stroke-linecap="round" fill="none"/>
<path transform="translate(875 405) scale(0.2)" d="M570 529h0m8-122h0m0 2h0m0 26h0m4-9h0m0 96h0m2 24h0m0 20h0m1-13h0m2-133h0m0 24h0m5 82h0m1-39h0m0 62h0m0 27h0m1-128h0m0 24h0m0 69h0m1-133h0m0 29h0m0 77h0m1 20h0m2-104h0m0 69h0m1 12h0m2-1h0m0 15h0m0 33h0m1-27h0m0 1h0m1-94h0m0 66h0m0 72h0m1-124h0m3-40h0m0 110h0m1-87h0m1-20h0m0 109h0m0 26h0m2-62h0m1-85h0m0 14h0m0 17h0m0 22h0m0 3h0m1-23h0m0 25h0m1 42h0m0 24h0m1-118h0m0 24h0m2-2h0m0 26h0m2-12h0m0 15h0m1-15h0m0 62h0m1-50h0m2 35h0m0 19h0m1-55h0m1-50h0m1 112h0m1-112h0m0 39h0m0 64h0m2-105h0m0 8h0m0 10h0m1 40h0m0 9h0m0 11h0m0 6h0m1-16h0m0 12h0m1-12h0m1-10h0m1-31h0m0 3h0m0 62h0m1-24h0m3-68h0m0 41h0m1-46h0m0 14h0m1 4h0m1 22h0m0 42h0m1 11h0m1-77h0m0 68h0m3-71h0m1 5h0m0 1h0m0 3h0m0 45h0m0 21h0m3-48h0m0 3h0m1-23h0m0 25h0m1 5h0m1-6h0m1 33h0m0 2h0m1-75h0m4 26h0m0 41h0m1-49h0m2 7h0m0 64h0m3-17h0m1-51h0m0 42h0m1 32h0m3-86h0m2 64h0m1 30h0m1-53h0m1-14h0m3 6h0m0 16h0m2-17h0m1-30h0m0 42h0m0 16h0m0 34h0m1-81h0m3 55h0m1-73h0m0 15h0m0 14h0m0 46h0m2-10h0m1-27h0m2 4h0m0 30h0m1-44h0m1 9h0m0 51h0m0 27h0m1 15h0m1-104h0m0 49h0m4-38h0m0 27h0m2 75h0m1-77h0m1-22h0m0 5h0m1 41h0m0 21h0m1-86h0m0 30h0m1 1h0m0 2h0m0 52h0m1-64h0m0 8h0m0 46h0m0 1h0m0 9h0m1-35h0m0 5h0m1-67h0m0 120h0m1-29h0m0 5h0m1-45h0m0 97h0m1-51h0m0 26h0m1-44h0m1-70h0m0 52h0m0 5h0m1 52h0m1-42h0m0 36h0m0 32h0m1-76h0m1 75h0m1-20h0m1-45h0m2 34h0m2-62h0m0 81h0m2-34h0m1-11h0m0 26h0m1-39h0m0 21h0m0 67h0m0 1h0m1-146h0m0 1h0m0 13h0m0 73h0m0 5h0m0 9h0m2-102h0m0 28h0m0 67h0m1-91h0m0 70h0m1-63h0m0 75h0m0 49h0m0 4h0m1-74h0m0 65h0m1-128h0m0 2h0m2-11h0m1 16h0m0 74h0m0 26h0m3 17h0m2-100h0m0 89h0m1 17h0m1-14h0m3 2h0m3-50h0m2 29h0m0 21h0m1-1h0m10 15h0" stroke="#F27D7A" stroke-width="8.2" stroke-linecap="round" fill="none"/>
<path transform="translate(875 405) scale(0.2)" d="M350 178h0m2-9h0m3-3h0m1-7h0m1 35h0m1-44h0m2 20h0m2 33h0m1-21h0m0 13h0m0 5h0m2-63h0m0 58h0m0 9h0m1-73h0m0 5h0m0 31h0m0 27h0m1-44h0m0 18h0m0 18h0m1-30h0m0 1h0m1-14h0m0 7h0m0 8h0m0 30h0m0 10h0m1-44h0m0 20h0m1-48h0m0 6h0m0 53h0m1-9h0m1-19h0m0 5h0m0 14h0m0 4h0m1-33h0m0 29h0m1 26h0m1-67h0m0 4h0m0 1h0m0 3h0m0 3h0m1-9h0m0 7h0m0 55h0m1-40h0m0 35h0m0 3h0m1-41h0m0 8h0m0 1h0m1-19h0m0 5h0m0 4h0m0 48h0m1-67h0m0 46h0m0 23h0m1-64h0m0 17h0m0 16h0m1-46h0m0 8h0m0 5h0m0 19h0m0 19h0m1-19h0m0 41h0m0 1h0m1-43h0m0 39h0m1-32h0m0 6h0m0 2h0m1-26h0m0 56h0m1-62h0m0 44h0m0 6h0m1-59h0m0 9h0m0 18h0m0 10h0m0 4h0m0 2h0m0 9h0m0 26h0m1-51h0m1-18h0m0 27h0m1 22h0m0 11h0m1 15h0m1-65h0m0 10h0m0 1h0m0 15h0m1 28h0m1-70h0m0 31h0m0 15h0m0 1h0m0 13h0m0 8h0m1-33h0m1-18h0m0 2h0m0 7h0m0 24h0m1-22h0m1 27h0m0 5h0m1-70h0m0 61h0m0 10h0m1-25h0m1-38h0m1 38h0m0 29h0m1-75h0m0 2h0m0 3h0m0 26h0m0 14h0m0 38h0m1-37h0m0 12h0m1-45h0m0 69h0m1-63h0m0 52h0m1-49h0m1-7h0m1 13h0m0 13h0m0 17h0m0 16h0m1-64h0m0 8h0m0 50h0m1-69h0m0 36h0m0 30h0m0 15h0m2-86h0m0 46h0m0 12h0m0 18h0m1-15h0m0 1h0m0 7h0m1-58h0m0 2h0m0 34h0m1-45h0m0 40h0m0 21h0m0 12h0m2 0h0m1-47h0m0 27h0m3-18h0m1-12h0m0 14h0m0 13h0m1-26h0m0 14h0m0 12h0m0 8h0m0 15h0m0 4h0m0 4h0m1-66h0m1 0h0m0 24h0m0 1h0m1-21h0m0 8h0m0 6h0m0 33h0m1-8h0m1-30h0m0 46h0m1-12h0m0 8h0m1-42h0m0 26h0m0 5h0m0 5h0m1-45h0m0 14h0m0 21h0m1-16h0m0 6h0m3-14h0m0 28h0m1-5h0m1-42h0m0 45h0m1-10h0m1-10h0m0 2h0m0 25h0" stroke="#1FBF8F" stroke-width="8.2" stroke-linecap="round" fill="none"/>
<path transform="translate(875 405) scale(0.2)" d="M430 156h0m2-2h0m1 9h0m4-12h0m3 1h0m5-7h0m2 1h0m3 1h0m0 2h0m1 10h0m4-16h0m0 10h0m2-6h0m1 5h0m1-8h0m2 4h0m4-7h0m3-1h0m0 4h0m1 0h0m1 4h0m0 2h0m1-14h0m4 7h0m3-9h0m2-1h0m1 1h0m4 6h0m1-13h0m4 12h0m0 7h0m2-5h0m3-17h0m3 4h0m0 2h0m3 2h0m4-4h0m0 7h0m1 0h0m1 2h0m1-15h0m4-2h0m6 2h0m8-8h0m5 13h0" stroke="#1FBF8F" stroke-width="8.2" stroke-linecap="round" fill="none"/>
<path transform="translate(875 405) scale(0.2)" d="M171 482h0m0 27h0m5-13h0m0 11h0m5-7h0m0 10h0m3-12h0m2-2h0m2-4h0m1-17h0m0 17h0m1-11h0m0 17h0m0 27h0m2-56h0m1 2h0m1 23h0m1 3h0m1-25h0m0 4h0m2 14h0m0 1h0m2 8h0m1-7h0m2-19h0m0 14h0m1-7h0m0 16h0m2-37h0m0 58h0m2-44h0m1-11h0m0 3h0m0 22h0m2-34h0m1 7h0m1 2h0m1 26h0m3-43h0m0 19h0m2-4h0m3 9h0m2 3h0m3-36h0m1-6h0m1 20h0m0 7h0m0 5h0m0 8h0m1-29h0m3 0h0m1 6h0m1 19h0m0 8h0m1-36h0m1 14h0m1 0h0m1-18h0m1 6h0m0 10h0m0 18h0m2-33h0m3 1h0m0 8h0m1-11h0m0 2h0m0 16h0m0 1h0m2-29h0m0 22h0m0 6h0m1-17h0m0 40h0m1-59h0m1-15h0m0 37h0m1-32h0m0 40h0m3-11h0m1-35h0m0 17h0m0 9h0m2-3h0m0 6h0m2-35h0m0 56h0m1-8h0m1-40h0m0 16h0m0 9h0m0 6h0m1-39h0m0 32h0m1 9h0m1-16h0m1-3h0m2 25h0m1-49h0m0 33h0m1-17h0m0 6h0m0 8h0m0 2h0m0 1h0m0 5h0m1-30h0m2 11h0m1 22h0m1-21h0m1-9h0m1 12h0m1-15h0m0 13h0m1-36h0m0 29h0m0 13h0m1-27h0m2 3h0m4-1h0m5-11h0m0 13h0m0 6h0m3-31h0m0 14h0m0 7h0m4 3h0m4-17h0m0 23h0m1-30h0m4 14h0m1-6h0m1 16h0m1-31h0m1-24h0m7 19h0m0 4h0m2 7h0m7-22h0m1-2h0m0 9h0m1 11h0m1-20h0m2 15h0m1-6h0m1-13h0m1 7h0m1 1h0m1-8h0m1 31h0m1-17h0m1-12h0m2-3h0m0 3h0m0 2h0m0 22h0m2-30h0m1-4h0m0 30h0m3-44h0m0 22h0m1-3h0m2-2h0m0 5h0m0 4h0m1-1h0m3-20h0m2 21h0m1 13h0m1-20h0m1-30h0m0 35h0m0 10h0m1-31h0m0 20h0m1-5h0m9-6h0m3-10h0m1 7h0m1-3h0m1-4h0m0 12h0m2-7h0m0 14h0m3-24h0m3 4h0m0 6h0m3-16h0m3 25h0m1-6h0m3-26h0m2 11h0m0 23h0m2-24h0m3-1h0m1 18h0m1-16h0m2 20h0m1-20h0m0 11h0m7-22h0m4-16h0m0 22h0m1 10h0m0 3h0m0 6h0m2-7h0m2-13h0m5 3h0m2-6h0m0 12h0m2-7h0m1 12h0m1-25h0m2 3h0m3-3h0m1 6h0m0 8h0m2-16h0m1 2h0m2-7h0m3-15h0m1 6h0m3 3h0m0 15h0m1-18h0m1 4h0m1 10h0m1-5h0m1-12h0m1 6h0m0 10h0m2-13h0m3-1h0m1 19h0m5-24h0m2-11h0m10 13h0m1-8h0m2 8h0m0 3h0m1-17h0m2 22h0m3-26h0m0 12h0m2-16h0m5-1h0m1 25h0m1-61h0m0 41h0m2-17h0m1 4h0m0 12h0m1-2h0m1-6h0m1-5h0m1-4h0m1-11h0m0 44h0m1-31h0m1-20h0m0 26h0m1-20h0m1 25h0m1-8h0m0 19h0m1-9h0m1-5h0m1-30h0m0 3h0m0 8h0m0 31h0m1-64h0m0 3h0m0 35h0m1 8h0m1-14h0m0 14h0m1-36h0m0 9h0m3 11h0m1-5h0m1-8h0m1-7h0m2-10h0m0 19h0m1-15h0m2 3h0m0 17h0m0 2h0m0 3h0m0 7h0m2-22h0m1-4h0m6-19h0m0 28h0m4-16h0" stroke="#A58AFF" stroke-width="8.2" stroke-linecap="round" fill="none"/>
<path transform="translate(875 405) scale(0.2)" d="M324 397h0m9-16h0m9 13h0m3-3h0m3 21h0m3-16h0m2-11h0m11 1h0m0 19h0m3 9h0m4-46h0m5 28h0m4-5h0m5 8h0m0 9h0m2-24h0m5 7h0m0 11h0m4-14h0m1-22h0m0 5h0m0 15h0m1 7h0m1-5h0m2-8h0m2-8h0m1-3h0m0 3h0m3 46h0m1-46h0m1 0h0m1 18h0m1-14h0m1-31h0m2 42h0" stroke="#A58AFF" stroke-width="8.2" stroke-linecap="round" fill="none"/>
<path transform="translate(875 405) scale(0.2)" d="M271 532h0m3-5h0m3 10h0m2 31h0m2-10h0m1-16h0m2-2h0m1 3h0m1 1h0m0 3h0m0 1h0m1-2h0m3 1h0m1 3h0m1-2h0m6 8h0" stroke="#A58AFF" stroke-width="8.2" stroke-linecap="round" fill="none"/>
<path transform="translate(875 405) scale(0.2)" d="M48 708h0m1-14h0m2-6h0m4-28h0m0 59h0m1-33h0m0 36h0m2-65h0m0 10h0m0 6h0m0 26h0m2-25h0m1 18h0m0 29h0m0 43h0m1-53h0m1-35h0m0 80h0m3-94h0m0 16h0m0 34h0m1-29h0m0 52h0m0 8h0m1-111h0m0 5h0m0 14h0m1 37h0m0 12h0m0 2h0m0 40h0m0 8h0m1-126h0m0 81h0m1-73h0m0 40h0m0 44h0m0 50h0m1-155h0m0 31h0m0 128h0m1-125h0m1-12h0m0 48h0m0 70h0m1-116h0m0 22h0m0 14h0m0 33h0m1-70h0m0 63h0m1-59h0m0 72h0m0 19h0m0 7h0m0 6h0m1-83h0m0 64h0m1 62h0m1-180h0m0 28h0m0 93h0m0 13h0m1-103h0m0 22h0m0 65h0m0 1h0m0 29h0m0 11h0m2-93h0m0 9h0m0 12h0m1-56h0m0 32h0m0 13h0m0 22h0m0 33h0m0 33h0m1-69h0m0 8h0m0 64h0m0 25h0m1-126h0m0 92h0m0 12h0m1-111h0m0 19h0m0 82h0m1-77h0m0 10h0m0 95h0m1-137h0m0 7h0m0 73h0m0 39h0m1-106h0m0 20h0m0 90h0m0 12h0m1-179h0m0 26h0m0 15h0m0 13h0m0 2h0m0 63h0m1-80h0m0 9h0m0 64h0m0 5h0m0 5h0m0 12h0m0 7h0m0 20h0m0 25h0m1-171h0m0 25h0m0 43h0m0 35h0m0 27h0m0 19h0m1-171h0m0 137h0m0 1h0m0 38h0m0 1h0m0 1h0m1-107h0m1-4h0m0 6h0m0 15h0m0 64h0m0 45h0m1-97h0m0 2h0m0 20h0m0 15h0m0 25h0m0 19h0m0 8h0m1-79h0m0 42h0m1-78h0m0 12h0m0 35h0m0 5h0m0 28h0m1-123h0m0 35h0m0 11h0m0 12h0m0 12h0m0 36h0m0 11h0m0 2h0m0 6h0m1-119h0m0 40h0m0 49h0m1-120h0m0 15h0m0 55h0m0 8h0m0 58h0m0 2h0m0 23h0m0 17h0m1-147h0m0 19h0m0 136h0m1-133h0m0 8h0m0 22h0m0 11h0m0 29h0m0 30h0m0 12h0m0 5h0m1-160h0m0 50h0m0 49h0m0 11h0m1-132h0m0 100h0m0 1h0m1-83h0m1 6h0m0 88h0m0 74h0m1-138h0m0 145h0m0 6h0m0 6h0m2-201h0m0 12h0m0 102h0m0 18h0m0 32h0m1-158h0m0 105h0m0 21h0m0 57h0m0 3h0m1-208h0m0 80h0m0 14h0m0 1h0m0 93h0m0 21h0m1-194h0m0 72h0m0 3h0m0 50h0m0 17h0m0 48h0m0 12h0m0 8h0m1-188h0m0 28h0m0 2h0m0 16h0m0 44h0m0 17h0m0 23h0m0 50h0m1-204h0m0 10h0m0 135h0m0 9h0m1-152h0m0 155h0m0 37h0m1-193h0m0 96h0m0 7h0m0 8h0m0 3h0m0 14h0m0 1h0m0 3h0m0 51h0m1-159h0m0 70h0m0 111h0m1-162h0m0 19h0m0 4h0m0 15h0m0 9h0m0 44h0m0 26h0m0 31h0m1-174h0m0 72h0m0 27h0m0 9h0m0 19h0m0 17h0m1-174h0m0 10h0m0 97h0m0 16h0m0 21h0m0 37h0m0 3h0m0 17h0m1-158h0m0 34h0m0 12h0m0 45h0m1-123h0m0 121h0m0 67h0m0 35h0m1-161h0m0 34h0m2-102h0m0 47h0m0 72h0m0 1h0m0 44h0m0 50h0m1-188h0m0 26h0m0 5h0m0 67h0m0 3h0m0 15h0m0 84h0m1-176h0m0 7h0m0 56h0m0 34h0m0 28h0m0 40h0m0 6h0m0 11h0m1-109h0m0 3h0m0 14h0m1-125h0m0 86h0m0 89h0m0 18h0m1-201h0m0 4h0m0 85h0m0 71h0m1-116h0m0 71h0m0 77h0m0 12h0m1-213h0m0 8h0m0 40h0m0 74h0m0 34h0m0 10h0m0 8h0m1-126h0m0 105h0m0 1h0m0 4h0m0 69h0m1-139h0m0 38h0m0 97h0m1-218h0m0 39h0m0 17h0m0 2h0m0 27h0m0 83h0m0 8h0m0 24h0m1-163h0m0 15h0m0 83h0m0 37h0m0 9h0m0 11h0m0 34h0m1-27h0m1-216h0m0 5h0m0 4h0m0 30h0m0 42h0m0 39h0m0 12h0m0 10h0m0 21h0m0 27h0m0 21h0m1-199h0m0 71h0m0 24h0m0 3h0m0 3h0m0 6h0m0 25h0m0 38h0m1-132h0m0 67h0m0 89h0m1-179h0m0 46h0m0 45h0m0 13h0m0 12h0m0 17h0m0 65h0m1-136h0m0 34h0m0 38h0m0 20h0m0 6h0m0 18h0m1-188h0m0 21h0m0 98h0m1-86h0m0 22h0m0 23h0m0 4h0m0 13h0m0 122h0m0 7h0m0 2h0m1-238h0m0 6h0m0 16h0m0 16h0m0 18h0m0 12h0m0 92h0m0 5h0m0 11h0m0 12h0m1-152h0m0 7h0m0 101h0m0 15h0m0 28h0m0 20h0m1-150h0m0 5h0m0 25h0m0 48h0m0 17h0m0 23h0m0 11h0m0 18h0m0 31h0m1-244h0m0 71h0m0 19h0m0 16h0m0 112h0m1-156h0m0 18h0m0 5h0m0 19h0m0 92h0m1-185h0m0 1h0m0 18h0m0 79h0m0 33h0m0 85h0m0 15h0m1-213h0m0 5h0m0 6h0m0 24h0m0 101h0m0 52h0m0 18h0m0 10h0m1-218h0m0 11h0m0 12h0m0 14h0m0 157h0m0 1h0m1-134h0m0 41h0m0 45h0m0 1h0m0 14h0m0 21h0m0 8h0m1-241h0m0 84h0m0 8h0m0 16h0m0 52h0m0 47h0m1-140h0m0 52h0m0 66h0m0 4h0m0 1h0m0 54h0m1-200h0m0 15h0m0 43h0m0 10h0m0 8h0m0 132h0m1-243h0m0 6h0m0 123h0m0 30h0m0 19h0m0 33h0m0 15h0m1-177h0m0 69h0m0 73h0m1-198h0m0 63h0m0 118h0m0 19h0m0 13h0m1-44h0m0 43h0m0 23h0m0 1h0m1-212h0m0 19h0m0 31h0m0 113h0m1-190h0m0 21h0m0 8h0m0 149h0m1-46h0m0 7h0m0 26h0m0 44h0m1-186h0m0 26h0m0 31h0m0 97h0m0 61h0m0 17h0m1-270h0m0 9h0m0 37h0m0 78h0m0 5h0m0 77h0m0 8h0m1-212h0m0 79h0m0 48h0m0 36h0m0 47h0m0 74h0m1-195h0m0 44h0m0 55h0m0 8h0m0 63h0m0 4h0m2-222h0m0 28h0m0 85h0m0 41h0m1-173h0m0 143h0m1-148h0m0 162h0m0 51h0m0 39h0m0 3h0m0 7h0m1-283h0m0 201h0m0 56h0m0 4h0m1-229h0m0 14h0m0 112h0m0 9h0m1-159h0m0 154h0m0 12h0m0 47h0m1-217h0m0 207h0m0 63h0m1-110h0m0 16h0m0 43h0m0 39h0m0 2h0m1-99h0m0 74h0m0 43h0m1-107h0m0 17h0m0 8h0m0 34h0m0 5h0m0 47h0m1-152h0m0 53h0m0 21h0m0 1h0m0 2h0m0 8h0m1-89h0m0 35h0m0 29h0m0 75h0m0 8h0m1-142h0m0 89h0m0 41h0m1-11h0m0 21h0m1-103h0m1 96h0m1-130h0m0 19h0m0 9h0m0 58h0m1-88h0m0 12h0m0 12h0m0 87h0m0 11h0m1-89h0m0 97h0m1-113h0m0 49h0m1-69h0m0 19h0m0 89h0m1-100h0m0 137h0m0 1h0m1-139h0m0 11h0m0 21h0m0 80h0m1-106h0m0 32h0m0 34h0m0 2h0m1-1h0m0 24h0m0 15h0m1-61h0m0 23h0m1-25h0m1-17h0m1-37h0m0 34h0m1 44h0m0 12h0m0 4h0m0 50h0m1-52h0m1-55h0m0 4h0m0 39h0m1-60h0m0 8h0m0 78h0m1-32h0m0 25h0m0 20h0m1-100h0m0 45h0m0 12h0m0 20h0m2-83h0m0 36h0m0 40h0m0 19h0m0 29h0m1-86h0m0 19h0m0 14h0m0 29h0m1-103h0m0 6h0m0 1h0m0 51h0m1-54h0m0 54h0m0 18h0m0 13h0m1-98h0m0 20h0m0 15h0m0 75h0m1-80h0m0 39h0m0 21h0m1-64h0m0 27h0m0 20h0m0 14h0m1-53h0m0 81h0m1-81h0m0 49h0m0 33h0m1-54h0m0 36h0m1-68h0m0 93h0m1-93h0m1 27h0m1-42h0m0 59h0m3-15h0m1 16h0m0 19h0m1-48h0m1 35h0m0 10h0m2-13h0m2 7h0m1-31h0m0 8h0m0 23h0m7-29h0" stroke="#A3A500" stroke-width="8.2" stroke-linecap="round" fill="none"/>
<path transform="translate(875 405) scale(0.2)" d="M191 607h0m1 14h0m2-2h0m2 7h0m1-12h0m0 24h0m0 24h0m2-32h0m1-16h0m3-8h0m1 52h0m1-48h0m0 24h0m0 27h0m1-54h0m4 11h0m1-8h0m0 12h0m1-37h0m1 43h0m1-7h0m1 13h0m1-43h0m0 1h0m1 27h0m0 9h0m1 24h0m2-61h0m0 38h0m2-5h0m1-28h0m0 52h0m0 10h0m2-50h0m1 18h0m0 28h0m1 0h0m2-6h0m0 1h0m1-39h0m1 28h0m0 7h0m1 18h0m1-31h0m0 11h0m0 14h0m0 2h0m1-61h0m0 28h0m1 8h0m1-31h0m0 33h0m1-2h0m1-35h0m1 30h0m3 5h0m2 13h0m1-31h0m2-8h0m3 2h0m0 28h0m1 2h0m3-9h0m6 4h0m2-14h0m1 19h0m4-14h0m2-19h0m1 25h0m1-19h0" stroke="#A3A500" stroke-width="8.2" stroke-linecap="round" fill="none"/>
<path transform="translate(875 405) scale(0.2)" d="M423 541h0m5 0h0m3 2h0m0 2h0m3 0h0m1-4h0m1-3h0m1 1h0m2-9h0m1 11h0m0 10h0m4-14h0m6-7h0m2-2h0m2 4h0m1 0h0m0 4h0m1-8h0m0 5h0m1-1h0m2-7h0m0 3h0m2-5h0m2-5h0m0 4h0m0 1h0m1-2h0m5-2h0m0 3h0m1-13h0m2 4h0m1 1h0m4-2h0m0 5h0" stroke="#00B5C0" stroke-width="9.0" stroke-linecap="round" fill="none"/>
<path transform="translate(875 405) scale(0.2)" d="M448 553h0m1 2h0m11 6h0m0 3h0m2 1h0m10 12h0m4 1h0" stroke="#00B5C0" stroke-width="9.0" stroke-linecap="round" fill="none"/>
<path transform="translate(875 405) scale(0.2)" d="M475 516h0m13-8h0m1-3h0m2-2h0m0 7h0m1-4h0m2-1h0m3-1h0m4-5h0m0 2h0m2-10h0m0 7h0m1-2h0m6-5h0m2-4h0m4 0h0m0 10h0m6-4h0m1-7h0m1 1h0m2-7h0m0 4h0" stroke="#1F78B4" stroke-width="9.0" stroke-linecap="round" fill="none"/>
<path transform="translate(875 405) scale(0.2)" d="M446 649h0m15 4h0m12 6h0m1-21h0m2 18h0m1-3h0m2-1h0m5-4h0m1-15h0m0 19h0m0 13h0m1-15h0m1-1h0m0 10h0m2-11h0m1 19h0m2-6h0m1-7h0m2-11h0m0 10h0m1-8h0m2-7h0m0 21h0m1-5h0m0 11h0m5-15h0m0 17h0m1 18h0m2-15h0m2 1h0m1 15h0m1-41h0m2-9h0m0 8h0m0 16h0m0 2h0m1 1h0m0 7h0m1-29h0m0 53h0m1-4h0m1-42h0m0 74h0m3-78h0m0 54h0m1-43h0m0 33h0m0 3h0m2 3h0m0 12h0m0 15h0m1-81h0m0 7h0m0 78h0m0 8h0m1-37h0m0 30h0m1-53h0m0 44h0m1-44h0m0 49h0m1-90h0m0 14h0m0 19h0m0 18h0m0 20h0m0 6h0m1-39h0m0 19h0m1-42h0m0 30h0m0 11h0m0 23h0m1-49h0m2-7h0m0 1h0m0 7h0m0 20h0m0 48h0m1-90h0m0 103h0m1-87h0m0 29h0m0 21h0m0 22h0m2-31h0m1 3h0m0 19h0m1-63h0m0 69h0m0 6h0m1-66h0m0 53h0m1-68h0m0 30h0m0 59h0m1-75h0m0 57h0m1-53h0m0 9h0m0 13h0m0 19h0m0 20h0m2-65h0m1-19h0m0 31h0m1-22h0m0 37h0m0 8h0m0 41h0m1-94h0m0 73h0m0 5h0m0 3h0m1-63h0m1-8h0m0 34h0m0 16h0m1-12h0m0 16h0m0 10h0m1 21h0m2-79h0m0 40h0m0 11h0m2-9h0m0 28h0m0 1h0m0 9h0m0 3h0m1-122h0m0 36h0m0 53h0m1-73h0m0 11h0m0 70h0m1-46h0m0 16h0m1-41h0m0 50h0m1-65h0m0 3h0m0 63h0m1-54h0m0 27h0m0 13h0m1-50h0m0 45h0m1-35h0m0 24h0m0 6h0m0 3h0m0 42h0m1-78h0m0 77h0m1-87h0m0 7h0m0 6h0m0 6h0m0 7h0m0 18h0m2-35h0m0 27h0m0 36h0m1-82h0m0 58h0m0 43h0m1-70h0m1-8h0m0 22h0m0 8h0m0 49h0m0 24h0m2-115h0m0 30h0m0 2h0m0 48h0m0 9h0m1-100h0m0 44h0m0 4h0m0 3h0m0 44h0m1-85h0m0 108h0m1-103h0m0 2h0m0 33h0m0 50h0m1 35h0m1-102h0m0 34h0m0 46h0m1-105h0m1 119h0m1-127h0m0 1h0m0 7h0m0 9h0m0 12h0m0 40h0m0 67h0m2-118h0m0 36h0m0 4h0m0 80h0m0 5h0m1-69h0m0 3h0m0 60h0m0 3h0m0 2h0m1-137h0m0 47h0m0 46h0m1-40h0m0 9h0m0 4h0m0 46h0m0 27h0m1-87h0m0 61h0m1 18h0m0 3h0m0 7h0m1-143h0m0 11h0m0 108h0m1 20h0m1-87h0m0 54h0m1-61h0m0 84h0m0 18h0m1-83h0m1-62h0m0 20h0m0 2h0m0 43h0m0 57h0m0 42h0m0 2h0m1-81h0m0 42h0m0 16h0m1-127h0m0 136h0m1-126h0m0 47h0m0 38h0m0 35h0m1-157h0m0 12h0m0 107h0m0 11h0m1-98h0m0 31h0m0 15h0m0 29h0m2-1h0m0 34h0m2-119h0m0 120h0m0 22h0m1-153h0m0 43h0m0 6h0m0 53h0m0 7h0m1-95h0m0 78h0m0 51h0m0 2h0m1-158h0m0 13h0m0 80h0m0 39h0m0 27h0m1-113h0m0 90h0m1-83h0m0 35h0m0 79h0m1-104h0m0 3h0m1-61h0m0 119h0m2-57h0m0 44h0m0 13h0m0 10h0m0 6h0m1-140h0m0 13h0m0 29h0m0 34h0m0 3h0m0 43h0m1-121h0m0 63h0m0 74h0m0 16h0m0 13h0m1-131h0m0 15h0m0 47h0m0 4h0m1-94h0m0 136h0m0 3h0m1-82h0m1-19h0m0 30h0m0 20h0m0 44h0m1-117h0m0 46h0m0 31h0m0 30h0m1-110h0m0 25h0m0 12h0m0 47h0m1-12h0m0 41h0m1-115h0m0 25h0m0 28h0m0 17h0m0 65h0m1-66h0m0 54h0m1-65h0m0 24h0m1-98h0m0 4h0m0 31h0m0 17h0m0 5h0m0 50h0m0 14h0m1-89h0m0 118h0m1-141h0m0 1h0m0 97h0m0 3h0m0 37h0m0 1h0m1-152h0m0 23h0m0 64h0m0 46h0m1-132h0m0 18h0m0 36h0m0 33h0m0 15h0m1-21h0m1-62h0m0 14h0m0 8h0m0 27h0m0 18h0m0 24h0m1-67h0m0 101h0m1-61h0m0 3h0m0 25h0m1-112h0m0 47h0m0 55h0m0 15h0m0 13h0m1-134h0m0 87h0m1-35h0m0 1h0m0 1h0m0 8h0m0 32h0m0 9h0m1-85h0m1 104h0m1-113h0m1-2h0m0 17h0m0 46h0m0 62h0m1-105h0m0 4h0m0 4h0m1 104h0m1-93h0m0 12h0m0 30h0m0 11h0m0 20h0m0 21h0m1-93h0m0 23h0m0 18h0m0 48h0m1-10h0m0 20h0m1-136h0m0 28h0m0 3h0m1 28h0m0 33h0m0 19h0m1-115h0m0 11h0m0 7h0m0 18h0m0 75h0m2-106h0m0 73h0m0 36h0m0 5h0m0 2h0m0 3h0m1-134h0m0 86h0m0 44h0m1-108h0m0 52h0m0 4h0m0 44h0m1-106h0m0 105h0m1-81h0m0 74h0m1-74h0m0 7h0m0 3h0m0 21h0m0 5h0m1-66h0m0 89h0m0 34h0m1-109h0m0 27h0m0 9h0m0 44h0m1-34h0m0 33h0m1-80h0m0 60h0m1-80h0m0 25h0m0 20h0m0 8h0m0 3h0m0 34h0m1-47h0m0 30h0m0 32h0m0 6h0m1-80h0m0 29h0m0 1h0m0 23h0m0 32h0m0 2h0m1-103h0m0 22h0m0 41h0m1-17h0m0 42h0m1-23h0m1 15h0m0 2h0m0 31h0m1-108h0m0 11h0m0 42h0m0 12h0m1-39h0m1 70h0m0 12h0m0 4h0m0 1h0m1-136h0m0 9h0m0 117h0m1-118h0m0 13h0m0 102h0m1-83h0m0 43h0m0 42h0m1-79h0m0 51h0m0 25h0m0 10h0m1-121h0m0 29h0m0 52h0m1 33h0m1-53h0m0 40h0m1-89h0m0 24h0m0 60h0m1-14h0m1-57h0m0 17h0m1-17h0m0 35h0m0 34h0m1-101h0m0 26h0m0 15h0m0 28h0m0 8h0m1-73h0m0 52h0m0 28h0m1-68h0m0 53h0m0 15h0m1-52h0m0 9h0m0 24h0m0 4h0m0 6h0m0 21h0m0 18h0m1 1h0m1-120h0m0 26h0m0 42h0m0 22h0m0 38h0m1-11h0m0 1h0m1-7h0m1-91h0m0 61h0m0 37h0m1-23h0m0 2h0m1-91h0m0 35h0m0 15h0m0 29h0m0 4h0m0 44h0m1-3h0m1-102h0m0 87h0m0 6h0m0 9h0m1-126h0m0 17h0m0 25h0m0 15h0m0 36h0m0 6h0m2-108h0m0 31h0m0 62h0m0 14h0m1-81h0m0 105h0m1-106h0m0 27h0m0 2h0m1 21h0m1-75h0m0 85h0m0 3h0m1-35h0m0 16h0m0 13h0m1-29h0m0 1h0m0 25h0m0 29h0m1 23h0m1-72h0m0 25h0m1-7h0m0 9h0m2 18h0m1-90h0m0 44h0m0 22h0m0 54h0m1-111h0m0 42h0m0 42h0m1-108h0m0 118h0m1-9h0m0 2h0m1-93h0m0 84h0m2-66h0m0 17h0m0 25h0m0 41h0m0 7h0m0 18h0m1-139h0m0 94h0m1-97h0m0 59h0m0 5h0m0 31h0m0 26h0m0 28h0m1-108h0m1 47h0m0 49h0m1-46h0m1-91h0m0 16h0m0 47h0m0 17h0m0 10h0m0 22h0m1-111h0m0 18h0m0 40h0m0 16h0m0 69h0m1-100h0m0 64h0m0 35h0m1-134h0m1 11h0m0 18h0m1-47h0m0 24h0m0 11h0m0 53h0m1-22h0m1 15h0m0 44h0m0 9h0m0 6h0m1-107h0m0 77h0m0 3h0m1-117h0m0 18h0m0 86h0m0 10h0m0 20h0m1-122h0m0 12h0m0 29h0m0 21h0m0 20h0m1-47h0m0 16h0m0 5h0m1-48h0m0 119h0m1-109h0m0 24h0m0 58h0m1-92h0m0 30h0m0 37h0m0 35h0m1-104h0m0 14h0m0 24h0m0 19h0m0 29h0m1-57h0m0 20h0m0 38h0m0 4h0m0 8h0m1-99h0m0 16h0m0 49h0m0 6h0m1-22h0m0 17h0m0 40h0m1-94h0m1-16h0m0 9h0m1-19h0m0 47h0m0 6h0m0 67h0m1-78h0m0 29h0m0 14h0m0 28h0m0 24h0m1-49h0m0 1h0m0 10h0m1-62h0m0 10h0m0 27h0m0 34h0m1-74h0m0 31h0m1-32h0m0 21h0m0 29h0m0 22h0m1-79h0m0 14h0m0 35h0m0 7h0m0 12h0m2-95h0m0 71h0m3-25h0m0 5h0m1-42h0m0 11h0m0 9h0m1 6h0m0 85h0m1-53h0m1-35h0m1-11h0m0 38h0m0 55h0m1-95h0m0 16h0m1-23h0m0 12h0m0 5h0m0 58h0m1-67h0m0 61h0m0 19h0m1-107h0m0 102h0m1-90h0m0 69h0m0 10h0m0 3h0m1-50h0m1-29h0m1 31h0m1-27h0m0 17h0m0 19h0m0 40h0m0 17h0m1-55h0m0 8h0m0 2h0m0 8h0m0 37h0m1-54h0m0 38h0m0 20h0m1-85h0m0 52h0m1-51h0m0 66h0m1-88h0m0 1h0m0 67h0m0 44h0m1-14h0m1-86h0m0 53h0m0 1h0m1-59h0m0 36h0m0 10h0m1-17h0m0 21h0m0 14h0m0 30h0m1-89h0m0 82h0m0 3h0m1-70h0m0 49h0m1-16h0m0 8h0m0 6h0m0 28h0m1-103h0m0 34h0m1 48h0m1-51h0m0 8h0m0 10h0m0 23h0m1-3h0m0 23h0m1-74h0m0 54h0m1-75h0m0 13h0m0 13h0m0 29h0m0 24h0m0 28h0m0 9h0m1-116h0m0 109h0m1 3h0m1-102h0m0 107h0m1-36h0m0 1h0m1-80h0m0 20h0m0 38h0m1-24h0m0 41h0m1-38h0m0 10h0m0 34h0m0 8h0m0 8h0m1-62h0m0 35h0m0 7h0m0 37h0m1-52h0m0 6h0m0 29h0m2-69h0m0 54h0m1-31h0m0 36h0m2-90h0m0 34h0m0 45h0m1-41h0m0 33h0m1 6h0m1-64h0m0 59h0m0 37h0m1-88h0m0 19h0m0 67h0m0 8h0m1-112h0m1 65h0m0 1h0m0 4h0m0 27h0m1-84h0m0 6h0m0 22h0m1-5h0m0 25h0m0 13h0m1-49h0m0 86h0m1-92h0m0 16h0m0 56h0m1-20h0m0 5h0m1-7h0m1-42h0m0 8h0m0 20h0m0 58h0m1-108h0m0 65h0m0 9h0m0 20h0m0 6h0m1-99h0m0 23h0m0 4h0m1 34h0m1-21h0m0 53h0m0 5h0m1-73h0m0 27h0m0 17h0m0 26h0m0 15h0m1-82h0m1-19h0m0 22h0m1 85h0m1-114h0m0 47h0m1-49h0m0 60h0m0 14h0m1-24h0m0 26h0m0 19h0m1-44h0m1-34h0m0 33h0m1-11h0m2 60h0m1-81h0m0 54h0m0 9h0m1-46h0m0 11h0m0 24h0m0 7h0m0 12h0m2-80h0m0 49h0m0 7h0m0 18h0m0 22h0m1-3h0m1-43h0m1-14h0m0 28h0m1-69h0m0 6h0m0 90h0m1-68h0m0 56h0m1-72h0m0 49h0m1-59h0m0 4h0m0 40h0m0 41h0m1-84h0m0 12h0m0 86h0m1-45h0m0 29h0m1-8h0m1-45h0m0 44h0m0 19h0m1-69h0m0 13h0m0 19h0m0 22h0m0 12h0m1-54h0m0 33h0m0 21h0m1-9h0m1-20h0m1-52h0m0 39h0m0 20h0m1-28h0m0 37h0m1-75h0m1 1h0m0 25h0m0 26h0m0 5h0m1-36h0m0 1h0m0 21h0m0 10h0m0 19h0m0 3h0m1-25h0m0 28h0m1-65h0m0 59h0m2-33h0m1-10h0m0 17h0m1 4h0m1 3h0m0 4h0m2-11h0m2-42h0m0 40h0m2 24h0m2-21h0m1-15h0m1-12h0m0 29h0m4 5h0m1 0h0m1-26h0m1-15h0m1 2h0m5-8h0" stroke="#8B4500" stroke-width="8.2" stroke-linecap="round" fill="none"/>
<path transform="translate(875 405) scale(0.2)" d="M639 591h0m5 3h0m6 11h0m7-18h0m1 4h0m13 3h0m9 12h0m12-15h0m10 6h0m11-24h0m0 21h0m15-18h0m1 29h0m1-24h0m3-2h0m3 15h0m4-7h0m1-12h0m11 28h0m8-21h0m8-2h0m2 5h0m0 2h0m5 2h0m3-11h0m6 0h0m11-5h0m1 6h0m1 13h0m18-7h0" stroke="#8B4500" stroke-width="8.2" stroke-linecap="round" fill="none"/>
<path transform="translate(875 405) scale(0.2)" d="M610 825h0m3-1h0m2 26h0m1-28h0m2 15h0m2 26h0m1-30h0m1 0h0m0 23h0m0 17h0m2-5h0m2-29h0m0 32h0m1-19h0m2-16h0m0 10h0m1-16h0m1 9h0m1 17h0m1 10h0m1-33h0m0 6h0m1 19h0m2-33h0m0 32h0m3-28h0m0 20h0m0 23h0m0 1h0m1-51h0m0 28h0m1-10h0m0 36h0m1-6h0m1-48h0m0 15h0m1-17h0m0 9h0m0 36h0m1-35h0m0 2h0m0 30h0m2-24h0m0 6h0m1 27h0m1-36h0m0 10h0m0 2h0m1 13h0m0 5h0m0 17h0m1-67h0m0 6h0m0 25h0m3 22h0" stroke="#53B400" stroke-width="8.2" stroke-linecap="round" fill="none"/>
<path transform="translate(875 405) scale(0.2)" d="M656 898h0m3-2h0m0 16h0m1-26h0m0 16h0m2-14h0m3 0h0m0 17h0m0 2h0m1-13h0m1 25h0m1-44h0m0 35h0m1-31h0m0 27h0m1 12h0m0 3h0m1-44h0m0 48h0m1-2h0m1-33h0m1 27h0m1-46h0m0 18h0m0 11h0m1-8h0m0 25h0m2-38h0m0 1h0m0 9h0m0 33h0m1-15h0m0 9h0m1-44h0m0 39h0m2-22h0m0 7h0m0 22h0m1-30h0m1-13h0m0 2h0m0 1h0m1-11h0m0 1h0m0 6h0m1 17h0m0 7h0m0 5h0m2 11h0m0 9h0m1-44h0m0 1h0m0 2h0m0 28h0m1-61h0m1 36h0m0 33h0m1-7h0m0 3h0m1-64h0m0 42h0m1-31h0m0 22h0m0 6h0m0 25h0m1-33h0m0 22h0m0 21h0m2-68h0m0 12h0m0 34h0m0 3h0m1-48h0m0 19h0m0 14h0m0 8h0m1-50h0m0 6h0m0 4h0m0 44h0m1-38h0m0 62h0m1-84h0m0 10h0m1-7h0m1 7h0m0 5h0m0 83h0m1-87h0m0 1h0m0 23h0m0 45h0m1-73h0m0 2h0m0 19h0m0 42h0m0 6h0m2-68h0m0 40h0m0 50h0m2-112h0m0 87h0m1-81h0m0 26h0m0 15h0m0 5h0m0 10h0m0 46h0m1-95h0m0 83h0m0 11h0m1-81h0m0 67h0m0 1h0m1-24h0m0 11h0m1-64h0m0 15h0m0 7h0m0 60h0m0 9h0m1-116h0m0 35h0m0 17h0m0 59h0m1-27h0m0 34h0m1-122h0m0 6h0m0 44h0m0 54h0m0 3h0m0 13h0m1-106h0m0 66h0m0 20h0m0 21h0m1-86h0m0 55h0m0 14h0m1-68h0m2-2h0m0 78h0m1-7h0m0 9h0m0 7h0m0 4h0m1-53h0m0 22h0m0 31h0m1-121h0m0 14h0m0 8h0m0 5h0m0 34h0m0 43h0m0 3h0m0 10h0m0 6h0m1-106h0m0 3h0m0 16h0m0 8h0m0 22h0m0 17h0m1-56h0m0 19h0m1-17h0m0 19h0m0 15h0m0 9h0m1-82h0m0 24h0m0 18h0m0 28h0m0 2h0m0 16h0m0 41h0m1-65h0m0 36h0m1 21h0m1-118h0m0 16h0m0 1h0m0 4h0m0 30h0m0 10h0m0 29h0m0 9h0m0 26h0m1-91h0m0 12h0m0 48h0m1-79h0m0 43h0m0 64h0m1-65h0m0 13h0m0 9h0m1 19h0m0 6h0m0 2h0m0 5h0m1-24h0m1-87h0m0 76h0m0 14h0m1-86h0m0 6h0m0 2h0m0 5h0m0 3h0m0 50h0m0 1h0m0 39h0m0 8h0m1-128h0m0 61h0m0 38h0m0 8h0m0 4h0m0 3h0m1-98h0m0 33h0m1-52h0m0 32h0m0 16h0m0 25h0m0 59h0m1-123h0m0 4h0m0 19h0m0 26h0m0 9h0m0 21h0m0 3h0m1-83h0m0 19h0m0 52h0m1-76h0m0 79h0m1-89h0m0 97h0m0 35h0m1-90h0m0 22h0m0 23h0m0 48h0m0 16h0m0 1h0m1-141h0m0 10h0m0 28h0m0 55h0m0 37h0m1-124h0m0 33h0m0 15h0m0 21h0m1-1h0m0 4h0m0 31h0m0 8h0m0 10h0m0 1h0m1-132h0m0 40h0m0 13h0m0 6h0m0 22h0m0 13h0m0 34h0m1-87h0m0 21h0m0 3h0m0 32h0m0 37h0m1-120h0m0 55h0m0 25h0m1-77h0m0 9h0m0 27h0m0 3h0m0 26h0m0 18h0m0 17h0m1-100h0m0 5h0m0 42h0m1-65h0m0 8h0m0 5h0m0 51h0m1-54h0m0 58h0m0 10h0m0 7h0m0 11h0m0 4h0m0 37h0m1-82h0m0 50h0m1-128h0m0 2h0m0 17h0m0 5h0m0 127h0m0 15h0m1-154h0m0 63h0m0 38h0m0 43h0m1-131h0m0 55h0m0 8h0m0 37h0m1-120h0m0 17h0m0 22h0m0 106h0m1-124h0m0 73h0m0 27h0m0 2h0m1-111h0m0 2h0m0 38h0m0 49h0m0 30h0m0 8h0m1-103h0m0 2h0m0 10h0m0 24h0m0 73h0m1-7h0m0 10h0m1-139h0m0 59h0m0 7h0m0 32h0m0 43h0m0 1h0m1-64h0m0 48h0m0 11h0m1-159h0m0 8h0m0 5h0m0 2h0m0 7h0m0 74h0m0 15h0m0 9h0m1-96h0m0 41h0m0 28h0m0 34h0m0 40h0m1-168h0m0 76h0m0 88h0m0 6h0m1-138h0m0 39h0m0 80h0m2-127h0m0 72h0m0 18h0m1-102h0m0 2h0m0 47h0m0 3h0m0 62h0m0 15h0m0 10h0m1-129h0m0 34h0m0 47h0m1-39h0m0 2h0m0 4h0m0 38h0m0 33h0m1-132h0m0 77h0m0 33h0m1 16h0m0 19h0m1-141h0m0 4h0m0 11h0m0 32h0m0 81h0m0 7h0m1-147h0m0 45h0m0 77h0m0 25h0m0 7h0m1-147h0m0 73h0m0 10h0m0 8h0m0 29h0m0 7h0m0 20h0m0 8h0m1-145h0m0 14h0m0 14h0m0 55h0m1-82h0m0 37h0m0 2h0m0 4h0m0 45h0m1-61h0m0 8h0m0 75h0m1-127h0m0 4h0m0 51h0m0 12h0m0 34h0m0 52h0m1-108h0m0 1h0m0 65h0m0 32h0m1-93h0m0 27h0m0 5h0m0 20h0m1-95h0m0 88h0m0 45h0m1-150h0m0 26h0m0 31h0m0 26h0m0 32h0m1-108h0m0 8h0m0 65h0m0 5h0m0 28h0m0 10h0m1-120h0m0 43h0m0 14h0m0 13h0m0 52h0m0 20h0m0 19h0m0 17h0m1-165h0m0 11h0m0 27h0m0 12h0m0 27h0m0 9h0m0 26h0m0 8h0m1-64h0m0 83h0m0 6h0m1-134h0m0 38h0m0 7h0m0 33h0m1-100h0m0 14h0m0 26h0m0 8h0m0 72h0m0 35h0m0 13h0m1-147h0m0 70h0m0 18h0m0 12h0m1-111h0m0 2h0m0 25h0m0 19h0m0 26h0m0 41h0m1-60h0m0 71h0m0 10h0m1-65h0m0 5h0m0 16h0m0 39h0m1-122h0m0 89h0m0 36h0m0 12h0m1-99h0m0 33h0m0 1h0m1-74h0m0 47h0m0 16h0m0 48h0m0 10h0m0 42h0m1-11h0m1-165h0m0 86h0m0 52h0m1-139h0m0 2h0m0 25h0m0 18h0m0 7h0m0 12h0m0 46h0m0 38h0m1-120h0m0 17h0m0 23h0m0 2h0m0 39h0m0 22h0m1-52h0m0 32h0m0 13h0m0 26h0m1-127h0m0 16h0m0 120h0m1-95h0m0 112h0m1-145h0m0 28h0m0 5h0m0 72h0m1-114h0m0 48h0m0 8h0m0 73h0m1-123h0m0 76h0m1-74h0m0 31h0m1-48h0m0 23h0m0 27h0m0 18h0m0 56h0m1-81h0m0 23h0m0 62h0m1-103h0m0 9h0m0 3h0m0 6h0m0 66h0m1-102h0m0 12h0m0 83h0m0 30h0m0 17h0m1-152h0m0 9h0m0 122h0m1-123h0m0 51h0m0 27h0m0 46h0m0 18h0m1-142h0m0 18h0m0 37h0m0 12h0m0 45h0m0 2h0m0 13h0m1-88h0m0 22h0m0 33h0m1-63h0m0 87h0m0 18h0m1-48h0m0 32h0m0 20h0m1-95h0m0 44h0m0 41h0m0 7h0m1-47h0m0 2h0m0 42h0m1-116h0m0 5h0m0 33h0m0 2h0m0 66h0m0 24h0m1-140h0m0 19h0m0 14h0m0 48h0m0 9h0m1-80h0m0 1h0m0 22h0m0 15h0m0 15h0m0 12h0m1-13h0m0 63h0m0 5h0m1-136h0m0 38h0m0 37h0m1-2h0m0 48h0m1-134h0m0 72h0m0 13h0m0 50h0m1-110h0m0 2h0m0 7h0m0 31h0m0 7h0m1-63h0m0 66h0m0 63h0m1-74h0m0 22h0m0 12h0m1-66h0m0 12h0m0 44h0m0 6h0m0 34h0m0 10h0m0 25h0m1-143h0m0 6h0m0 112h0m1-117h0m0 14h0m0 7h0m0 3h0m0 72h0m0 1h0m0 7h0m0 29h0m1-93h0m0 47h0m0 4h0m0 5h0m0 5h0m0 8h0m1-88h0m0 72h0m0 27h0m1-112h0m0 18h0m0 26h0m0 21h0m0 22h0m0 25h0m0 6h0m1-144h0m0 39h0m0 41h0m0 56h0m1-60h0m1-40h0m0 8h0m0 1h0m0 16h0m0 32h0m0 55h0m1-137h0m0 13h0m0 18h0m0 94h0m0 14h0m1-115h0m0 11h0m0 80h0m1-97h0m0 4h0m0 49h0m0 17h0m0 6h0m0 7h0m0 16h0m0 20h0m1-110h0m1-35h0m0 93h0m0 16h0m0 29h0m0 10h0m1-92h0m1-45h0m0 27h0m0 27h0m1-67h0m0 110h0m0 2h0m1-108h0m0 28h0m0 22h0m0 14h0m0 18h0m0 47h0m1-128h0m0 2h0m0 77h0m0 9h0m0 41h0m1-49h0m1-65h0m0 44h0m0 70h0m1-44h0m0 35h0m1-98h0m0 24h0m0 2h0m1 7h0m0 5h0m0 48h0m0 6h0m0 6h0m1-122h0m0 26h0m0 83h0m0 3h0m0 13h0m1-89h0m0 1h0m0 40h0m1-32h0m0 22h0m0 5h0m0 16h0m1-67h0m0 69h0m0 53h0m1-55h0m1-43h0m0 11h0m0 32h0m0 3h0m0 40h0m1-62h0m0 8h0m1-70h0m0 3h0m0 51h0m0 41h0m0 42h0m1-140h0m0 16h0m0 29h0m0 7h0m1 15h0m0 48h0m0 6h0m0 7h0m0 8h0m0 10h0m1-137h0m0 96h0m0 1h0m1-92h0m0 65h0m0 17h0m0 2h0m0 10h0m1-110h0m0 40h0m1-26h0m0 75h0m1-76h0m0 37h0m0 57h0m0 3h0m1-111h0m0 81h0m0 58h0m1-115h0m0 24h0m0 76h0m0 15h0m1-114h0m0 13h0m0 30h0m1-24h0m0 23h0m0 23h0m0 43h0m1-122h0m0 29h0m0 9h0m0 15h0m0 36h0m1-101h0m0 151h0m1-151h0m0 29h0m0 3h0m1-20h0m0 18h0m0 53h0m1-44h0m0 26h0m0 78h0m1-152h0m0 75h0m0 71h0m1-130h0m0 34h0m0 70h0m0 10h0m0 11h0m0 4h0m1-80h0m0 11h0m0 2h0m0 39h0m0 26h0m0 1h0m1-23h0m1-67h0m0 1h0m0 36h0m0 35h0m1-90h0m0 52h0m0 2h0m0 46h0m1-122h0m0 33h0m0 101h0m0 2h0m1-102h0m0 29h0m0 28h0m0 2h0m0 25h0m0 17h0m1-127h0m0 54h0m0 43h0m0 15h0m1-106h0m0 42h0m0 35h0m0 19h0m1-96h0m0 10h0m0 11h0m0 2h0m0 27h0m0 36h0m1-74h0m0 86h0m0 22h0m1-142h0m0 144h0m0 2h0m1-141h0m0 88h0m0 18h0m0 6h0m1-95h0m0 36h0m0 82h0m0 6h0m1-71h0m0 12h0m2-30h0m0 32h0m1-77h0m0 5h0m0 13h0m0 14h0m0 97h0m1-82h0m0 53h0m1-103h0m0 118h0m1-121h0m0 15h0m0 19h0m0 4h0m0 46h0m0 39h0m1-17h0m1-79h0m0 49h0m1 14h0m1-100h0m0 11h0m0 3h0m0 127h0m0 3h0m1-144h0m0 29h0m0 38h0m0 12h0m0 8h0m0 5h0m0 44h0m1-112h0m0 23h0m1-46h0m0 10h0m0 33h0m0 22h0m1-80h0m0 61h0m0 3h0m0 2h0m0 9h0m0 6h0m0 19h0m0 39h0m1-5h0m0 26h0m1-129h0m0 76h0m0 16h0m0 3h0m1-116h0m0 8h0m0 30h0m0 3h0m0 8h0m0 19h0m0 27h0m1-74h0m0 8h0m0 29h0m0 13h0m1-59h0m0 34h0m0 12h0m0 38h0m0 20h0m0 2h0m0 15h0m0 6h0m1-104h0m0 1h0m0 11h0m0 4h0m0 4h0m0 17h0m0 2h0m0 36h0m0 8h0m1-25h0m0 4h0m0 46h0m1-124h0m1-16h0m0 39h0m0 33h0m0 44h0m0 12h0m0 9h0m1-127h0m0 6h0m0 15h0m0 26h0m0 9h0m0 20h0m0 25h0m1-64h0m0 15h0m0 50h0m1-87h0m0 58h0m0 3h0m0 22h0m1-71h0m0 18h0m0 20h0m0 9h0m0 21h0m0 27h0m1-133h0m0 19h0m0 87h0m0 1h0m0 23h0m1-98h0m0 5h0m0 10h0m0 76h0m1-103h0m0 9h0m1 23h0m0 21h0m0 14h0m0 6h0m0 33h0m1-108h0m0 14h0m1-11h0m0 13h0m0 26h0m0 18h0m0 5h0m1-69h0m0 73h0m0 6h0m0 15h0m1-95h0m1 88h0m0 12h0m0 9h0m1-103h0m0 20h0m0 41h0m0 9h0m0 33h0m1-15h0m1-41h0m0 18h0m0 19h0m1-32h0m1-8h0m0 36h0m1 18h0m1-95h0m0 6h0m0 28h0m0 11h0m0 2h0m0 6h0m0 31h0m1-68h0m0 16h0m0 58h0m1-54h0m0 48h0m1-75h0m0 10h0m0 5h0m0 73h0m1-76h0m0 18h0m0 32h0m1-59h0m0 79h0m1-26h0m0 30h0m1-67h0m1 21h0m1 43h0m1-23h0m0 17h0m0 13h0m1-72h0m0 54h0m0 8h0m1-70h0m0 22h0m0 41h0m0 1h0m1 4h0m1-59h0m0 3h0m1 24h0m1-30h0m2 33h0m2-28h0m0 49h0m1-34h0m0 23h0m0 15h0" stroke="#C49A00" stroke-width="8.2" stroke-linecap="round" fill="none"/>
<path transform="translate(875 405) scale(0.2)" d="M786 742h0m14-27h0m0 47h0m6-45h0m0 29h0m1-13h0m14 23h0m4-3h0m11 0h0m8-14h0m0 34h0m1-40h0m2-22h0m4 47h0m6-14h0m1-16h0m5-2h0m2 9h0m0 1h0m2-15h0m4 34h0m3-15h0m7-1h0m4-10h0m4-4h0m0 5h0m2-4h0m3 30h0m1-45h0m10 33h0" stroke="#C49A00" stroke-width="8.2" stroke-linecap="round" fill="none"/>
<path transform="translate(875 405) scale(0.2)" d="M546 444h0m1 0h0" stroke="#A3A500" stroke-width="9.0" stroke-linecap="round" fill="none"/>
<path transform="translate(875 405) scale(0.2)" d="M722 296h0m1-1h0" stroke="#00B5C0" stroke-width="9.0" stroke-linecap="round" fill="none"/>
<path d="M73.6 691.8V901.9M69.1 901.9H200" fill="none" stroke="#000" stroke-width="1.25"/>
<text x="66.4" y="906.05" font-size="11.5" text-anchor="end">0</text>
<path d="M69.1 859.98H73.6" stroke="#000" stroke-width="1.25"/><text x="66.4" y="864.13" font-size="11.5" text-anchor="end">2000</text>
<path d="M69.1 818.06H73.6" stroke="#000" stroke-width="1.25"/><text x="66.4" y="822.21" font-size="11.5" text-anchor="end">4000</text>
<path d="M69.1 776.14H73.6" stroke="#000" stroke-width="1.25"/><text x="66.4" y="780.29" font-size="11.5" text-anchor="end">6000</text>
<path d="M69.1 734.22H73.6" stroke="#000" stroke-width="1.25"/><text x="66.4" y="738.37" font-size="11.5" text-anchor="end">8000</text>
<path d="M69.1 692.30H73.6" stroke="#000" stroke-width="1.25"/><text x="66.4" y="696.45" font-size="11.5" text-anchor="end">10,000</text>
<text x="20.8" y="798" font-size="16.2" text-anchor="middle" transform="rotate(-90 20.8 798)">Number of ionocytes (per ALI)</text>
<rect x="92" y="813.4" width="36.4" height="88.50" fill="#d2d3d5" stroke="#000" stroke-width="1.25"/><rect x="146.6" y="863.5" width="36.2" height="38.40" fill="#d2d3d5" stroke="#000" stroke-width="1.25"/><path d="M110 813.4V742.8M103.4 742.8H116.6M164.6 863.5V833.8M158 833.8H171.2" stroke="#000" stroke-width="1.25" fill="none"/><path d="M110 901.9V908.2M164.6 901.9V908.2" stroke="#000" stroke-width="1.25"/><circle cx="110" cy="732" r="2.6"/><circle cx="110" cy="846.6" r="2.6"/><circle cx="110" cy="859" r="2.6"/><circle cx="164.6" cy="829" r="2.6"/><circle cx="159.7" cy="881.7" r="2.6"/><circle cx="169.7" cy="879" r="2.6"/><path d="M110 725.5V719.7H164.6V824.5" fill="none" stroke="#000" stroke-width="1.25"/><text x="137.3" y="715.8" font-size="13" text-anchor="middle">NS</text>
<text x="110" y="925.5" font-size="15.6" text-anchor="middle">Large</text>
<text x="164.6" y="925.5" font-size="15.6" text-anchor="middle">Small</text>
<text x="244.5" y="671.7" font-size="16">Large airway ionocytes</text>
<text x="533.8" y="671" font-size="14.6">Small airway ionocytes</text>
<g clip-path="url(#clipL)"><rect x="240.5" y="679.3" width="285.4" height="272.9" fill="#29072d"/><rect x="240.5" y="679.3" width="285.4" height="272.9" filter="url(#micL)"/><ellipse cx="454.6" cy="686.5" rx="41.4" ry="13.8" fill="#29072d" opacity="0.7" filter="url(#blur4)"/><ellipse cx="397.1" cy="709.5" rx="24.2" ry="17.3" fill="#29072d" opacity="0.55" filter="url(#blur4)"/><ellipse cx="503.5" cy="769.9" rx="24.2" ry="17.3" fill="#29072d" opacity="0.5" filter="url(#blur4)"/><ellipse cx="279.2" cy="836.1" rx="20.7" ry="20.7" fill="#29072d" opacity="0.45" filter="url(#blur4)"/><ellipse cx="420.1" cy="893.6" rx="20.7" ry="17.3" fill="#29072d" opacity="0.45" filter="url(#blur4)"/><ellipse cx="259.0" cy="933.9" rx="24.2" ry="17.3" fill="#29072d" opacity="0.55" filter="url(#blur4)"/><ellipse cx="494.9" cy="853.4" rx="17.3" ry="13.8" fill="#29072d" opacity="0.4" filter="url(#blur4)"/><ellipse cx="322.3" cy="813.1" rx="20.7" ry="13.8" fill="#29072d" opacity="0.4" filter="url(#blur4)"/><ellipse cx="517.9" cy="718.2" rx="13.8" ry="20.7" fill="#29072d" opacity="0.5" filter="url(#blur4)"/><ellipse cx="379.8" cy="679.3" rx="138.1" ry="6.2" fill="#29072d" opacity="0.55" filter="url(#blur4)"/><ellipse cx="247.5" cy="876.4" rx="10.4" ry="41.4" fill="#29072d" opacity="0.4" filter="url(#blur4)"/><ellipse cx="509.3" cy="933.9" rx="20.7" ry="17.3" fill="#29072d" opacity="0.4" filter="url(#blur4)"/><ellipse cx="365.5" cy="942.5" rx="69.0" ry="8.6" fill="#29072d" opacity="0.35" filter="url(#blur4)"/><rect x="240.5" y="679.3" width="110.5" height="116" fill="#29072d"/><rect x="240.5" y="679.3" width="110.5" height="116" filter="url(#micLi)"/><ellipse cx="253.2" cy="698.8" rx="19.0" ry="20.3" fill="#29072d" opacity="0.92" filter="url(#blur2)"/><ellipse cx="326.8" cy="726.8" rx="24.1" ry="17.8" fill="#29072d" opacity="0.95" filter="url(#blur2)"/><ellipse cx="316.7" cy="683.6" rx="11.4" ry="6.3" fill="#29072d" opacity="0.6" filter="url(#blur2)"/><ellipse cx="279.9" cy="781.3" rx="12.7" ry="7.6" fill="#29072d" opacity="0.9" filter="url(#blur2)"/><ellipse cx="326.8" cy="783.9" rx="19.0" ry="11.4" fill="#29072d" opacity="0.95" filter="url(#blur2)"/><ellipse cx="269.7" cy="757.2" rx="7.6" ry="5.1" fill="#29072d" opacity="0.3" filter="url(#blur2)"/><g filter="url(#blur1)"><path d="M276.1 695.0C282.0 691.8 280.3 692.5 286.2 694.8C292.1 697.1 290.0 695.6 293.8 702.0C297.6 708.4 294.9 706.5 297.6 714.1C300.4 721.7 298.1 717.9 302.1 724.9C306.1 731.8 303.8 729.1 309.7 735.0C315.6 740.9 313.5 738.4 319.9 742.6C326.2 746.9 324.7 742.8 328.7 747.7C332.8 752.6 330.1 750.0 331.9 757.2C333.7 764.4 334.6 765.3 334.1 769.3C333.6 773.3 332.6 773.1 330.4 769.3C328.2 765.5 330.3 763.9 327.5 757.9C324.6 751.8 327.9 755.1 321.8 751.1C315.6 747.2 318.4 751.1 309.1 746.1C299.8 741.0 303.1 742.3 293.8 735.9C284.5 729.5 288.7 733.2 281.1 726.8C273.6 720.3 275.5 724.0 271.2 716.6C267.0 709.2 266.8 711.7 268.5 704.6C270.1 697.4 270.1 698.3 276.1 695.0Z" fill="#9A24A0" fill-opacity="0.42" stroke="#C030C4" stroke-width="1.6" stroke-opacity="0.9"/><ellipse cx="280.5" cy="685.5" rx="2.2" ry="4.5" fill="#C030C4" opacity="0.9"/><ellipse cx="324.3" cy="747.1" rx="5" ry="3" fill="#D050D0" opacity="0.7"/></g><g filter="url(#blur07)"><ellipse cx="374.8" cy="799.3" rx="6" ry="4" fill="#B030B8" fill-opacity="0.35" stroke="#B030B8" stroke-width="1.5" opacity="0.85" transform="rotate(-15 374.8 799.3)"/><ellipse cx="399.0" cy="811.4" rx="5" ry="6.5" fill="#B030B8" fill-opacity="0.35" stroke="#B030B8" stroke-width="1.5" opacity="0.85" transform="rotate(-30 399.0 811.4)"/><path d="M402.4 816.6L414.1 829.0" stroke="#B030B8" stroke-width="2.4" opacity="0.8" stroke-linecap="round"/><ellipse cx="458.3" cy="810.7" rx="3.4" ry="4" fill="#E838E8" fill-opacity="0.5" stroke="#E838E8" stroke-width="2.2" opacity="1" transform="rotate(0 458.3 810.7)"/><ellipse cx="458.3" cy="835.9" rx="2.6" ry="3.6" fill="#E040E0" fill-opacity="0.35" stroke="#E040E0" stroke-width="1.6" opacity="1" transform="rotate(0 458.3 835.9)"/><ellipse cx="505.9" cy="817.6" rx="3" ry="2.6" fill="#B030B8" fill-opacity="0.35" stroke="#B030B8" stroke-width="1.5" opacity="0.75" transform="rotate(0 505.9 817.6)"/><ellipse cx="420.3" cy="846.9" rx="3.6" ry="2.6" fill="#C038C8" fill-opacity="0.6" stroke="#C038C8" stroke-width="1.5" opacity="0.8" transform="rotate(-30 420.3 846.9)"/><ellipse cx="403.1" cy="900.3" rx="3.6" ry="3" fill="#C838D0" fill-opacity="0.6" stroke="#C838D0" stroke-width="1.5" opacity="0.9" transform="rotate(-20 403.1 900.3)"/><ellipse cx="344.5" cy="927.9" rx="5" ry="6" fill="#7A207E" fill-opacity="0.8" stroke="#7A207E" stroke-width="0" opacity="0.6" transform="rotate(0 344.5 927.9)"/><ellipse cx="319.7" cy="855.5" rx="3" ry="7" fill="#7A207E" fill-opacity="0.8" stroke="#7A207E" stroke-width="0" opacity="0.6" transform="rotate(0 319.7 855.5)"/><path d="M421.0 716.6L434.1 720.0L447.2 722.8" stroke="#8A2A90" stroke-width="3.4" opacity="0.75" stroke-linecap="round" fill="none"/><circle cx="417.5" cy="879.8" r="0.82" fill="#E040E0" opacity="0.97"/><circle cx="450.0" cy="927.5" r="0.51" fill="#E040E0" opacity="0.73"/><circle cx="506.3" cy="855.3" r="0.86" fill="#E040E0" opacity="0.56"/><circle cx="374.9" cy="749.1" r="0.72" fill="#E040E0" opacity="0.79"/><circle cx="248.6" cy="741.2" r="0.61" fill="#E040E0" opacity="0.96"/><circle cx="457.1" cy="726.1" r="0.82" fill="#E040E0" opacity="0.57"/><circle cx="416.0" cy="717.4" r="0.50" fill="#E040E0" opacity="0.94"/><circle cx="303.0" cy="740.9" r="0.89" fill="#E040E0" opacity="0.94"/><circle cx="325.1" cy="937.8" r="0.72" fill="#E040E0" opacity="0.84"/><circle cx="301.7" cy="932.4" r="0.78" fill="#E040E0" opacity="0.98"/><circle cx="492.6" cy="762.9" r="0.64" fill="#E040E0" opacity="0.58"/><circle cx="285.4" cy="701.2" r="0.62" fill="#E040E0" opacity="0.80"/><circle cx="245.9" cy="863.0" r="0.64" fill="#E040E0" opacity="0.65"/><circle cx="471.7" cy="810.9" r="0.63" fill="#E040E0" opacity="0.74"/><circle cx="440.2" cy="699.0" r="0.89" fill="#E040E0" opacity="0.51"/><circle cx="452.7" cy="907.0" r="0.51" fill="#E040E0" opacity="0.89"/><circle cx="346.4" cy="836.7" r="0.50" fill="#E040E0" opacity="0.52"/><circle cx="295.1" cy="936.2" r="0.58" fill="#E040E0" opacity="0.88"/><circle cx="502.5" cy="932.7" r="0.64" fill="#E040E0" opacity="0.68"/><circle cx="390.3" cy="888.8" r="0.54" fill="#E040E0" opacity="0.87"/><circle cx="465.8" cy="911.0" r="0.51" fill="#E040E0" opacity="0.97"/><circle cx="270.3" cy="774.0" r="0.74" fill="#E040E0" opacity="0.96"/><circle cx="339.2" cy="928.0" r="0.72" fill="#E040E0" opacity="0.66"/><circle cx="332.8" cy="730.9" r="0.53" fill="#E040E0" opacity="0.57"/><circle cx="435.9" cy="947.1" r="0.56" fill="#E040E0" opacity="0.52"/><circle cx="518.3" cy="824.9" r="0.66" fill="#E040E0" opacity="0.62"/><circle cx="409.5" cy="902.1" r="0.68" fill="#E040E0" opacity="0.71"/><circle cx="260.4" cy="925.8" r="0.51" fill="#E040E0" opacity="0.75"/></g></g><path d="M350.9 679.3V770.8H240.5" fill="none" stroke="#fff" stroke-width="2"/><rect x="498.5" y="934.5" width="21.5" height="14.5" fill="#000" opacity="0.85"/><rect x="495.6" y="931.8" width="11.8" height="2.4" fill="#fff"/><text x="486.5" y="943.6" font-size="10.6" class="b" style="fill:#fff">10 µm</text><g clip-path="url(#clipR)"><rect x="533" y="679.3" width="285.8" height="272.9" fill="#1b0420"/><rect x="533" y="679.3" width="285.8" height="272.9" filter="url(#micR)"/><ellipse cx="737.1" cy="723.9" rx="48.9" ry="33.1" fill="#1b0420" opacity="0.97" filter="url(#blur3)"/><ellipse cx="702.6" cy="692.3" rx="20.1" ry="12.9" fill="#1b0420" opacity="0.8" filter="url(#blur3)"/><ellipse cx="774.5" cy="769.9" rx="23.0" ry="11.5" fill="#1b0420" opacity="0.6" filter="url(#blur3)"/><ellipse cx="604.8" cy="821.7" rx="18.7" ry="14.4" fill="#1b0420" opacity="0.9" filter="url(#blur3)"/><ellipse cx="656.6" cy="876.4" rx="21.6" ry="12.1" fill="#1b0420" opacity="0.9" filter="url(#blur3)"/><ellipse cx="561.6" cy="908.0" rx="27.3" ry="12.9" fill="#1b0420" opacity="0.85" filter="url(#blur3)"/><ellipse cx="797.5" cy="893.6" rx="23.0" ry="37.4" fill="#1b0420" opacity="0.85" filter="url(#blur3)"/><ellipse cx="748.6" cy="931.0" rx="25.9" ry="14.4" fill="#1b0420" opacity="0.6" filter="url(#blur3)"/><ellipse cx="541.5" cy="795.8" rx="11.5" ry="14.4" fill="#1b0420" opacity="0.6" filter="url(#blur3)"/><ellipse cx="714.1" cy="813.1" rx="11.5" ry="8.6" fill="#1b0420" opacity="0.5" filter="url(#blur3)"/><ellipse cx="610.6" cy="928.2" rx="20.1" ry="10.1" fill="#1b0420" opacity="0.6" filter="url(#blur3)"/><ellipse cx="811.9" cy="798.7" rx="11.5" ry="17.3" fill="#1b0420" opacity="0.55" filter="url(#blur3)"/><ellipse cx="673.8" cy="769.9" rx="11.5" ry="8.6" fill="#1b0420" opacity="0.5" filter="url(#blur3)"/><ellipse cx="567.4" cy="853.4" rx="12.9" ry="8.6" fill="#1b0420" opacity="0.5" filter="url(#blur3)"/><ellipse cx="691.1" cy="836.1" rx="10.1" ry="7.2" fill="#1b0420" opacity="0.45" filter="url(#blur3)"/><ellipse cx="806.2" cy="718.2" rx="8.6" ry="17.3" fill="#1b0420" opacity="0.6" filter="url(#blur3)"/><ellipse cx="814.8" cy="847.6" rx="8.6" ry="57.5" fill="#1b0420" opacity="0.6" filter="url(#blur3)"/><ellipse cx="783.2" cy="942.5" rx="34.5" ry="11.5" fill="#1b0420" opacity="0.7" filter="url(#blur3)"/><ellipse cx="573.2" cy="942.5" rx="28.8" ry="8.6" fill="#1b0420" opacity="0.5" filter="url(#blur3)"/><ellipse cx="708.4" cy="948.3" rx="23.0" ry="7.2" fill="#1b0420" opacity="0.5" filter="url(#blur3)"/><ellipse cx="650.8" cy="709.5" rx="8.6" ry="8.6" fill="#1b0420" opacity="0.4" filter="url(#blur3)"/><rect x="533" y="679.3" width="96" height="91.5" fill="#1b0420"/><rect x="533" y="679.3" width="96" height="91.5" filter="url(#micRi)"/><ellipse cx="589.0" cy="753.8" rx="20.7" ry="8.6" fill="#1b0420" opacity="0.8" filter="url(#blur2)"/><ellipse cx="540.7" cy="681.4" rx="13.8" ry="10.3" fill="#1b0420" opacity="0.6" filter="url(#blur2)"/><ellipse cx="606.2" cy="660.7" rx="17.2" ry="8.6" fill="#1b0420" opacity="0.6" filter="url(#blur2)"/><ellipse cx="620.0" cy="709.0" rx="13.8" ry="13.8" fill="#1b0420" opacity="0.6" filter="url(#blur2)"/><ellipse cx="554.5" cy="853.8" rx="17.2" ry="10.3" fill="#1b0420" opacity="0.5" filter="url(#blur2)"/><g filter="url(#blur07)"><path d="M557.2 711.0 L566.6 709.0 L576.9 721.0 L589.0 733.8 L601.0 738.3 L608.3 741.4" fill="none" stroke="#D030D4" stroke-width="6" stroke-linecap="round" stroke-linejoin="round" opacity="0.95"/><ellipse cx="563.4" cy="711.0" rx="9.5" ry="6.5" fill="#D438D8" transform="rotate(38 563.4 711.0)"/><ellipse cx="558.6" cy="707.6" rx="4" ry="3" fill="#D890C8" opacity="0.8"/><ellipse cx="600.0" cy="737.9" rx="10" ry="5" fill="#DC40DC" transform="rotate(18 600.0 737.9)"/><ellipse cx="563.8" cy="778.6" rx="4.2" ry="4" fill="#D830DC" fill-opacity="0.75" stroke="#D830DC" stroke-width="1.5" opacity="1" transform="rotate(0 563.8 778.6)"/><ellipse cx="584.5" cy="791.7" rx="4.3" ry="4" fill="#C070BC" fill-opacity="0.3" stroke="#C070BC" stroke-width="1.5" opacity="0.9" transform="rotate(0 584.5 791.7)"/><ellipse cx="678.6" cy="829.7" rx="4" ry="2.6" fill="#D838DC" fill-opacity="0.7" stroke="#D838DC" stroke-width="1.5" opacity="1" transform="rotate(30 678.6 829.7)"/><ellipse cx="681.4" cy="840.0" rx="3.5" ry="4" fill="#D870D0" fill-opacity="0.35" stroke="#D870D0" stroke-width="1.5" opacity="1" transform="rotate(0 681.4 840.0)"/><ellipse cx="809.7" cy="760.7" rx="4" ry="5" fill="#DC40E0" fill-opacity="0.65" stroke="#DC40E0" stroke-width="1.5" opacity="1" transform="rotate(-15 809.7 760.7)"/><ellipse cx="814.1" cy="820.0" rx="4.5" ry="4.5" fill="#B050B0" fill-opacity="0.4" stroke="#B050B0" stroke-width="1.5" opacity="0.85" transform="rotate(0 814.1 820.0)"/><ellipse cx="786.2" cy="921.7" rx="4.8" ry="4.8" fill="#E038E0" fill-opacity="0.55" stroke="#E038E0" stroke-width="2" opacity="1" transform="rotate(0 786.2 921.7)"/><ellipse cx="733.1" cy="884.1" rx="5" ry="3.2" fill="#C858C8" fill-opacity="0.6" stroke="#C858C8" stroke-width="1.5" opacity="1" transform="rotate(35 733.1 884.1)"/><ellipse cx="744.1" cy="893.8" rx="5.5" ry="2.4" fill="#D040D4" fill-opacity="0.8" stroke="#D040D4" stroke-width="1.5" opacity="1" transform="rotate(20 744.1 893.8)"/><ellipse cx="632.4" cy="940.7" rx="3.4" ry="5.2" fill="#DC44E0" fill-opacity="0.7" stroke="#DC44E0" stroke-width="1.5" opacity="1" transform="rotate(25 632.4 940.7)"/><ellipse cx="629.0" cy="946.2" rx="2.8" ry="3.3" fill="#DC44E0" fill-opacity="0.7" stroke="#DC44E0" stroke-width="1.5" opacity="1" transform="rotate(0 629.0 946.2)"/><ellipse cx="737.9" cy="921.0" rx="8" ry="6" fill="#7A207E" fill-opacity="0.5" stroke="#7A207E" stroke-width="0" opacity="0.6" transform="rotate(0 737.9 921.0)"/><circle cx="665.7" cy="782.6" r="0.57" fill="#E040E0" opacity="0.93"/><circle cx="538.8" cy="816.7" r="0.95" fill="#E040E0" opacity="0.54"/><circle cx="691.1" cy="846.8" r="0.52" fill="#E040E0" opacity="0.69"/><circle cx="732.6" cy="803.3" r="0.86" fill="#E040E0" opacity="0.58"/><circle cx="603.2" cy="713.3" r="0.75" fill="#E040E0" opacity="0.96"/><circle cx="701.1" cy="888.4" r="0.69" fill="#E040E0" opacity="0.87"/><circle cx="565.3" cy="760.9" r="0.84" fill="#E040E0" opacity="0.86"/><circle cx="654.2" cy="707.2" r="0.63" fill="#E040E0" opacity="0.60"/><circle cx="615.2" cy="897.7" r="0.60" fill="#E040E0" opacity="0.94"/><circle cx="781.5" cy="698.5" r="0.69" fill="#E040E0" opacity="0.75"/><circle cx="543.5" cy="796.1" r="0.95" fill="#E040E0" opacity="0.56"/><circle cx="702.9" cy="716.0" r="0.79" fill="#E040E0" opacity="0.95"/><circle cx="593.4" cy="686.2" r="0.54" fill="#E040E0" opacity="0.77"/><circle cx="541.9" cy="706.4" r="0.75" fill="#E040E0" opacity="0.96"/><circle cx="653.8" cy="789.1" r="0.82" fill="#E040E0" opacity="0.55"/><circle cx="698.2" cy="729.6" r="0.80" fill="#E040E0" opacity="0.98"/><circle cx="552.1" cy="830.5" r="0.80" fill="#E040E0" opacity="0.57"/><circle cx="611.6" cy="946.6" r="1.00" fill="#E040E0" opacity="0.56"/><circle cx="733.1" cy="935.0" r="0.62" fill="#E040E0" opacity="0.81"/><circle cx="549.0" cy="780.6" r="0.84" fill="#E040E0" opacity="0.80"/><circle cx="752.3" cy="706.9" r="0.67" fill="#E040E0" opacity="0.93"/><circle cx="699.4" cy="803.1" r="0.70" fill="#E040E0" opacity="0.99"/><circle cx="696.7" cy="688.8" r="0.90" fill="#E040E0" opacity="0.66"/><circle cx="657.5" cy="740.3" r="0.72" fill="#E040E0" opacity="0.66"/><circle cx="561.7" cy="850.2" r="0.55" fill="#E040E0" opacity="0.89"/><circle cx="544.1" cy="890.1" r="0.90" fill="#E040E0" opacity="0.75"/><circle cx="734.2" cy="749.5" r="0.87" fill="#E040E0" opacity="0.71"/><circle cx="601.2" cy="938.5" r="0.70" fill="#E040E0" opacity="0.69"/><circle cx="776.1" cy="781.5" r="0.83" fill="#E040E0" opacity="0.59"/><circle cx="771.4" cy="752.4" r="0.53" fill="#E040E0" opacity="0.99"/><circle cx="585.0" cy="933.9" r="0.99" fill="#E040E0" opacity="0.80"/><circle cx="540.3" cy="700.1" r="0.60" fill="#E040E0" opacity="0.69"/><circle cx="707.0" cy="939.1" r="0.68" fill="#E040E0" opacity="0.57"/><circle cx="693.2" cy="720.2" r="0.54" fill="#E040E0" opacity="0.78"/><circle cx="730.5" cy="701.3" r="0.73" fill="#E040E0" opacity="0.85"/><circle cx="749.4" cy="785.1" r="0.94" fill="#E040E0" opacity="0.58"/><circle cx="735.9" cy="887.7" r="0.94" fill="#E040E0" opacity="0.75"/><circle cx="564.6" cy="696.8" r="0.76" fill="#E040E0" opacity="0.59"/><circle cx="712.1" cy="706.2" r="0.89" fill="#E040E0" opacity="0.61"/><circle cx="540.6" cy="730.4" r="0.73" fill="#E040E0" opacity="0.78"/><circle cx="644.9" cy="729.7" r="0.74" fill="#E040E0" opacity="0.97"/><circle cx="685.8" cy="932.5" r="0.51" fill="#E040E0" opacity="1.00"/><circle cx="784.1" cy="827.7" r="0.76" fill="#E040E0" opacity="0.77"/><circle cx="789.9" cy="701.3" r="0.82" fill="#E040E0" opacity="0.77"/><circle cx="620.5" cy="875.4" r="0.86" fill="#E040E0" opacity="0.55"/><circle cx="731.5" cy="803.7" r="0.75" fill="#E040E0" opacity="0.82"/><circle cx="551.7" cy="843.2" r="0.69" fill="#E040E0" opacity="0.94"/><circle cx="601.2" cy="901.3" r="0.86" fill="#E040E0" opacity="0.81"/><circle cx="780.5" cy="693.5" r="0.80" fill="#E040E0" opacity="0.81"/><circle cx="725.5" cy="791.4" r="0.53" fill="#E040E0" opacity="0.59"/><circle cx="706.1" cy="731.9" r="0.53" fill="#E040E0" opacity="0.68"/><circle cx="667.7" cy="825.4" r="0.51" fill="#E040E0" opacity="0.89"/><circle cx="629.8" cy="890.7" r="0.50" fill="#E040E0" opacity="0.98"/><circle cx="701.1" cy="941.8" r="0.99" fill="#E040E0" opacity="0.92"/><circle cx="566.5" cy="776.1" r="0.62" fill="#E040E0" opacity="0.89"/><circle cx="590.4" cy="742.4" r="0.56" fill="#E040E0" opacity="0.56"/><circle cx="797.8" cy="941.7" r="0.69" fill="#E040E0" opacity="0.87"/><circle cx="667.0" cy="821.8" r="0.68" fill="#E040E0" opacity="0.82"/><circle cx="602.7" cy="751.7" r="0.76" fill="#E040E0" opacity="0.60"/><circle cx="659.1" cy="933.2" r="0.51" fill="#E040E0" opacity="0.55"/><circle cx="759.4" cy="699.3" r="0.63" fill="#E040E0" opacity="0.93"/><circle cx="705.3" cy="742.3" r="0.53" fill="#E040E0" opacity="0.64"/><circle cx="620.4" cy="895.3" r="0.99" fill="#E040E0" opacity="0.89"/><circle cx="787.7" cy="929.7" r="0.94" fill="#E040E0" opacity="0.96"/><circle cx="806.0" cy="708.9" r="0.66" fill="#E040E0" opacity="0.62"/><circle cx="705.0" cy="813.8" r="0.67" fill="#E040E0" opacity="0.92"/><circle cx="647.9" cy="739.2" r="0.64" fill="#E040E0" opacity="0.73"/><circle cx="706.7" cy="834.1" r="0.72" fill="#E040E0" opacity="0.59"/><circle cx="648.8" cy="769.8" r="0.59" fill="#E040E0" opacity="0.77"/><circle cx="589.4" cy="871.9" r="0.83" fill="#E040E0" opacity="0.57"/></g></g><path d="M629 679.3V770.8H533" fill="none" stroke="#fff" stroke-width="2"/><rect x="793" y="934.5" width="20" height="14.5" fill="#000" opacity="0.85"/><rect x="790" y="931.8" width="12" height="2.4" fill="#fff"/><text x="781.3" y="943.6" font-size="10.6" class="b" style="fill:#fff">10 µm</text><circle cx="434.8" cy="969.8" r="4.7" fill="#2ecc40"/><text x="446.4" y="974.2" font-size="14.1">Acetylated tubulin</text>
<circle cx="576.2" cy="969.8" r="4.7" fill="#f012e8"/><text x="587.2" y="974.2" font-size="14.1">BSND</text>
<path d="M909.2 690V901.2M904.7 901.2H1036" fill="none" stroke="#000" stroke-width="1.25"/>
<text x="901.8" y="905.45" font-size="11.9" text-anchor="end">0</text>
<path d="M904.7 859.00H909.2" stroke="#000" stroke-width="1.25"/><text x="901.8" y="863.25" font-size="11.9" text-anchor="end">100</text>
<path d="M904.7 816.80H909.2" stroke="#000" stroke-width="1.25"/><text x="901.8" y="821.05" font-size="11.9" text-anchor="end">200</text>
<path d="M904.7 774.60H909.2" stroke="#000" stroke-width="1.25"/><text x="901.8" y="778.85" font-size="11.9" text-anchor="end">300</text>
<path d="M904.7 732.40H909.2" stroke="#000" stroke-width="1.25"/><text x="901.8" y="736.65" font-size="11.9" text-anchor="end">400</text>
<path d="M904.7 690.20H909.2" stroke="#000" stroke-width="1.25"/><text x="901.8" y="694.45" font-size="11.9" text-anchor="end">500</text>
<text font-size="16.2" text-anchor="middle" transform="translate(868.9 797) rotate(-90)">Ionocytes (per mm<tspan font-size="10.5" dy="-5.5">2</tspan><tspan dy="5.5">)</tspan></text>
<rect x="927.3" y="854" width="36.6" height="47.20" fill="#d2d3d5" stroke="#000" stroke-width="1.25"/><rect x="981.3" y="847.3" width="36.5" height="53.90" fill="#d2d3d5" stroke="#000" stroke-width="1.25"/><path d="M945.6 854V815.7M939.1 815.7H952.3M999.6 847.3V813.3M992.9 813.3H1006.5" stroke="#000" stroke-width="1.25" fill="none"/><path d="M945.6 901.2V907.8M999.6 901.2V907.8" stroke="#000" stroke-width="1.25"/><path d="M945.2 732.3V717.2H1000V759.1" fill="none" stroke="#000" stroke-width="1.25"/><text x="972.5" y="713.2" font-size="13" text-anchor="middle">NS</text>
<text x="945.6" y="922" font-size="15.6" text-anchor="middle">Large</text>
<text x="999.6" y="922" font-size="15.6" text-anchor="middle">Small</text>
<path d="M945.6 735.8l3 5.2h-6z"/><circle cx="941.9" cy="797.4" r="2.65"/><circle cx="949.5" cy="797.4" r="2.65"/><circle cx="945.6" cy="803.9" r="2.65"/><path d="M945.6 807.4l3 5.2h-6z"/><circle cx="945.6" cy="830.1" r="2.65"/><circle cx="945.6" cy="836.6" r="2.65"/><path d="M937.6 840.1l3 5.2h-6z"/><path d="M945.6 840.1l3 5.2h-6z"/><path d="M953.3 840.1l3 5.2h-6z"/><circle cx="941.5" cy="862.8" r="2.65"/><path d="M949.5 859.9l3 5.2h-6z"/><path d="M945.6 866.6l3 5.2h-6z"/><rect x="927.7" y="873.5" width="4.8" height="4.8"/><rect x="935.2" y="873.5" width="4.8" height="4.8"/><path d="M945.6 873.0l3 5.2h-6z"/><rect x="950.9" y="873.5" width="4.8" height="4.8"/><circle cx="961.3" cy="875.9" r="2.65"/><circle cx="937.6" cy="882.4" r="2.65"/><circle cx="945.6" cy="882.4" r="2.65"/><circle cx="953.3" cy="882.4" r="2.65"/><rect x="931.4" y="886.4" width="4.8" height="4.8"/><rect x="939.1" y="886.4" width="4.8" height="4.8"/><rect x="947.1" y="886.4" width="4.8" height="4.8"/><rect x="955.0" y="886.4" width="4.8" height="4.8"/><rect x="943.2" y="892.9" width="4.8" height="4.8"/><circle cx="999.6" cy="764.5" r="2.65"/><circle cx="999.6" cy="771.2" r="2.65"/><circle cx="999.6" cy="777.8" r="2.65"/><path d="M999.6 788.5l3 5.2h-6z"/><path d="M999.6 807.4l3 5.2h-6z"/><circle cx="994.6" cy="823.4" r="2.65"/><circle cx="1004.7" cy="823.4" r="2.65"/><circle cx="999.6" cy="829.9" r="2.65"/><path d="M989.5 833.7l3 5.2h-6z"/><circle cx="999.6" cy="836.6" r="2.65"/><circle cx="1010.1" cy="836.6" r="2.65"/><circle cx="994.6" cy="843.0" r="2.65"/><circle cx="1004.7" cy="843.0" r="2.65"/><path d="M989.5 846.8l3 5.2h-6z"/><path d="M999.6 846.8l3 5.2h-6z"/><path d="M1010.1 846.8l3 5.2h-6z"/><circle cx="984.3" cy="856.3" r="2.65"/><circle cx="994.6" cy="856.3" r="2.65"/><circle cx="1004.7" cy="856.3" r="2.65"/><path d="M1015.3 853.4l3 5.2h-6z"/><path d="M994.6 859.9l3 5.2h-6z"/><circle cx="1004.7" cy="862.8" r="2.65"/><rect x="987.1" y="867.1" width="4.8" height="4.8"/><circle cx="999.6" cy="869.5" r="2.65"/><circle cx="1010.1" cy="869.5" r="2.65"/><circle cx="999.6" cy="875.9" r="2.65"/><rect x="981.9" y="880.0" width="4.8" height="4.8"/><rect x="992.2" y="880.0" width="4.8" height="4.8"/><path d="M1004.7 879.5l3 5.2h-6z"/><rect x="1012.9" y="880.0" width="4.8" height="4.8"/><rect x="992.2" y="886.4" width="4.8" height="4.8"/><rect x="1002.3" y="886.4" width="4.8" height="4.8"/><rect x="997.2" y="892.9" width="4.8" height="4.8"/><rect x="1036.3" y="694.1" width="8" height="7.8"/><circle cx="1040.3" cy="714.6" r="4"/><path d="M1040.3 726.2l4.1 7.8h-8.2z"/><text x="1048.9" y="702.8" font-size="12.85">HU68</text>
<text x="1048.9" y="718.7" font-size="12.85">HU67</text>
<text x="1048.9" y="734.7" font-size="12.85">HU66</text>
</svg>
</body></html>
